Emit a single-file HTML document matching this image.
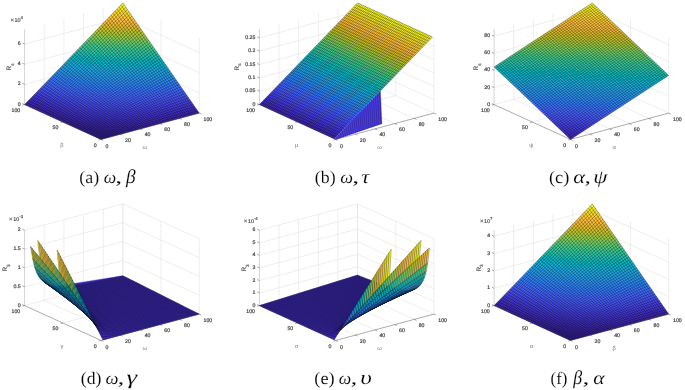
<!DOCTYPE html>
<html><head><meta charset="utf-8"><style>
html,body{margin:0;padding:0;background:#fff;width:685px;height:390px;overflow:hidden}
svg{display:block;font-family:"Liberation Sans",sans-serif;text-rendering:geometricPrecision}
.cap{font-family:"Liberation Serif",serif;font-size:17.5px;fill:#000;text-rendering:geometricPrecision;stroke:#fff;stroke-width:0.12px}
</style></head><body>
<div style="will-change:transform;width:685px;height:390px;background:#fff"><svg width="685" height="390" viewBox="0 0 685 390">
<rect width="685" height="390" fill="#fff"/>
<path d="M120.6 134.1L44.2 99.3M140.3 128.9L63.9 94.1M159.9 123.6L83.5 88.8M179.6 118.4L103.2 83.6M199.2 113.1L122.8 78.3M62.8 122L161 95.7M24.6 104.6L122.8 78.3M199.2 113.1L199.2 37.7M161 95.7L161 20.3M122.8 78.3L122.8 2.9M199.2 92.9L122.8 58.1M199.2 72.7L122.8 37.9M199.2 52.5L122.8 17.7M44.2 99.3L44.2 23.9M63.9 94.1L63.9 18.7M83.5 88.8L83.5 13.4M103.2 83.6L103.2 8.2M122.8 78.3L122.8 2.9M24.6 84.4L122.8 58.1M24.6 64.2L122.8 37.9M24.6 44L122.8 17.7" stroke="#e3e3e3" stroke-width="0.6" fill="none"/>
<path d="M24.6 104.6L24.6 29.2" stroke="#c8c8c8" stroke-width="0.8" fill="none"/><path d="M101 139.4L199.2 113.1M101 139.4L24.6 104.6M101 139.4L103.2 140.4M120.6 134.1L122.8 135.1M140.3 128.9L142.5 129.9M159.9 123.6L162.1 124.6M179.6 118.4L181.7 119.4M199.2 113.1L201.4 114.1M101 139.4L98.7 140M62.8 122L60.5 122.6M24.6 104.6L22.3 105.2M24.6 104.6L22.4 103.6M24.6 84.4L22.4 83.4M24.6 64.2L22.4 63.2M24.6 44L22.4 43" stroke="#666" stroke-width="0.55" fill="none"/>
<mask id="c1" maskUnits="userSpaceOnUse" x="0" y="0" width="685" height="390"><path d="M101 139.4L199.2 113.1L122.8 2.9L24.6 104.6Z" fill="#fff"/></mask><g mask="url(#c1)">
<path d="M100.3 141.2L204.4 115.7L123.5 -3.5L19.4 106.7Z" fill="#3e26a8"/>
<path d="M23.8 102L75.5 123.7L89.4 128.2L96.9 129.9L102.2 130.5L106.5 130.7L110.3 130.6L113.7 130.3L116.9 130L120 129.6L123 129.1L125.8 128.6L128.7 128.1L131.4 127.6L134.1 127L136.8 126.4L139.5 125.9L142.2 125.3L144.8 124.7L147.4 124.1L150 123.4L152.6 122.8L155.2 122.2L157.8 121.6L160.4 120.9L162.9 120.3L165.5 119.7L168.1 119L170.6 118.4L173.2 117.7L175.7 117.1L178.2 116.5L180.8 115.8L183.3 115.2L185.8 114.5L188.4 113.9L190.9 113.2L193.4 112.6L195.9 111.9L198.5 111.3L201 110.6L123.5 -3.5L23.8 102Z" fill="#402ab4"/>
<path d="M25.3 100.4L63.3 115.9L79.2 121.4L88.7 123.9L95.5 125.3L100.9 126L105.5 126.3L109.5 126.3L113.2 126.3L116.7 126.1L120 125.8L123.2 125.5L126.2 125.1L129.2 124.6L132.1 124.2L134.9 123.7L137.7 123.2L140.5 122.7L143.2 122.2L145.9 121.6L148.6 121L151.2 120.5L153.9 119.9L156.5 119.3L159.1 118.7L161.7 118.2L164.3 117.6L166.9 117L169.4 116.4L172 115.7L174.5 115.1L177.1 114.5L179.6 113.9L182.2 113.3L184.7 112.7L187.2 112L189.8 111.4L192.3 110.8L194.8 110.2L197.3 109.5L199.8 108.9L123.5 -3.5L25.3 100.4Z" fill="#422ec0"/>
<path d="M26.8 98.8L56.8 110.8L72.5 116.2L82.7 119.1L90.3 120.7L96.3 121.8L101.4 122.3L105.9 122.6L110 122.8L113.8 122.7L117.4 122.6L120.7 122.4L124 122.1L127.1 121.8L130.1 121.4L133.1 121L136 120.6L138.8 120.1L141.6 119.7L144.4 119.2L147.1 118.7L149.9 118.2L152.5 117.6L155.2 117.1L157.8 116.6L160.5 116L163.1 115.5L165.7 114.9L168.3 114.3L170.8 113.7L173.4 113.2L176 112.6L178.5 112L181.1 111.4L183.6 110.8L186.1 110.2L188.6 109.6L191.1 109L193.7 108.4L196.2 107.8L198.7 107.2L123.5 -3.5L26.8 98.8Z" fill="#4332cb"/>
<path d="M28.3 97.2L53.1 106.8L68 111.9L78.3 114.9L86.2 116.7L92.6 117.9L98.1 118.7L102.9 119.2L107.2 119.4L111.2 119.6L115 119.5L118.5 119.4L121.9 119.3L125.2 119L128.3 118.7L131.4 118.4L134.4 118L137.3 117.7L140.2 117.2L143 116.8L145.8 116.4L148.5 115.9L151.3 115.4L154 114.9L156.6 114.4L159.3 113.9L161.9 113.4L164.5 112.8L167.1 112.3L169.7 111.8L172.3 111.2L174.8 110.7L177.4 110.1L179.9 109.5L182.5 109L185 108.4L187.5 107.8L190 107.2L192.5 106.7L195 106.1L197.5 105.5L123.5 -3.5L28.3 97.2Z" fill="#4537d5"/>
<path d="M29.8 95.7L50.9 103.6L64.8 108.3L75 111.2L83 113.1L89.6 114.4L95.2 115.3L100.3 115.9L104.8 116.3L109 116.5L112.9 116.6L116.6 116.6L120.1 116.5L123.4 116.3L126.7 116.1L129.8 115.8L132.9 115.5L135.9 115.2L138.8 114.8L141.7 114.5L144.5 114.1L147.3 113.6L150 113.2L152.8 112.7L155.5 112.3L158.1 111.8L160.8 111.3L163.4 110.8L166 110.3L168.6 109.8L171.2 109.3L173.7 108.7L176.3 108.2L178.8 107.7L181.4 107.1L183.9 106.6L186.4 106L188.9 105.5L191.4 104.9L193.9 104.3L196.4 103.8L123.5 -3.5L29.8 95.7Z" fill="#463cde"/>
<path d="M31.2 94.1L49.7 100.8L62.6 105.1L72.5 107.9L80.4 109.8L87.1 111.2L92.9 112.2L98 112.8L102.7 113.3L107 113.6L111 113.7L114.8 113.8L118.4 113.8L121.8 113.7L125.1 113.5L128.4 113.3L131.5 113.1L134.5 112.8L137.5 112.5L140.4 112.1L143.3 111.8L146.1 111.4L148.9 111L151.6 110.6L154.3 110.1L157 109.7L159.7 109.2L162.3 108.8L164.9 108.3L167.5 107.8L170.1 107.3L172.7 106.8L175.2 106.3L177.7 105.8L180.3 105.3L182.8 104.8L185.3 104.2L187.8 103.7L190.2 103.2L192.7 102.6L195.2 102.1L123.5 -3.5L31.2 94.1Z" fill="#4741e5"/>
<path d="M32.7 92.5L49.1 98.3L61.1 102.2L70.6 104.8L78.4 106.8L85.1 108.2L90.9 109.2L96.1 109.9L100.9 110.4L105.2 110.8L109.3 111L113.2 111.1L116.8 111.1L120.4 111.1L123.7 111L127 110.8L130.1 110.6L133.2 110.4L136.2 110.1L139.2 109.8L142.1 109.5L144.9 109.2L147.7 108.8L150.5 108.4L153.2 108L155.9 107.6L158.6 107.2L161.2 106.7L163.8 106.3L166.4 105.8L169 105.4L171.6 104.9L174.1 104.4L176.6 103.9L179.2 103.4L181.7 102.9L184.2 102.4L186.6 101.9L189.1 101.4L191.6 100.9L194 100.4L123.5 -3.5L32.7 92.5Z" fill="#4747eb"/>
<path d="M34.2 90.9L48.9 96L60.1 99.5L69.2 102L76.8 103.9L83.4 105.3L89.2 106.3L94.5 107.1L99.3 107.7L103.7 108.1L107.8 108.3L111.7 108.5L115.4 108.6L119 108.6L122.4 108.5L125.7 108.4L128.9 108.3L132 108.1L135.1 107.8L138 107.6L140.9 107.3L143.8 107L146.6 106.6L149.4 106.3L152.1 105.9L154.8 105.5L157.5 105.1L160.1 104.7L162.8 104.3L165.4 103.9L167.9 103.4L170.5 103L173 102.5L175.6 102.1L178.1 101.6L180.6 101.1L183.1 100.6L185.5 100.2L188 99.7L190.4 99.2L192.9 98.7L123.5 -3.5L34.2 90.9Z" fill="#484df0"/>
<path d="M35.7 89.4L49 93.8L59.5 97L68.2 99.4L75.6 101.2L82.1 102.6L87.9 103.6L93.1 104.4L97.9 105L102.3 105.4L106.5 105.7L110.4 105.9L114.2 106.1L117.8 106.1L121.2 106.1L124.5 106L127.8 105.9L130.9 105.7L133.9 105.5L136.9 105.3L139.9 105.1L142.7 104.8L145.6 104.5L148.3 104.2L151.1 103.8L153.8 103.5L156.5 103.1L159.1 102.7L161.7 102.3L164.3 101.9L166.9 101.5L169.4 101.1L172 100.7L174.5 100.2L177 99.8L179.5 99.3L182 98.9L184.4 98.4L186.9 97.9L189.3 97.4L191.7 97L123.5 -3.5L35.7 89.4Z" fill="#4852f4"/>
<path d="M37.2 87.8L49.3 91.7L59.2 94.7L67.5 96.9L74.7 98.6L81 99.9L86.7 101L91.9 101.8L96.7 102.4L101.1 102.9L105.3 103.2L109.3 103.4L113 103.6L116.6 103.7L120.1 103.7L123.4 103.7L126.7 103.6L129.8 103.5L132.9 103.3L135.9 103.1L138.8 102.9L141.7 102.6L144.5 102.4L147.3 102.1L150.1 101.8L152.8 101.4L155.4 101.1L158.1 100.7L160.7 100.4L163.3 100L165.9 99.6L168.4 99.2L170.9 98.8L173.4 98.4L175.9 97.9L178.4 97.5L180.9 97.1L183.3 96.6L185.7 96.2L188.1 95.7L190.6 95.3L123.5 -3.5L37.2 87.8Z" fill="#4758f8"/>
<path d="M38.7 86.2L49.8 89.7L59.1 92.4L67 94.5L74 96.2L80.2 97.4L85.8 98.5L90.9 99.3L95.7 99.9L100.1 100.4L104.3 100.7L108.2 101L112 101.2L115.6 101.3L119.1 101.4L122.4 101.3L125.6 101.3L128.8 101.2L131.9 101.1L134.9 100.9L137.8 100.7L140.7 100.5L143.5 100.2L146.3 100L149.1 99.7L151.8 99.4L154.4 99.1L157.1 98.7L159.7 98.4L162.3 98L164.8 97.7L167.4 97.3L169.9 96.9L172.4 96.5L174.9 96.1L177.3 95.7L179.8 95.3L182.2 94.9L184.6 94.4L187 94L189.4 93.5L123.5 -3.5L38.7 86.2Z" fill="#465efb"/>
<path d="M40.2 84.6L50.5 87.8L59.2 90.3L66.8 92.2L73.5 93.8L79.6 95L85 96L90.1 96.8L94.8 97.5L99.2 98L103.3 98.3L107.3 98.6L111 98.8L114.6 99L118.1 99L121.5 99.1L124.7 99L127.9 99L130.9 98.9L133.9 98.7L136.9 98.6L139.8 98.4L142.6 98.1L145.4 97.9L148.1 97.6L150.8 97.4L153.5 97.1L156.1 96.8L158.7 96.5L161.3 96.1L163.8 95.8L166.3 95.4L168.8 95.1L171.3 94.7L173.8 94.3L176.2 93.9L178.7 93.5L181.1 93.1L183.5 92.7L185.9 92.3L188.2 91.8L123.5 -3.5L40.2 84.6Z" fill="#4563fd"/>
<path d="M41.7 83.1L51.2 85.9L59.5 88.2L66.7 90L73.2 91.5L79.1 92.7L84.5 93.7L89.4 94.5L94.1 95.1L98.4 95.6L102.5 96L106.4 96.3L110.2 96.5L113.8 96.7L117.2 96.8L120.6 96.8L123.8 96.8L127 96.8L130 96.7L133 96.6L136 96.4L138.8 96.3L141.7 96.1L144.4 95.8L147.2 95.6L149.9 95.4L152.5 95.1L155.1 94.8L157.7 94.5L160.3 94.2L162.8 93.9L165.3 93.5L167.8 93.2L170.3 92.8L172.7 92.5L175.2 92.1L177.6 91.7L180 91.3L182.4 90.9L184.7 90.5L187.1 90.1L123.5 -3.5L41.7 83.1Z" fill="#4269fe"/>
<path d="M43.2 81.5L52.1 84.1L59.9 86.2L66.8 87.9L73.1 89.3L78.8 90.4L84 91.4L88.9 92.1L93.5 92.8L97.8 93.3L101.8 93.7L105.7 94L109.4 94.2L113 94.4L116.4 94.5L119.8 94.6L123 94.6L126.1 94.6L129.2 94.5L132.2 94.4L135.1 94.3L138 94.2L140.8 94L143.5 93.8L146.3 93.6L148.9 93.4L151.6 93.1L154.2 92.8L156.8 92.6L159.3 92.3L161.8 92L164.3 91.7L166.8 91.3L169.3 91L171.7 90.7L174.1 90.3L176.5 89.9L178.9 89.6L181.2 89.2L183.6 88.8L185.9 88.4L123.5 -3.5L43.2 81.5Z" fill="#3e6fff"/>
<path d="M44.7 79.9L53 82.3L60.4 84.2L67 85.8L73 87.1L78.6 88.2L83.7 89.1L88.5 89.9L93 90.5L97.2 91L101.2 91.4L105.1 91.7L108.7 92L112.3 92.2L115.7 92.3L119 92.4L122.2 92.4L125.3 92.4L128.4 92.4L131.4 92.3L134.3 92.2L137.1 92.1L139.9 91.9L142.7 91.8L145.4 91.6L148 91.4L150.7 91.1L153.3 90.9L155.8 90.6L158.4 90.4L160.9 90.1L163.3 89.8L165.8 89.5L168.2 89.2L170.6 88.8L173 88.5L175.4 88.2L177.8 87.8L180.1 87.5L182.4 87.1L184.8 86.7L123.5 -3.5L44.7 79.9Z" fill="#3875fe"/>
<path d="M46.1 78.3L54 80.5L61 82.3L67.3 83.8L73.1 85L78.5 86.1L83.5 86.9L88.2 87.7L92.6 88.3L96.7 88.8L100.7 89.2L104.5 89.5L108.1 89.8L111.7 90L115 90.1L118.3 90.2L121.5 90.3L124.6 90.3L127.6 90.3L130.6 90.2L133.5 90.1L136.3 90L139.1 89.9L141.8 89.8L144.5 89.6L147.2 89.4L149.8 89.2L152.3 89L154.9 88.7L157.4 88.5L159.9 88.2L162.4 87.9L164.8 87.6L167.2 87.3L169.6 87L172 86.7L174.3 86.4L176.7 86.1L179 85.7L181.3 85.4L183.6 85L123.5 -3.5L46.1 78.3Z" fill="#327cfc"/>
<path d="M47.6 76.7L55 78.7L61.7 80.4L67.7 81.8L73.3 83L78.5 84L83.4 84.8L88 85.5L92.3 86.1L96.4 86.6L100.3 87L104 87.3L107.6 87.6L111.1 87.8L114.4 88L117.7 88.1L120.8 88.2L123.9 88.2L126.9 88.2L129.9 88.1L132.7 88.1L135.5 88L138.3 87.9L141 87.7L143.7 87.6L146.3 87.4L148.9 87.2L151.5 87L154 86.8L156.5 86.6L158.9 86.3L161.4 86.1L163.8 85.8L166.2 85.5L168.6 85.2L170.9 84.9L173.3 84.6L175.6 84.3L177.9 84L180.2 83.6L182.4 83.3L123.5 -3.5L47.6 76.7Z" fill="#2f81fa"/>
<path d="M49.1 75.2L56.1 77L62.4 78.5L68.2 79.8L73.6 81L78.7 81.9L83.4 82.7L87.8 83.4L92.1 84L96.1 84.5L99.9 84.9L103.6 85.2L107.2 85.5L110.6 85.7L113.9 85.9L117.1 86L120.2 86.1L123.3 86.1L126.2 86.1L129.2 86.1L132 86L134.8 86L137.5 85.9L140.2 85.7L142.9 85.6L145.5 85.5L148 85.3L150.6 85.1L153.1 84.9L155.6 84.7L158 84.4L160.4 84.2L162.8 83.9L165.2 83.7L167.6 83.4L169.9 83.1L172.2 82.8L174.5 82.5L176.8 82.2L179 81.9L181.3 81.6L123.5 -3.5L49.1 75.2Z" fill="#2e87f7"/>
<path d="M50.6 73.6L57.2 75.3L63.2 76.7L68.8 77.9L74 79L78.9 79.9L83.5 80.6L87.8 81.3L91.9 81.9L95.9 82.3L99.6 82.7L103.3 83.1L106.7 83.4L110.1 83.6L113.4 83.7L116.6 83.9L119.7 84L122.7 84L125.6 84L128.5 84L131.3 84L134.1 83.9L136.8 83.9L139.5 83.8L142.1 83.6L144.7 83.5L147.2 83.3L149.7 83.2L152.2 83L154.7 82.8L157.1 82.6L159.5 82.3L161.9 82.1L164.2 81.9L166.5 81.6L168.8 81.3L171.1 81.1L173.4 80.8L175.7 80.5L177.9 80.2L180.1 79.9L123.5 -3.5L50.6 73.6Z" fill="#2d8cf3"/>
<path d="M52.1 72L58.3 73.6L64.1 74.9L69.4 76L74.4 77L79.2 77.9L83.6 78.6L87.8 79.3L91.9 79.8L95.7 80.3L99.4 80.7L103 81L106.4 81.3L109.7 81.5L113 81.7L116.1 81.8L119.1 81.9L122.1 82L125 82L127.9 82L130.7 82L133.4 81.9L136.1 81.9L138.7 81.8L141.3 81.7L143.9 81.6L146.4 81.4L148.9 81.3L151.3 81.1L153.8 80.9L156.2 80.7L158.5 80.5L160.9 80.3L163.2 80L165.5 79.8L167.8 79.6L170.1 79.3L172.3 79L174.6 78.8L176.8 78.5L179 78.2L123.5 -3.5L52.1 72Z" fill="#2b91ef"/>
<path d="M53.6 70.4L59.5 71.9L65 73.1L70.1 74.2L74.9 75.1L79.5 75.9L83.8 76.6L87.9 77.2L91.9 77.8L95.6 78.2L99.3 78.6L102.7 78.9L106.1 79.2L109.4 79.4L112.6 79.6L115.7 79.8L118.7 79.9L121.6 79.9L124.5 80L127.3 80L130 80L132.7 80L135.4 79.9L138 79.8L140.6 79.7L143.1 79.6L145.6 79.5L148.1 79.4L150.5 79.2L152.9 79L155.3 78.8L157.6 78.7L159.9 78.4L162.2 78.2L164.5 78L166.8 77.8L169 77.5L171.2 77.3L173.4 77L175.6 76.8L177.8 76.5L123.5 -3.5L53.6 70.4Z" fill="#2797eb"/>
<path d="M55.1 68.9L60.7 70.2L65.9 71.3L70.9 72.3L75.5 73.2L79.9 74L84.1 74.7L88.1 75.2L91.9 75.8L95.6 76.2L99.1 76.6L102.6 76.9L105.9 77.2L109.1 77.4L112.2 77.6L115.3 77.7L118.2 77.8L121.1 77.9L124 78L126.7 78L129.4 78L132.1 78L134.7 77.9L137.3 77.9L139.8 77.8L142.4 77.7L144.8 77.6L147.2 77.5L149.7 77.3L152 77.2L154.4 77L156.7 76.8L159 76.6L161.3 76.4L163.5 76.2L165.7 76L168 75.8L170.2 75.5L172.3 75.3L174.5 75L176.6 74.8L123.5 -3.5L55.1 68.9Z" fill="#259be8"/>
<path d="M56.6 67.3L61.9 68.5L66.9 69.6L71.6 70.5L76.1 71.3L80.4 72.1L84.4 72.7L88.3 73.3L92 73.8L95.6 74.2L99.1 74.6L102.5 74.9L105.7 75.1L108.9 75.4L111.9 75.6L114.9 75.7L117.8 75.8L120.7 75.9L123.5 76L126.2 76L128.9 76L131.5 76L134.1 76L136.6 75.9L139.1 75.9L141.6 75.8L144.1 75.7L146.5 75.6L148.8 75.4L151.2 75.3L153.5 75.1L155.8 75L158.1 74.8L160.3 74.6L162.5 74.4L164.7 74.2L166.9 74L169.1 73.8L171.2 73.6L173.4 73.3L175.5 73.1L123.5 -3.5L56.6 67.3Z" fill="#23a0e5"/>
<path d="M58.1 65.7L63.1 66.8L67.9 67.8L72.5 68.7L76.8 69.5L80.9 70.2L84.8 70.8L88.6 71.3L92.2 71.8L95.7 72.2L99.1 72.6L102.4 72.9L105.6 73.2L108.7 73.4L111.7 73.6L114.6 73.7L117.5 73.8L120.3 73.9L123 74L125.7 74.1L128.3 74.1L130.9 74.1L133.5 74L136 74L138.5 74L140.9 73.9L143.3 73.8L145.7 73.7L148 73.6L150.3 73.4L152.6 73.3L154.9 73.1L157.1 73L159.3 72.8L161.5 72.6L163.7 72.4L165.9 72.2L168 72L170.1 71.8L172.2 71.6L174.3 71.4L123.5 -3.5L58.1 65.7Z" fill="#20a5e3"/>
<path d="M59.6 64.1L64.4 65.2L69 66.1L73.3 66.9L77.5 67.7L81.4 68.3L85.2 68.9L88.9 69.4L92.4 69.9L95.8 70.3L99.1 70.6L102.4 70.9L105.5 71.2L108.5 71.4L111.4 71.6L114.3 71.7L117.1 71.9L119.9 72L122.6 72L125.2 72.1L127.8 72.1L130.4 72.1L132.9 72.1L135.4 72.1L137.8 72L140.2 72L142.6 71.9L144.9 71.8L147.2 71.7L149.5 71.6L151.8 71.5L154 71.3L156.2 71.2L158.4 71L160.6 70.8L162.7 70.7L164.8 70.5L166.9 70.3L169 70.1L171.1 69.9L173.2 69.7L123.5 -3.5L59.6 64.1Z" fill="#1ca9df"/>
<path d="M61 62.6L65.6 63.5L70 64.4L74.2 65.2L78.2 65.9L82 66.5L85.7 67L89.3 67.5L92.7 67.9L96 68.3L99.2 68.7L102.4 69L105.4 69.2L108.4 69.4L111.3 69.6L114.1 69.8L116.8 69.9L119.6 70L122.2 70.1L124.8 70.2L127.4 70.2L129.9 70.2L132.3 70.2L134.8 70.2L137.2 70.1L139.5 70.1L141.9 70L144.2 69.9L146.4 69.9L148.7 69.7L150.9 69.6L153.1 69.5L155.3 69.4L157.4 69.2L159.6 69.1L161.7 68.9L163.8 68.7L165.9 68.5L167.9 68.4L170 68.2L172 68L123.5 -3.5L61 62.6Z" fill="#18addb"/>
<path d="M62.5 61L66.9 61.9L71.1 62.7L75.1 63.4L79 64.1L82.7 64.6L86.2 65.2L89.7 65.6L93 66L96.2 66.4L99.4 66.7L102.4 67L105.4 67.3L108.3 67.5L111.1 67.7L113.9 67.8L116.6 68L119.2 68.1L121.8 68.2L124.4 68.2L126.9 68.3L129.4 68.3L131.8 68.3L134.2 68.3L136.6 68.3L138.9 68.2L141.2 68.2L143.4 68.1L145.7 68L147.9 67.9L150.1 67.8L152.2 67.7L154.4 67.6L156.5 67.4L158.6 67.3L160.7 67.1L162.8 67L164.8 66.8L166.8 66.6L168.9 66.4L170.9 66.2L123.5 -3.5L62.5 61Z" fill="#12b1d6"/>
<path d="M64 59.4L68.2 60.2L72.2 61L76.1 61.7L79.8 62.3L83.3 62.8L86.8 63.3L90.1 63.8L93.4 64.2L96.5 64.5L99.5 64.8L102.5 65.1L105.4 65.4L108.2 65.6L111 65.8L113.7 65.9L116.4 66L119 66.2L121.5 66.2L124 66.3L126.5 66.4L128.9 66.4L131.3 66.4L133.6 66.4L135.9 66.4L138.2 66.3L140.5 66.3L142.7 66.2L144.9 66.2L147.1 66.1L149.2 66L151.4 65.9L153.5 65.8L155.6 65.6L157.6 65.5L159.7 65.4L161.7 65.2L163.7 65.1L165.7 64.9L167.7 64.7L169.7 64.5L123.5 -3.5L64 59.4Z" fill="#08b5d0"/>
<path d="M65.5 57.8L69.5 58.6L73.4 59.3L77 59.9L80.6 60.5L84.1 61L87.4 61.5L90.6 61.9L93.7 62.3L96.8 62.6L99.8 62.9L102.6 63.2L105.5 63.4L108.2 63.7L110.9 63.8L113.6 64L116.2 64.1L118.7 64.2L121.2 64.3L123.7 64.4L126.1 64.4L128.4 64.5L130.8 64.5L133.1 64.5L135.4 64.5L137.6 64.5L139.8 64.4L142 64.4L144.2 64.3L146.3 64.2L148.4 64.2L150.5 64.1L152.6 64L154.7 63.8L156.7 63.7L158.7 63.6L160.7 63.5L162.7 63.3L164.6 63.2L166.6 63L168.5 62.8L123.5 -3.5L65.5 57.8Z" fill="#01b8ca"/>
<path d="M67 56.2L70.8 57L74.5 57.6L78 58.2L81.5 58.8L84.8 59.2L88 59.7L91.1 60.1L94.2 60.4L97.1 60.8L100 61.1L102.8 61.3L105.6 61.6L108.3 61.8L110.9 61.9L113.5 62.1L116 62.2L118.5 62.3L120.9 62.4L123.3 62.5L125.7 62.6L128 62.6L130.3 62.6L132.6 62.6L134.8 62.6L137 62.6L139.2 62.6L141.3 62.5L143.4 62.5L145.5 62.4L147.6 62.3L149.7 62.3L151.7 62.2L153.7 62.1L155.7 62L157.7 61.8L159.7 61.7L161.6 61.6L163.6 61.4L165.5 61.3L167.4 61.1L123.5 -3.5L67 56.2Z" fill="#02bac3"/>
<path d="M68.5 54.7L72.1 55.3L75.7 55.9L79.1 56.5L82.4 57L85.6 57.5L88.7 57.9L91.7 58.3L94.6 58.6L97.5 58.9L100.3 59.2L103 59.5L105.7 59.7L108.3 59.9L110.9 60.1L113.4 60.2L115.9 60.3L118.3 60.5L120.7 60.5L123 60.6L125.3 60.7L127.6 60.7L129.9 60.8L132.1 60.8L134.3 60.8L136.4 60.8L138.5 60.7L140.6 60.7L142.7 60.7L144.8 60.6L146.8 60.5L148.8 60.5L150.8 60.4L152.8 60.3L154.8 60.2L156.7 60.1L158.7 60L160.6 59.8L162.5 59.7L164.3 59.6L166.2 59.4L123.5 -3.5L68.5 54.7Z" fill="#0bbdbd"/>
<path d="M70 53.1L73.5 53.7L76.8 54.3L80.1 54.8L83.3 55.3L86.3 55.7L89.3 56.1L92.2 56.5L95.1 56.8L97.9 57.1L100.6 57.4L103.2 57.6L105.8 57.8L108.4 58L110.9 58.2L113.3 58.3L115.7 58.5L118.1 58.6L120.4 58.7L122.7 58.7L125 58.8L127.2 58.9L129.4 58.9L131.6 58.9L133.7 58.9L135.8 58.9L137.9 58.9L140 58.9L142 58.8L144 58.8L146 58.7L148 58.7L150 58.6L151.9 58.5L153.8 58.4L155.7 58.3L157.6 58.2L159.5 58.1L161.4 58L163.2 57.8L165.1 57.7L123.5 -3.5L70 53.1Z" fill="#19bfb6"/>
<path d="M71.5 51.5L74.8 52.1L78 52.6L81.1 53.1L84.2 53.5L87.2 54L90 54.3L92.9 54.7L95.6 55L98.3 55.3L100.9 55.5L103.5 55.8L106 56L108.5 56.2L110.9 56.3L113.3 56.5L115.7 56.6L118 56.7L120.2 56.8L122.5 56.9L124.7 56.9L126.9 57L129 57L131.1 57.1L133.2 57.1L135.3 57.1L137.3 57.1L139.3 57L141.3 57L143.3 57L145.3 56.9L147.2 56.9L149.1 56.8L151 56.7L152.9 56.6L154.8 56.6L156.6 56.5L158.5 56.4L160.3 56.2L162.1 56.1L163.9 56L123.5 -3.5L71.5 51.5Z" fill="#24c1ae"/>
<path d="M73 49.9L76.1 50.5L79.2 51L82.2 51.4L85.1 51.8L88 52.2L90.8 52.6L93.5 52.9L96.1 53.2L98.7 53.5L101.3 53.7L103.8 53.9L106.2 54.1L108.6 54.3L111 54.5L113.3 54.6L115.6 54.7L117.8 54.9L120.1 54.9L122.2 55L124.4 55.1L126.5 55.2L128.6 55.2L130.7 55.2L132.7 55.2L134.7 55.2L136.7 55.2L138.7 55.2L140.7 55.2L142.6 55.2L144.5 55.1L146.4 55.1L148.3 55L150.1 55L152 54.9L153.8 54.8L155.6 54.7L157.4 54.6L159.2 54.5L161 54.4L162.7 54.3L123.5 -3.5L73 49.9Z" fill="#2cc4a7"/>
<path d="M74.4 48.4L77.5 48.9L80.4 49.3L83.3 49.7L86.1 50.1L88.8 50.5L91.5 50.8L94.1 51.1L96.7 51.4L99.2 51.7L101.7 51.9L104.1 52.1L106.5 52.3L108.8 52.5L111.1 52.6L113.3 52.8L115.6 52.9L117.7 53L119.9 53.1L122 53.2L124.1 53.3L126.2 53.3L128.2 53.4L130.2 53.4L132.2 53.4L134.2 53.4L136.1 53.4L138.1 53.4L140 53.4L141.9 53.4L143.7 53.3L145.6 53.3L147.4 53.2L149.2 53.2L151.1 53.1L152.8 53L154.6 53L156.4 52.9L158.1 52.8L159.9 52.7L161.6 52.6L123.5 -3.5L74.4 48.4Z" fill="#31c69f"/>
<path d="M75.9 46.8L78.8 47.2L81.7 47.7L84.4 48.1L87.1 48.4L89.7 48.8L92.3 49.1L94.8 49.4L97.3 49.6L99.7 49.9L102.1 50.1L104.4 50.3L106.7 50.5L109 50.7L111.2 50.8L113.4 50.9L115.5 51.1L117.7 51.2L119.8 51.3L121.8 51.4L123.9 51.4L125.9 51.5L127.9 51.5L129.8 51.6L131.8 51.6L133.7 51.6L135.6 51.6L137.5 51.6L139.3 51.6L141.2 51.6L143 51.5L144.8 51.5L146.6 51.5L148.4 51.4L150.1 51.4L151.9 51.3L153.6 51.2L155.3 51.2L157 51.1L158.7 51L160.4 50.9L123.5 -3.5L75.9 46.8Z" fill="#37c897"/>
<path d="M77.4 45.2L80.2 45.6L82.9 46L85.5 46.4L88.1 46.7L90.6 47.1L93.1 47.3L95.5 47.6L97.9 47.9L100.2 48.1L102.5 48.3L104.8 48.5L107 48.7L109.2 48.8L111.3 49L113.5 49.1L115.5 49.2L117.6 49.4L119.6 49.4L121.6 49.5L123.6 49.6L125.6 49.7L127.5 49.7L129.4 49.7L131.3 49.8L133.2 49.8L135 49.8L136.9 49.8L138.7 49.8L140.5 49.8L142.3 49.8L144 49.7L145.8 49.7L147.5 49.7L149.2 49.6L150.9 49.6L152.6 49.5L154.3 49.4L156 49.3L157.6 49.3L159.3 49.2L123.5 -3.5L77.4 45.2Z" fill="#3fca8e"/>
<path d="M78.9 43.6L81.5 44L84.1 44.4L86.6 44.7L89.1 45L91.5 45.3L93.9 45.6L96.2 45.9L98.5 46.1L100.8 46.3L103 46.5L105.2 46.7L107.3 46.9L109.4 47L111.5 47.2L113.5 47.3L115.6 47.4L117.6 47.5L119.5 47.6L121.5 47.7L123.4 47.8L125.3 47.8L127.2 47.9L129 47.9L130.9 48L132.7 48L134.5 48L136.3 48L138 48L139.8 48L141.5 48L143.2 48L144.9 47.9L146.6 47.9L148.3 47.9L150 47.8L151.6 47.8L153.3 47.7L154.9 47.6L156.5 47.6L158.1 47.5L123.5 -3.5L78.9 43.6Z" fill="#4acb84"/>
<path d="M80.4 42L82.9 42.4L85.4 42.8L87.8 43.1L90.1 43.4L92.5 43.6L94.7 43.9L97 44.1L99.2 44.4L101.3 44.6L103.5 44.8L105.6 44.9L107.6 45.1L109.7 45.3L111.7 45.4L113.7 45.5L115.6 45.6L117.5 45.7L119.5 45.8L121.3 45.9L123.2 46L125 46L126.9 46.1L128.7 46.1L130.5 46.2L132.2 46.2L134 46.2L135.7 46.2L137.4 46.2L139.1 46.2L140.8 46.2L142.5 46.2L144.1 46.2L145.8 46.1L147.4 46.1L149 46.1L150.6 46L152.2 46L153.8 45.9L155.4 45.8L156.9 45.8L123.5 -3.5L80.4 42Z" fill="#57cc7a"/>
<path d="M81.9 40.5L84.3 40.8L86.6 41.1L88.9 41.4L91.2 41.7L93.4 42L95.6 42.2L97.7 42.4L99.8 42.6L101.9 42.8L104 43L106 43.2L108 43.3L109.9 43.5L111.9 43.6L113.8 43.7L115.7 43.8L117.5 43.9L119.4 44L121.2 44.1L123 44.2L124.8 44.2L126.6 44.3L128.3 44.3L130 44.4L131.8 44.4L133.5 44.4L135.1 44.4L136.8 44.4L138.5 44.4L140.1 44.4L141.7 44.4L143.3 44.4L144.9 44.4L146.5 44.4L148.1 44.3L149.6 44.3L151.2 44.2L152.7 44.2L154.3 44.1L155.8 44.1L123.5 -3.5L81.9 40.5Z" fill="#64cd6f"/>
<path d="M83.4 38.9L85.7 39.2L87.9 39.5L90.1 39.8L92.2 40L94.4 40.3L96.4 40.5L98.5 40.7L100.5 40.9L102.5 41.1L104.5 41.3L106.4 41.4L108.3 41.6L110.2 41.7L112.1 41.8L113.9 41.9L115.8 42.1L117.6 42.1L119.4 42.2L121.1 42.3L122.9 42.4L124.6 42.4L126.3 42.5L128 42.5L129.7 42.6L131.3 42.6L133 42.6L134.6 42.7L136.2 42.7L137.8 42.7L139.4 42.7L141 42.7L142.5 42.6L144.1 42.6L145.6 42.6L147.1 42.6L148.7 42.5L150.2 42.5L151.7 42.5L153.2 42.4L154.6 42.4L123.5 -3.5L83.4 38.9Z" fill="#72cd64"/>
<path d="M84.9 37.3L87 37.6L89.2 37.9L91.2 38.1L93.3 38.4L95.3 38.6L97.3 38.8L99.3 39L101.2 39.2L103.1 39.4L105 39.5L106.9 39.7L108.7 39.8L110.6 39.9L112.3 40.1L114.1 40.2L115.9 40.3L117.6 40.4L119.3 40.5L121 40.5L122.7 40.6L124.4 40.7L126 40.7L127.7 40.8L129.3 40.8L130.9 40.8L132.5 40.9L134 40.9L135.6 40.9L137.2 40.9L138.7 40.9L140.2 40.9L141.7 40.9L143.2 40.9L144.7 40.9L146.2 40.8L147.7 40.8L149.1 40.8L150.6 40.7L152 40.7L153.5 40.7L123.5 -3.5L84.9 37.3Z" fill="#81cc59"/>
<path d="M86.4 35.7L88.4 36L90.4 36.3L92.4 36.5L94.4 36.7L96.3 36.9L98.2 37.1L100.1 37.3L101.9 37.5L103.8 37.6L105.6 37.8L107.4 37.9L109.1 38.1L110.9 38.2L112.6 38.3L114.3 38.4L116 38.5L117.7 38.6L119.3 38.7L121 38.8L122.6 38.8L124.2 38.9L125.8 38.9L127.3 39L128.9 39L130.5 39.1L132 39.1L133.5 39.1L135 39.1L136.5 39.1L138 39.1L139.5 39.1L140.9 39.1L142.4 39.1L143.8 39.1L145.3 39.1L146.7 39.1L148.1 39.1L149.5 39L150.9 39L152.3 39L123.5 -3.5L86.4 35.7Z" fill="#8fcb4e"/>
<path d="M87.9 34.2L89.8 34.4L91.7 34.6L93.6 34.9L95.5 35.1L97.3 35.3L99.1 35.4L100.9 35.6L102.7 35.8L104.4 35.9L106.2 36.1L107.9 36.2L109.6 36.3L111.2 36.4L112.9 36.6L114.5 36.7L116.1 36.7L117.7 36.8L119.3 36.9L120.9 37L122.5 37.1L124 37.1L125.5 37.2L127.1 37.2L128.6 37.3L130 37.3L131.5 37.3L133 37.3L134.5 37.4L135.9 37.4L137.3 37.4L138.8 37.4L140.2 37.4L141.6 37.4L143 37.4L144.4 37.4L145.7 37.4L147.1 37.3L148.5 37.3L149.8 37.3L151.2 37.2L123.5 -3.5L87.9 34.2Z" fill="#9dc943"/>
<path d="M89.3 32.6L91.2 32.8L93 33L94.8 33.2L96.6 33.4L98.3 33.6L100 33.8L101.7 33.9L103.4 34.1L105.1 34.2L106.8 34.3L108.4 34.5L110 34.6L111.6 34.7L113.2 34.8L114.7 34.9L116.3 35L117.8 35.1L119.4 35.2L120.9 35.2L122.4 35.3L123.8 35.3L125.3 35.4L126.8 35.4L128.2 35.5L129.7 35.5L131.1 35.6L132.5 35.6L133.9 35.6L135.3 35.6L136.7 35.6L138 35.6L139.4 35.6L140.8 35.6L142.1 35.6L143.4 35.6L144.8 35.6L146.1 35.6L147.4 35.6L148.7 35.6L150 35.5L123.5 -3.5L89.3 32.6Z" fill="#abc739"/>
<path d="M90.8 31L92.6 31.2L94.3 31.4L96 31.6L97.7 31.8L99.3 31.9L101 32.1L102.6 32.2L104.2 32.4L105.8 32.5L107.4 32.6L108.9 32.8L110.5 32.9L112 33L113.5 33.1L115 33.2L116.5 33.2L117.9 33.3L119.4 33.4L120.8 33.5L122.3 33.5L123.7 33.6L125.1 33.6L126.5 33.7L127.9 33.7L129.3 33.8L130.6 33.8L132 33.8L133.3 33.9L134.7 33.9L136 33.9L137.3 33.9L138.6 33.9L139.9 33.9L141.2 33.9L142.5 33.9L143.8 33.9L145.1 33.9L146.3 33.9L147.6 33.9L148.8 33.8L123.5 -3.5L90.8 31Z" fill="#b9c431"/>
<path d="M92.3 29.4L94 29.6L95.6 29.8L97.2 30L98.8 30.1L100.4 30.3L101.9 30.4L103.5 30.6L105 30.7L106.5 30.8L108 30.9L109.5 31L110.9 31.1L112.4 31.2L113.8 31.3L115.2 31.4L116.7 31.5L118.1 31.6L119.5 31.7L120.8 31.7L122.2 31.8L123.6 31.8L124.9 31.9L126.2 31.9L127.6 32L128.9 32L130.2 32L131.5 32.1L132.8 32.1L134.1 32.1L135.4 32.1L136.6 32.2L137.9 32.2L139.1 32.2L140.4 32.2L141.6 32.2L142.8 32.2L144.1 32.2L145.3 32.2L146.5 32.1L147.7 32.1L123.5 -3.5L92.3 29.4Z" fill="#c5c22a"/>
<path d="M93.8 27.9L95.4 28L96.9 28.2L98.4 28.3L99.9 28.5L101.4 28.6L102.9 28.8L104.3 28.9L105.8 29L107.2 29.1L108.6 29.2L110 29.3L111.4 29.4L112.8 29.5L114.2 29.6L115.5 29.7L116.9 29.8L118.2 29.9L119.5 29.9L120.8 30L122.1 30L123.4 30.1L124.7 30.1L126 30.2L127.3 30.2L128.5 30.3L129.8 30.3L131 30.3L132.3 30.4L133.5 30.4L134.7 30.4L135.9 30.4L137.1 30.4L138.3 30.4L139.5 30.4L140.7 30.4L141.9 30.5L143 30.4L144.2 30.4L145.4 30.4L146.5 30.4L123.5 -3.5L93.8 27.9Z" fill="#d1bf27"/>
<path d="M95.3 26.3L96.8 26.4L98.2 26.6L99.6 26.7L101 26.9L102.4 27L103.8 27.1L105.2 27.2L106.6 27.3L107.9 27.4L109.3 27.5L110.6 27.6L111.9 27.7L113.2 27.8L114.5 27.9L115.8 28L117.1 28.1L118.3 28.1L119.6 28.2L120.9 28.2L122.1 28.3L123.3 28.4L124.6 28.4L125.8 28.4L127 28.5L128.2 28.5L129.4 28.6L130.6 28.6L131.7 28.6L132.9 28.6L134.1 28.7L135.2 28.7L136.4 28.7L137.5 28.7L138.7 28.7L139.8 28.7L140.9 28.7L142 28.7L143.1 28.7L144.3 28.7L145.4 28.7L123.5 -3.5L95.3 26.3Z" fill="#dcbd29"/>
<path d="M96.8 24.7L98.2 24.8L99.5 25L100.8 25.1L102.2 25.2L103.5 25.3L104.8 25.5L106.1 25.6L107.4 25.7L108.7 25.8L109.9 25.9L111.2 25.9L112.4 26L113.7 26.1L114.9 26.2L116.1 26.3L117.3 26.3L118.5 26.4L119.7 26.5L120.9 26.5L122.1 26.6L123.2 26.6L124.4 26.7L125.6 26.7L126.7 26.8L127.8 26.8L129 26.8L130.1 26.9L131.2 26.9L132.3 26.9L133.4 26.9L134.5 27L135.6 27L136.7 27L137.8 27L138.9 27L140 27L141 27L142.1 27L143.1 27L144.2 27L123.5 -3.5L96.8 24.7Z" fill="#e6bb2d"/>
<path d="M98.3 23.1L99.6 23.3L100.8 23.4L102.1 23.5L103.3 23.6L104.6 23.7L105.8 23.8L107 23.9L108.2 24L109.4 24.1L110.6 24.2L111.8 24.3L112.9 24.3L114.1 24.4L115.3 24.5L116.4 24.6L117.6 24.6L118.7 24.7L119.8 24.7L120.9 24.8L122.1 24.8L123.2 24.9L124.3 24.9L125.3 25L126.4 25L127.5 25.1L128.6 25.1L129.7 25.1L130.7 25.2L131.8 25.2L132.8 25.2L133.9 25.2L134.9 25.2L135.9 25.3L137 25.3L138 25.3L139 25.3L140 25.3L141 25.3L142 25.3L143 25.3L123.5 -3.5L98.3 23.1Z" fill="#f0ba36"/>
<path d="M99.8 21.5L101 21.7L102.1 21.8L103.3 21.9L104.5 22L105.6 22.1L106.8 22.2L107.9 22.3L109 22.3L110.2 22.4L111.3 22.5L112.4 22.6L113.5 22.7L114.6 22.7L115.7 22.8L116.7 22.9L117.8 22.9L118.9 23L119.9 23L121 23.1L122 23.1L123.1 23.2L124.1 23.2L125.2 23.3L126.2 23.3L127.2 23.3L128.2 23.4L129.2 23.4L130.2 23.4L131.2 23.5L132.2 23.5L133.2 23.5L134.2 23.5L135.2 23.5L136.1 23.5L137.1 23.6L138.1 23.6L139 23.6L140 23.6L140.9 23.6L141.9 23.6L123.5 -3.5L99.8 21.5Z" fill="#f8ba3d"/>
<path d="M101.3 20L102.4 20.1L103.5 20.2L104.6 20.3L105.6 20.4L106.7 20.4L107.8 20.5L108.8 20.6L109.9 20.7L110.9 20.8L112 20.8L113 20.9L114 21L115.1 21L116.1 21.1L117.1 21.2L118.1 21.2L119.1 21.3L120.1 21.3L121.1 21.4L122.1 21.4L123 21.5L124 21.5L125 21.5L125.9 21.6L126.9 21.6L127.8 21.6L128.8 21.7L129.7 21.7L130.7 21.7L131.6 21.8L132.5 21.8L133.5 21.8L134.4 21.8L135.3 21.8L136.2 21.8L137.1 21.9L138 21.9L138.9 21.9L139.8 21.9L140.7 21.9L123.5 -3.5L101.3 20Z" fill="#febe3c"/>
<path d="M102.8 18.4L103.8 18.5L104.8 18.6L105.8 18.7L106.8 18.7L107.8 18.8L108.8 18.9L109.8 19L110.7 19L111.7 19.1L112.7 19.2L113.6 19.2L114.6 19.3L115.6 19.4L116.5 19.4L117.4 19.5L118.4 19.5L119.3 19.6L120.2 19.6L121.2 19.7L122.1 19.7L123 19.7L123.9 19.8L124.8 19.8L125.7 19.9L126.6 19.9L127.5 19.9L128.4 20L129.3 20L130.1 20L131 20L131.9 20.1L132.7 20.1L133.6 20.1L134.5 20.1L135.3 20.1L136.2 20.1L137 20.2L137.9 20.2L138.7 20.2L139.6 20.2L123.5 -3.5L102.8 18.4Z" fill="#fec338"/>
<path d="M104.2 16.8L105.2 16.9L106.1 17L107 17L108 17.1L108.9 17.2L109.8 17.3L110.7 17.3L111.6 17.4L112.5 17.5L113.4 17.5L114.3 17.6L115.2 17.6L116.1 17.7L116.9 17.7L117.8 17.8L118.7 17.8L119.5 17.9L120.4 17.9L121.3 18L122.1 18L123 18L123.8 18.1L124.6 18.1L125.5 18.1L126.3 18.2L127.1 18.2L128 18.2L128.8 18.3L129.6 18.3L130.4 18.3L131.2 18.3L132 18.4L132.8 18.4L133.7 18.4L134.5 18.4L135.2 18.4L136 18.4L136.8 18.5L137.6 18.5L138.4 18.5L123.5 -3.5L104.2 16.8Z" fill="#fec934"/>
<path d="M105.7 15.2L106.6 15.3L107.4 15.4L108.3 15.4L109.1 15.5L110 15.6L110.8 15.6L111.7 15.7L112.5 15.8L113.3 15.8L114.1 15.9L114.9 15.9L115.8 16L116.6 16L117.4 16.1L118.2 16.1L119 16.1L119.8 16.2L120.6 16.2L121.4 16.3L122.1 16.3L122.9 16.3L123.7 16.4L124.5 16.4L125.3 16.4L126 16.5L126.8 16.5L127.6 16.5L128.3 16.6L129.1 16.6L129.8 16.6L130.6 16.6L131.3 16.6L132.1 16.7L132.8 16.7L133.6 16.7L134.3 16.7L135 16.7L135.8 16.7L136.5 16.8L137.2 16.8L123.5 -3.5L105.7 15.2Z" fill="#fccf30"/>
<path d="M107.2 13.7L108 13.7L108.8 13.8L109.5 13.8L110.3 13.9L111.1 14L111.8 14L112.6 14.1L113.4 14.1L114.1 14.2L114.9 14.2L115.6 14.3L116.4 14.3L117.1 14.3L117.8 14.4L118.6 14.4L119.3 14.5L120 14.5L120.8 14.5L121.5 14.6L122.2 14.6L122.9 14.6L123.6 14.7L124.3 14.7L125.1 14.7L125.8 14.8L126.5 14.8L127.2 14.8L127.9 14.8L128.6 14.9L129.3 14.9L130 14.9L130.6 14.9L131.3 15L132 15L132.7 15L133.4 15L134.1 15L134.7 15L135.4 15.1L136.1 15.1L123.5 -3.5L107.2 13.7Z" fill="#fad62d"/>
<path d="M108.7 12.1L109.4 12.1L110.1 12.2L110.8 12.2L111.5 12.3L112.2 12.3L112.9 12.4L113.6 12.4L114.3 12.5L114.9 12.5L115.6 12.6L116.3 12.6L117 12.6L117.6 12.7L118.3 12.7L119 12.8L119.6 12.8L120.3 12.8L121 12.9L121.6 12.9L122.3 12.9L122.9 13L123.6 13L124.2 13L124.9 13L125.5 13.1L126.2 13.1L126.8 13.1L127.4 13.1L128.1 13.2L128.7 13.2L129.3 13.2L130 13.2L130.6 13.3L131.2 13.3L131.8 13.3L132.5 13.3L133.1 13.3L133.7 13.3L134.3 13.3L134.9 13.4L123.5 -3.5L108.7 12.1Z" fill="#f7dc2a"/>
<path d="M110.2 10.5L110.8 10.6L111.5 10.6L112.1 10.6L112.7 10.7L113.3 10.7L113.9 10.8L114.5 10.8L115.2 10.8L115.8 10.9L116.4 10.9L117 11L117.6 11L118.2 11L118.8 11.1L119.4 11.1L120 11.1L120.6 11.2L121.2 11.2L121.8 11.2L122.3 11.2L122.9 11.3L123.5 11.3L124.1 11.3L124.7 11.4L125.3 11.4L125.8 11.4L126.4 11.4L127 11.4L127.6 11.5L128.1 11.5L128.7 11.5L129.3 11.5L129.8 11.5L130.4 11.6L131 11.6L131.5 11.6L132.1 11.6L132.7 11.6L133.2 11.6L133.8 11.7L123.5 -3.5L110.2 10.5Z" fill="#f5e327"/>
<path d="M111.7 8.9L112.2 9L112.8 9L113.3 9L113.9 9.1L114.4 9.1L115 9.2L115.5 9.2L116.1 9.2L116.6 9.3L117.1 9.3L117.7 9.3L118.2 9.3L118.7 9.4L119.3 9.4L119.8 9.4L120.3 9.5L120.9 9.5L121.4 9.5L121.9 9.5L122.4 9.6L123 9.6L123.5 9.6L124 9.6L124.5 9.7L125 9.7L125.5 9.7L126.1 9.7L126.6 9.7L127.1 9.8L127.6 9.8L128.1 9.8L128.6 9.8L129.1 9.8L129.6 9.9L130.1 9.9L130.6 9.9L131.1 9.9L131.6 9.9L132.1 9.9L132.6 9.9L123.5 -3.5L111.7 8.9Z" fill="#f5e924"/>
<path d="M113.2 7.4L113.7 7.4L114.1 7.4L114.6 7.4L115.1 7.5L115.6 7.5L116 7.5L116.5 7.6L117 7.6L117.4 7.6L117.9 7.7L118.4 7.7L118.8 7.7L119.3 7.7L119.8 7.8L120.2 7.8L120.7 7.8L121.2 7.8L121.6 7.9L122.1 7.9L122.5 7.9L123 7.9L123.4 7.9L123.9 8L124.3 8L124.8 8L125.2 8L125.7 8L126.1 8.1L126.6 8.1L127 8.1L127.5 8.1L127.9 8.1L128.4 8.1L128.8 8.2L129.3 8.2L129.7 8.2L130.1 8.2L130.6 8.2L131 8.2L131.4 8.2L123.5 -3.5L113.2 7.4Z" fill="#f6ef20"/>
<path d="M114.7 5.8L115.1 5.8L115.5 5.8L115.9 5.9L116.3 5.9L116.7 5.9L117.1 5.9L117.5 6L117.9 6L118.3 6L118.7 6L119.1 6L119.5 6.1L119.9 6.1L120.3 6.1L120.7 6.1L121.1 6.1L121.5 6.2L121.9 6.2L122.2 6.2L122.6 6.2L123 6.2L123.4 6.3L123.8 6.3L124.2 6.3L124.6 6.3L125 6.3L125.3 6.4L125.7 6.4L126.1 6.4L126.5 6.4L126.9 6.4L127.3 6.4L127.6 6.4L128 6.5L128.4 6.5L128.8 6.5L129.2 6.5L129.5 6.5L129.9 6.5L130.3 6.5L123.5 -3.5L114.7 5.8Z" fill="#f7f51b"/>
<path d="M116.2 4.2L116.5 4.2L116.8 4.2L117.2 4.3L117.5 4.3L117.8 4.3L118.2 4.3L118.5 4.3L118.8 4.4L119.2 4.4L119.5 4.4L119.8 4.4L120.1 4.4L120.5 4.4L120.8 4.5L121.1 4.5L121.4 4.5L121.8 4.5L122.1 4.5L122.4 4.5L122.8 4.6L123.1 4.6L123.4 4.6L123.7 4.6L124 4.6L124.4 4.6L124.7 4.7L125 4.7L125.3 4.7L125.6 4.7L126 4.7L126.3 4.7L126.6 4.7L126.9 4.7L127.2 4.8L127.6 4.8L127.9 4.8L128.2 4.8L128.5 4.8L128.8 4.8L129.1 4.8L123.5 -3.5L116.2 4.2Z" fill="#f9fb15"/>
</g>
<path d="M101 139.4L24.6 104.6M101 139.4L199.2 113.1M103 138.9L26.6 102.6M99.5 138.7L197.7 110.9M104.9 138.3L28.5 100.5M97.9 138L196.1 108.7M106.9 137.8L30.5 98.5M96.4 137.3L194.6 106.5M108.9 137.3L32.5 96.5M94.9 136.6L193.1 104.3M110.8 136.8L34.4 94.4M93.4 135.9L191.6 102.1M112.8 136.2L36.4 92.4M91.8 135.2L190 99.9M114.7 135.7L38.3 90.4M90.3 134.5L188.5 97.7M116.7 135.2L40.3 88.3M88.8 133.8L187 95.5M118.7 134.7L42.3 86.3M87.2 133.1L185.4 93.3M120.6 134.1L44.2 84.3M85.7 132.4L183.9 91.1M122.6 133.6L46.2 82.2M84.2 131.7L182.4 88.9M124.6 133.1L48.2 80.2M82.7 131L180.9 86.7M126.5 132.6L50.1 78.2M81.1 130.4L179.3 84.4M128.5 132L52.1 76.1M79.6 129.7L177.8 82.2M130.5 131.5L54.1 74.1M78.1 129L176.3 80M132.4 131L56 72.1M76.6 128.3L174.8 77.8M134.4 130.5L58 70M75 127.6L173.2 75.6M136.4 129.9L60 68M73.5 126.9L171.7 73.4M138.3 129.4L61.9 66M72 126.2L170.2 71.2M140.3 128.9L63.9 63.9M70.4 125.5L168.6 69M142.2 128.4L65.8 61.9M68.9 124.8L167.1 66.8M144.2 127.8L67.8 59.9M67.4 124.1L165.6 64.6M146.2 127.3L69.8 57.8M65.9 123.4L164.1 62.4M148.1 126.8L71.7 55.8M64.3 122.7L162.5 60.2M150.1 126.2L73.7 53.8M62.8 122L161 58M152.1 125.7L75.7 51.7M61.3 121.3L159.5 55.8M154 125.2L77.6 49.7M59.7 120.6L157.9 53.6M156 124.7L79.6 47.6M58.2 119.9L156.4 51.4M158 124.1L81.6 45.6M56.7 119.2L154.9 49.2M159.9 123.6L83.5 43.6M55.2 118.5L153.4 47M161.9 123.1L85.5 41.5M53.6 117.8L151.8 44.8M163.8 122.6L87.4 39.5M52.1 117.1L150.3 42.6M165.8 122L89.4 37.5M50.6 116.4L148.8 40.4M167.8 121.5L91.4 35.4M49 115.7L147.2 38.2M169.7 121L93.3 33.4M47.5 115L145.7 36M171.7 120.5L95.3 31.4M46 114.3L144.2 33.8M173.7 119.9L97.3 29.3M44.5 113.6L142.7 31.6M175.6 119.4L99.2 27.3M42.9 113L141.1 29.3M177.6 118.9L101.2 25.3M41.4 112.3L139.6 27.1M179.6 118.4L103.2 23.2M39.9 111.6L138.1 24.9M181.5 117.8L105.1 21.2M38.4 110.9L136.6 22.7M183.5 117.3L107.1 19.2M36.8 110.2L135 20.5M185.5 116.8L109.1 17.1M35.3 109.5L133.5 18.3M187.4 116.3L111 15.1M33.8 108.8L132 16.1M189.4 115.7L113 13.1M32.2 108.1L130.4 13.9M191.3 115.2L114.9 11M30.7 107.4L128.9 11.7M193.3 114.7L116.9 9M29.2 106.7L127.4 9.5M195.3 114.2L118.9 7M27.7 106L125.9 7.3M197.2 113.6L120.8 4.9M26.1 105.3L124.3 5.1M199.2 113.1L122.8 2.9M24.6 104.6L122.8 2.9" stroke="#000" stroke-opacity="0.6" stroke-width="0.5" fill="none"/>
<g stroke="#4a4a4a" stroke-width="0.2">
<text x="105.4" y="147.8" font-size="5.2" text-anchor="start" fill="#3a3a3a">0</text>
<text x="125" y="142.4" font-size="5.2" text-anchor="start" fill="#3a3a3a">20</text>
<text x="144.7" y="136.3" font-size="5.2" text-anchor="start" fill="#3a3a3a">40</text>
<text x="164.3" y="130.9" font-size="5.2" text-anchor="start" fill="#3a3a3a">60</text>
<text x="184" y="126" font-size="5.2" text-anchor="start" fill="#3a3a3a">80</text>
<text x="203.6" y="120.6" font-size="5.2" text-anchor="start" fill="#3a3a3a">100</text>
<text x="96.6" y="146.9" font-size="5.2" text-anchor="end" fill="#3a3a3a">0</text>
<text x="58.4" y="129.2" font-size="5.2" text-anchor="end" fill="#3a3a3a">50</text>
<text x="20.2" y="111.6" font-size="5.2" text-anchor="end" fill="#3a3a3a">100</text>
<text x="20.6" y="105.6" font-size="5.2" text-anchor="end" fill="#3a3a3a">0</text>
<text x="20.6" y="85.4" font-size="5.2" text-anchor="end" fill="#3a3a3a">2</text>
<text x="20.6" y="65.2" font-size="5.2" text-anchor="end" fill="#3a3a3a">4</text>
<text x="20.6" y="45" font-size="5.2" text-anchor="end" fill="#3a3a3a">6</text>
</g>
<text x="144.7" y="148.8" font-size="5.8" text-anchor="middle" fill="#7a7a7a">ω</text>
<text x="61.9" y="146.6" font-size="5.8" text-anchor="middle" fill="#7a7a7a">β</text>
<text transform="translate(11 67) rotate(-90)" font-size="6.4" text-anchor="middle" fill="#444" stroke="#555" stroke-width="0.15">R<tspan font-size="4.6" dy="2.9">s</tspan></text>
<text x="10.5" y="21.8" font-size="5.4" fill="#444" stroke="#555" stroke-width="0.18"><tspan font-size="6">×</tspan><tspan dx="0.6">10</tspan><tspan font-size="4.3" dy="-2.8">4</tspan></text>
<path d="M590.1 134.1L513.7 99.3M609.8 128.9L533.4 94.1M629.4 123.6L553 88.8M649.1 118.4L572.7 83.6M668.7 113.1L592.3 78.3M532.3 122L630.5 95.7M494.1 104.6L592.3 78.3M668.7 113.1L668.7 37.7M630.5 95.7L630.5 20.3M592.3 78.3L592.3 2.9M668.7 96L592.3 61.2M668.7 78.9L592.3 44.1M668.7 61.7L592.3 26.9M668.7 44.6L592.3 9.8M513.7 99.3L513.7 23.9M533.4 94.1L533.4 18.7M553 88.8L553 13.4M572.7 83.6L572.7 8.2M592.3 78.3L592.3 2.9M494.1 87.5L592.3 61.2M494.1 70.4L592.3 44.1M494.1 53.2L592.3 26.9M494.1 36.1L592.3 9.8" stroke="#e3e3e3" stroke-width="0.6" fill="none"/>
<path d="M494.1 104.6L494.1 29.2" stroke="#c8c8c8" stroke-width="0.8" fill="none"/><path d="M570.5 139.4L668.7 113.1M570.5 139.4L494.1 104.6M570.5 139.4L572.7 140.4M590.1 134.1L592.3 135.1M609.8 128.9L612 129.9M629.4 123.6L631.6 124.6M649.1 118.4L651.2 119.4M668.7 113.1L670.9 114.1M570.5 139.4L568.2 140M532.3 122L530 122.6M494.1 104.6L491.8 105.2M494.1 104.6L491.9 103.6M494.1 87.5L491.9 86.5M494.1 70.4L491.9 69.4M494.1 53.2L491.9 52.3M494.1 36.1L491.9 35.1" stroke="#666" stroke-width="0.55" fill="none"/>
<mask id="c2" maskUnits="userSpaceOnUse" x="0" y="0" width="685" height="390"><path d="M570.5 139.4L668.7 75.4L592.3 2.9L494.1 66.9Z" fill="#fff"/></mask><g mask="url(#c2)">
<path d="M569.8 143.5L673.9 75.7L593 -1.2L488.9 66.6Z" fill="#3e26a8"/>
<path d="M562.9 136.9L567.5 137.1L572.1 137.3L576.8 137.6L580.3 136.7L582.9 135L585.5 133.3L588.1 131.6L590.7 129.9L593.3 128.2L595.9 126.5L598.5 124.8L601.1 123.1L603.7 121.4L606.3 119.8L608.9 118.1L611.5 116.4L614.1 114.7L616.7 113L619.3 111.3L621.9 109.6L624.5 107.9L627.1 106.2L629.7 104.5L632.3 102.8L634.9 101.1L637.5 99.4L640.1 97.7L642.7 96L645.3 94.3L647.9 92.6L650.5 90.9L653.1 89.2L655.7 87.5L658.3 85.8L660.9 84.1L663.5 82.4L666.1 80.7L668.7 79L671.3 77.4L673.9 75.7L593 -1.2L488.9 66.6Z" fill="#402ab4"/>
<path d="M560.5 134.6L565.1 134.8L569.7 135.1L574.4 135.3L579 135.5L582.9 135L585.5 133.3L588.1 131.6L590.7 129.9L593.3 128.2L595.9 126.5L598.5 124.8L601.1 123.1L603.7 121.4L606.3 119.8L608.9 118.1L611.5 116.4L614.1 114.7L616.7 113L619.3 111.3L621.9 109.6L624.5 107.9L627.1 106.2L629.7 104.5L632.3 102.8L634.9 101.1L637.5 99.4L640.1 97.7L642.7 96L645.3 94.3L647.9 92.6L650.5 90.9L653.1 89.2L655.7 87.5L658.3 85.8L660.9 84.1L663.5 82.4L666.1 80.7L668.7 79L671.3 77.4L673.9 75.7L593 -1.2L488.9 66.6Z" fill="#422ec0"/>
<path d="M558.1 132.3L562.7 132.6L567.4 132.8L572 133L576.6 133.2L581.2 133.5L585.5 133.3L588.1 131.6L590.7 129.9L593.3 128.2L595.9 126.5L598.5 124.8L601.1 123.1L603.7 121.4L606.3 119.8L608.9 118.1L611.5 116.4L614.1 114.7L616.7 113L619.3 111.3L621.9 109.6L624.5 107.9L627.1 106.2L629.7 104.5L632.3 102.8L634.9 101.1L637.5 99.4L640.1 97.7L642.7 96L645.3 94.3L647.9 92.6L650.5 90.9L653.1 89.2L655.7 87.5L658.3 85.8L660.9 84.1L663.5 82.4L666.1 80.7L668.7 79L671.3 77.4L673.9 75.7L593 -1.2L488.9 66.6Z" fill="#4332cb"/>
<path d="M555.7 130.1L560.3 130.3L565 130.5L569.6 130.8L574.2 131L578.8 131.2L583.5 131.4L588.1 131.6L590.7 129.9L593.3 128.2L595.9 126.5L598.5 124.8L601.1 123.1L603.7 121.4L606.3 119.8L608.9 118.1L611.5 116.4L614.1 114.7L616.7 113L619.3 111.3L621.9 109.6L624.5 107.9L627.1 106.2L629.7 104.5L632.3 102.8L634.9 101.1L637.5 99.4L640.1 97.7L642.7 96L645.3 94.3L647.9 92.6L650.5 90.9L653.1 89.2L655.7 87.5L658.3 85.8L660.9 84.1L663.5 82.4L666.1 80.7L668.7 79L671.3 77.4L673.9 75.7L593 -1.2L488.9 66.6Z" fill="#4537d5"/>
<path d="M553.3 127.8L558 128L562.6 128.3L567.2 128.5L571.8 128.7L576.5 128.9L581.1 129.2L585.7 129.4L590.3 129.6L593.3 128.2L595.9 126.5L598.5 124.8L601.1 123.1L603.7 121.4L606.3 119.8L608.9 118.1L611.5 116.4L614.1 114.7L616.7 113L619.3 111.3L621.9 109.6L624.5 107.9L627.1 106.2L629.7 104.5L632.3 102.8L634.9 101.1L637.5 99.4L640.1 97.7L642.7 96L645.3 94.3L647.9 92.6L650.5 90.9L653.1 89.2L655.7 87.5L658.3 85.8L660.9 84.1L663.5 82.4L666.1 80.7L668.7 79L671.3 77.4L673.9 75.7L593 -1.2L488.9 66.6Z" fill="#463cde"/>
<path d="M550.9 125.6L555.6 125.8L560.2 126L564.8 126.2L569.4 126.5L574.1 126.7L578.7 126.9L583.3 127.1L588 127.4L592.6 127.6L595.9 126.5L598.5 124.8L601.1 123.1L603.7 121.4L606.3 119.8L608.9 118.1L611.5 116.4L614.1 114.7L616.7 113L619.3 111.3L621.9 109.6L624.5 107.9L627.1 106.2L629.7 104.5L632.3 102.8L634.9 101.1L637.5 99.4L640.1 97.7L642.7 96L645.3 94.3L647.9 92.6L650.5 90.9L653.1 89.2L655.7 87.5L658.3 85.8L660.9 84.1L663.5 82.4L666.1 80.7L668.7 79L671.3 77.4L673.9 75.7L593 -1.2L488.9 66.6Z" fill="#4741e5"/>
<path d="M548.5 123.3L553.2 123.5L557.8 123.7L562.4 124L567.1 124.2L571.7 124.4L576.3 124.6L580.9 124.9L585.6 125.1L590.2 125.3L594.8 125.5L598.5 124.8L601.1 123.1L603.7 121.4L606.3 119.8L608.9 118.1L611.5 116.4L614.1 114.7L616.7 113L619.3 111.3L621.9 109.6L624.5 107.9L627.1 106.2L629.7 104.5L632.3 102.8L634.9 101.1L637.5 99.4L640.1 97.7L642.7 96L645.3 94.3L647.9 92.6L650.5 90.9L653.1 89.2L655.7 87.5L658.3 85.8L660.9 84.1L663.5 82.4L666.1 80.7L668.7 79L671.3 77.4L673.9 75.7L593 -1.2L488.9 66.6Z" fill="#4747eb"/>
<path d="M546.2 121L550.8 121.2L555.4 121.5L560 121.7L564.7 121.9L569.3 122.1L573.9 122.4L578.6 122.6L583.2 122.8L587.8 123L592.4 123.3L597.1 123.5L601.1 123.1L603.7 121.4L606.3 119.8L608.9 118.1L611.5 116.4L614.1 114.7L616.7 113L619.3 111.3L621.9 109.6L624.5 107.9L627.1 106.2L629.7 104.5L632.3 102.8L634.9 101.1L637.5 99.4L640.1 97.7L642.7 96L645.3 94.3L647.9 92.6L650.5 90.9L653.1 89.2L655.7 87.5L658.3 85.8L660.9 84.1L663.5 82.4L666.1 80.7L668.7 79L671.3 77.4L673.9 75.7L593 -1.2L488.9 66.6Z" fill="#484df0"/>
<path d="M543.8 118.8L548.4 119L553 119.2L557.7 119.4L562.3 119.7L566.9 119.9L571.5 120.1L576.2 120.3L580.8 120.6L585.4 120.8L590 121L594.7 121.2L599.3 121.5L603.7 121.4L606.3 119.8L608.9 118.1L611.5 116.4L614.1 114.7L616.7 113L619.3 111.3L621.9 109.6L624.5 107.9L627.1 106.2L629.7 104.5L632.3 102.8L634.9 101.1L637.5 99.4L640.1 97.7L642.7 96L645.3 94.3L647.9 92.6L650.5 90.9L653.1 89.2L655.7 87.5L658.3 85.8L660.9 84.1L663.5 82.4L666.1 80.7L668.7 79L671.3 77.4L673.9 75.7L593 -1.2L488.9 66.6Z" fill="#4852f4"/>
<path d="M541.4 116.5L546 116.7L550.6 116.9L555.3 117.2L559.9 117.4L564.5 117.6L569.1 117.8L573.8 118.1L578.4 118.3L583 118.5L587.7 118.7L592.3 119L596.9 119.2L601.5 119.4L606.2 119.6L608.9 118.1L611.5 116.4L614.1 114.7L616.7 113L619.3 111.3L621.9 109.6L624.5 107.9L627.1 106.2L629.7 104.5L632.3 102.8L634.9 101.1L637.5 99.4L640.1 97.7L642.7 96L645.3 94.3L647.9 92.6L650.5 90.9L653.1 89.2L655.7 87.5L658.3 85.8L660.9 84.1L663.5 82.4L666.1 80.7L668.7 79L671.3 77.4L673.9 75.7L593 -1.2L488.9 66.6Z" fill="#4758f8"/>
<path d="M539 114.2L543.6 114.4L548.3 114.7L552.9 114.9L557.5 115.1L562.1 115.3L566.8 115.6L571.4 115.8L576 116L580.6 116.3L585.3 116.5L589.9 116.7L594.5 116.9L599.1 117.2L603.8 117.4L608.4 117.6L611.5 116.4L614.1 114.7L616.7 113L619.3 111.3L621.9 109.6L624.5 107.9L627.1 106.2L629.7 104.5L632.3 102.8L634.9 101.1L637.5 99.4L640.1 97.7L642.7 96L645.3 94.3L647.9 92.6L650.5 90.9L653.1 89.2L655.7 87.5L658.3 85.8L660.9 84.1L663.5 82.4L666.1 80.7L668.7 79L671.3 77.4L673.9 75.7L593 -1.2L488.9 66.6Z" fill="#465efb"/>
<path d="M536.6 112L541.2 112.2L545.9 112.4L550.5 112.6L555.1 112.9L559.7 113.1L564.4 113.3L569 113.5L573.6 113.8L578.3 114L582.9 114.2L587.5 114.4L592.1 114.7L596.8 114.9L601.4 115.1L606 115.3L610.6 115.6L614.1 114.7L616.7 113L619.3 111.3L621.9 109.6L624.5 107.9L627.1 106.2L629.7 104.5L632.3 102.8L634.9 101.1L637.5 99.4L640.1 97.7L642.7 96L645.3 94.3L647.9 92.6L650.5 90.9L653.1 89.2L655.7 87.5L658.3 85.8L660.9 84.1L663.5 82.4L666.1 80.7L668.7 79L671.3 77.4L673.9 75.7L593 -1.2L488.9 66.6Z" fill="#4563fd"/>
<path d="M534.2 109.7L538.9 109.9L543.5 110.1L548.1 110.4L552.7 110.6L557.4 110.8L562 111L566.6 111.3L571.2 111.5L575.9 111.7L580.5 111.9L585.1 112.2L589.7 112.4L594.4 112.6L599 112.8L603.6 113.1L608.3 113.3L612.9 113.5L616.7 113L619.3 111.3L621.9 109.6L624.5 107.9L627.1 106.2L629.7 104.5L632.3 102.8L634.9 101.1L637.5 99.4L640.1 97.7L642.7 96L645.3 94.3L647.9 92.6L650.5 90.9L653.1 89.2L655.7 87.5L658.3 85.8L660.9 84.1L663.5 82.4L666.1 80.7L668.7 79L671.3 77.4L673.9 75.7L593 -1.2L488.9 66.6Z" fill="#4269fe"/>
<path d="M531.8 107.4L536.5 107.7L541.1 107.9L545.7 108.1L550.3 108.3L555 108.6L559.6 108.8L564.2 109L568.9 109.2L573.5 109.5L578.1 109.7L582.7 109.9L587.4 110.1L592 110.4L596.6 110.6L601.2 110.8L605.9 111L610.5 111.3L615.1 111.5L619.3 111.3L621.9 109.6L624.5 107.9L627.1 106.2L629.7 104.5L632.3 102.8L634.9 101.1L637.5 99.4L640.1 97.7L642.7 96L645.3 94.3L647.9 92.6L650.5 90.9L653.1 89.2L655.7 87.5L658.3 85.8L660.9 84.1L663.5 82.4L666.1 80.7L668.7 79L671.3 77.4L673.9 75.7L593 -1.2L488.9 66.6Z" fill="#3e6fff"/>
<path d="M529.4 105.2L534.1 105.4L538.7 105.6L543.3 105.8L548 106.1L552.6 106.3L557.2 106.5L561.8 106.7L566.5 107L571.1 107.2L575.7 107.4L580.3 107.6L585 107.9L589.6 108.1L594.2 108.3L598.9 108.5L603.5 108.8L608.1 109L612.7 109.2L617.4 109.4L621.9 109.6L624.5 107.9L627.1 106.2L629.7 104.5L632.3 102.8L634.9 101.1L637.5 99.4L640.1 97.7L642.7 96L645.3 94.3L647.9 92.6L650.5 90.9L653.1 89.2L655.7 87.5L658.3 85.8L660.9 84.1L663.5 82.4L666.1 80.7L668.7 79L671.3 77.4L673.9 75.7L593 -1.2L488.9 66.6Z" fill="#3875fe"/>
<path d="M527.1 102.9L531.7 103.1L536.3 103.3L540.9 103.6L545.6 103.8L550.2 104L554.8 104.2L559.5 104.5L564.1 104.7L568.7 104.9L573.3 105.1L578 105.4L582.6 105.6L587.2 105.8L591.8 106L596.5 106.3L601.1 106.5L605.7 106.7L610.3 106.9L615 107.2L619.6 107.4L624.2 107.6L627.1 106.2L629.7 104.5L632.3 102.8L634.9 101.1L637.5 99.4L640.1 97.7L642.7 96L645.3 94.3L647.9 92.6L650.5 90.9L653.1 89.2L655.7 87.5L658.3 85.8L660.9 84.1L663.5 82.4L666.1 80.7L668.7 79L671.3 77.4L673.9 75.7L593 -1.2L488.9 66.6Z" fill="#327cfc"/>
<path d="M524.7 100.6L529.3 100.9L533.9 101.1L538.6 101.3L543.2 101.5L547.8 101.8L552.4 102L557.1 102.2L561.7 102.4L566.3 102.7L570.9 102.9L575.6 103.1L580.2 103.3L584.8 103.6L589.5 103.8L594.1 104L598.7 104.2L603.3 104.5L608 104.7L612.6 104.9L617.2 105.1L621.8 105.4L626.5 105.6L629.7 104.5L632.3 102.8L634.9 101.1L637.5 99.4L640.1 97.7L642.7 96L645.3 94.3L647.9 92.6L650.5 90.9L653.1 89.2L655.7 87.5L658.3 85.8L660.9 84.1L663.5 82.4L666.1 80.7L668.7 79L671.3 77.4L673.9 75.7L593 -1.2L488.9 66.6Z" fill="#2f81fa"/>
<path d="M522.3 98.4L526.9 98.6L531.5 98.8L536.2 99L540.8 99.3L545.4 99.5L550 99.7L554.7 99.9L559.3 100.2L563.9 100.4L568.6 100.6L573.2 100.8L577.8 101.1L582.4 101.3L587.1 101.5L591.7 101.7L596.3 102L600.9 102.2L605.6 102.4L610.2 102.6L614.8 102.9L619.5 103.1L624.1 103.3L628.7 103.5L632.3 102.8L634.9 101.1L637.5 99.4L640.1 97.7L642.7 96L645.3 94.3L647.9 92.6L650.5 90.9L653.1 89.2L655.7 87.5L658.3 85.8L660.9 84.1L663.5 82.4L666.1 80.7L668.7 79L671.3 77.4L673.9 75.7L593 -1.2L488.9 66.6Z" fill="#2e87f7"/>
<path d="M519.9 96.1L524.5 96.3L529.2 96.5L533.8 96.8L538.4 97L543 97.2L547.7 97.4L552.3 97.7L556.9 97.9L561.5 98.1L566.2 98.4L570.8 98.6L575.4 98.8L580 99L584.7 99.3L589.3 99.5L593.9 99.7L598.6 99.9L603.2 100.2L607.8 100.4L612.4 100.6L617.1 100.8L621.7 101.1L626.3 101.3L630.9 101.5L634.9 101.1L637.5 99.4L640.1 97.7L642.7 96L645.3 94.3L647.9 92.6L650.5 90.9L653.1 89.2L655.7 87.5L658.3 85.8L660.9 84.1L663.5 82.4L666.1 80.7L668.7 79L671.3 77.4L673.9 75.7L593 -1.2L488.9 66.6Z" fill="#2d8cf3"/>
<path d="M517.5 93.8L522.1 94.1L526.8 94.3L531.4 94.5L536 94.7L540.6 95L545.3 95.2L549.9 95.4L554.5 95.6L559.2 95.9L563.8 96.1L568.4 96.3L573 96.5L577.7 96.8L582.3 97L586.9 97.2L591.5 97.4L596.2 97.7L600.8 97.9L605.4 98.1L610 98.3L614.7 98.6L619.3 98.8L623.9 99L628.6 99.2L633.2 99.5L637.5 99.4L640.1 97.7L642.7 96L645.3 94.3L647.9 92.6L650.5 90.9L653.1 89.2L655.7 87.5L658.3 85.8L660.9 84.1L663.5 82.4L666.1 80.7L668.7 79L671.3 77.4L673.9 75.7L593 -1.2L488.9 66.6Z" fill="#2b91ef"/>
<path d="M515.1 91.6L519.8 91.8L524.4 92L529 92.2L533.6 92.5L538.3 92.7L542.9 92.9L547.5 93.1L552.1 93.4L556.8 93.6L561.4 93.8L566 94L570.6 94.3L575.3 94.5L579.9 94.7L584.5 94.9L589.2 95.2L593.8 95.4L598.4 95.6L603 95.8L607.7 96.1L612.3 96.3L616.9 96.5L621.5 96.7L626.2 97L630.8 97.2L635.4 97.4L640.1 97.6L642.7 96L645.3 94.3L647.9 92.6L650.5 90.9L653.1 89.2L655.7 87.5L658.3 85.8L660.9 84.1L663.5 82.4L666.1 80.7L668.7 79L671.3 77.4L673.9 75.7L593 -1.2L488.9 66.6Z" fill="#2797eb"/>
<path d="M512.7 89.3L517.4 89.5L522 89.8L526.6 90L531.2 90.2L535.9 90.4L540.5 90.7L545.1 90.9L549.8 91.1L554.4 91.3L559 91.6L563.6 91.8L568.3 92L572.9 92.2L577.5 92.5L582.1 92.7L586.8 92.9L591.4 93.1L596 93.4L600.6 93.6L605.3 93.8L609.9 94L614.5 94.3L619.2 94.5L623.8 94.7L628.4 94.9L633 95.2L637.7 95.4L642.3 95.6L645.3 94.3L647.9 92.6L650.5 90.9L653.1 89.2L655.7 87.5L658.3 85.8L660.9 84.1L663.5 82.4L666.1 80.7L668.7 79L671.3 77.4L673.9 75.7L593 -1.2L488.9 66.6Z" fill="#259be8"/>
<path d="M510.3 87L515 87.3L519.6 87.5L524.2 87.7L528.9 87.9L533.5 88.2L538.1 88.4L542.7 88.6L547.4 88.8L552 89.1L556.6 89.3L561.2 89.5L565.9 89.7L570.5 90L575.1 90.2L579.8 90.4L584.4 90.6L589 90.9L593.6 91.1L598.3 91.3L602.9 91.5L607.5 91.8L612.1 92L616.8 92.2L621.4 92.4L626 92.7L630.6 92.9L635.3 93.1L639.9 93.3L644.5 93.6L647.9 92.6L650.5 90.9L653.1 89.2L655.7 87.5L658.3 85.8L660.9 84.1L663.5 82.4L666.1 80.7L668.7 79L671.3 77.4L673.9 75.7L593 -1.2L488.9 66.6Z" fill="#23a0e5"/>
<path d="M508 84.8L512.6 85L517.2 85.2L521.8 85.4L526.5 85.7L531.1 85.9L535.7 86.1L540.4 86.3L545 86.6L549.6 86.8L554.2 87L558.9 87.2L563.5 87.5L568.1 87.7L572.7 87.9L577.4 88.1L582 88.4L586.6 88.6L591.2 88.8L595.9 89L600.5 89.3L605.1 89.5L609.8 89.7L614.4 90L619 90.2L623.6 90.4L628.3 90.6L632.9 90.9L637.5 91.1L642.1 91.3L646.8 91.5L650.5 90.9L653.1 89.2L655.7 87.5L658.3 85.8L660.9 84.1L663.5 82.4L666.1 80.7L668.7 79L671.3 77.4L673.9 75.7L593 -1.2L488.9 66.6Z" fill="#20a5e3"/>
<path d="M505.6 82.5L510.2 82.7L514.8 83L519.5 83.2L524.1 83.4L528.7 83.6L533.3 83.9L538 84.1L542.6 84.3L547.2 84.5L551.8 84.8L556.5 85L561.1 85.2L565.7 85.4L570.4 85.7L575 85.9L579.6 86.1L584.2 86.3L588.9 86.6L593.5 86.8L598.1 87L602.7 87.2L607.4 87.5L612 87.7L616.6 87.9L621.2 88.1L625.9 88.4L630.5 88.6L635.1 88.8L639.8 89L644.4 89.3L649 89.5L653.1 89.2L655.7 87.5L658.3 85.8L660.9 84.1L663.5 82.4L666.1 80.7L668.7 79L671.3 77.4L673.9 75.7L593 -1.2L488.9 66.6Z" fill="#1ca9df"/>
<path d="M503.2 80.2L507.8 80.5L512.4 80.7L517.1 80.9L521.7 81.1L526.3 81.4L530.9 81.6L535.6 81.8L540.2 82L544.8 82.3L549.5 82.5L554.1 82.7L558.7 82.9L563.3 83.2L568 83.4L572.6 83.6L577.2 83.8L581.8 84.1L586.5 84.3L591.1 84.5L595.7 84.7L600.4 85L605 85.2L609.6 85.4L614.2 85.6L618.9 85.9L623.5 86.1L628.1 86.3L632.7 86.5L637.4 86.8L642 87L646.6 87.2L651.2 87.4L655.7 87.5L658.3 85.8L660.9 84.1L663.5 82.4L666.1 80.7L668.7 79L671.3 77.4L673.9 75.7L593 -1.2L488.9 66.6Z" fill="#18addb"/>
<path d="M500.8 78L505.4 78.2L510.1 78.4L514.7 78.6L519.3 78.9L523.9 79.1L528.6 79.3L533.2 79.5L537.8 79.8L542.4 80L547.1 80.2L551.7 80.5L556.3 80.7L560.9 80.9L565.6 81.1L570.2 81.4L574.8 81.6L579.5 81.8L584.1 82L588.7 82.3L593.3 82.5L598 82.7L602.6 82.9L607.2 83.2L611.8 83.4L616.5 83.6L621.1 83.8L625.7 84.1L630.4 84.3L635 84.5L639.6 84.7L644.2 85L648.9 85.2L653.5 85.4L658.1 85.6L660.9 84.1L663.5 82.4L666.1 80.7L668.7 79L671.3 77.4L673.9 75.7L593 -1.2L488.9 66.6Z" fill="#12b1d6"/>
<path d="M498.4 75.7L503 75.9L507.7 76.2L512.3 76.4L516.9 76.6L521.5 76.8L526.2 77.1L530.8 77.3L535.4 77.5L540.1 77.7L544.7 78L549.3 78.2L553.9 78.4L558.6 78.6L563.2 78.9L567.8 79.1L572.4 79.3L577.1 79.5L581.7 79.8L586.3 80L590.9 80.2L595.6 80.4L600.2 80.7L604.8 80.9L609.5 81.1L614.1 81.3L618.7 81.6L623.3 81.8L628 82L632.6 82.2L637.2 82.5L641.8 82.7L646.5 82.9L651.1 83.1L655.7 83.4L660.4 83.6L663.5 82.4L666.1 80.7L668.7 79L671.3 77.4L673.9 75.7L593 -1.2L488.9 66.6Z" fill="#08b5d0"/>
<path d="M496 73.4L500.7 73.7L505.3 73.9L509.9 74.1L514.5 74.3L519.2 74.6L523.8 74.8L528.4 75L533 75.2L537.7 75.5L542.3 75.7L546.9 75.9L551.5 76.1L556.2 76.4L560.8 76.6L565.4 76.8L570.1 77L574.7 77.3L579.3 77.5L583.9 77.7L588.6 77.9L593.2 78.2L597.8 78.4L602.4 78.6L607.1 78.8L611.7 79.1L616.3 79.3L621 79.5L625.6 79.7L630.2 80L634.8 80.2L639.5 80.4L644.1 80.6L648.7 80.9L653.3 81.1L658 81.3L662.6 81.6L666.1 80.7L668.7 79L671.3 77.4L673.9 75.7L593 -1.2L488.9 66.6Z" fill="#01b8ca"/>
<path d="M493.6 71.2L498.3 71.4L502.9 71.6L507.5 71.9L512.1 72.1L516.8 72.3L521.4 72.5L526 72.8L530.7 73L535.3 73.2L539.9 73.4L544.5 73.7L549.2 73.9L553.8 74.1L558.4 74.3L563 74.6L567.7 74.8L572.3 75L576.9 75.2L581.5 75.5L586.2 75.7L590.8 75.9L595.4 76.1L600.1 76.4L604.7 76.6L609.3 76.8L613.9 77L618.6 77.3L623.2 77.5L627.8 77.7L632.4 77.9L637.1 78.2L641.7 78.4L646.3 78.6L651 78.8L655.6 79.1L660.2 79.3L664.8 79.5L668.7 79L671.3 77.4L673.9 75.7L593 -1.2L488.9 66.6Z" fill="#02bac3"/>
<path d="M491.2 68.9L495.9 69.1L500.5 69.4L505.1 69.6L509.8 69.8L514.4 70L519 70.3L523.6 70.5L528.3 70.7L532.9 70.9L537.5 71.2L542.1 71.4L546.8 71.6L551.4 71.8L556 72.1L560.7 72.3L565.3 72.5L569.9 72.7L574.5 73L579.2 73.2L583.8 73.4L588.4 73.6L593 73.9L597.7 74.1L602.3 74.3L606.9 74.5L611.5 74.8L616.2 75L620.8 75.2L625.4 75.4L630.1 75.7L634.7 75.9L639.3 76.1L643.9 76.3L648.6 76.6L653.2 76.8L657.8 77L662.4 77.2L667.1 77.5L671.3 77.4L673.9 75.7L593 -1.2L488.9 66.6Z" fill="#0bbdbd"/>
<path d="M488.9 66.6L493.5 66.9L498.1 67.1L502.7 67.3L507.4 67.5L512 67.8L516.6 68L521.3 68.2L525.9 68.4L530.5 68.7L535.1 68.9L539.8 69.1L544.4 69.3L549 69.6L553.6 69.8L558.3 70L562.9 70.2L567.5 70.5L572.1 70.7L576.8 70.9L581.4 71.1L586 71.4L590.7 71.6L595.3 71.8L599.9 72.1L604.5 72.3L609.2 72.5L613.8 72.7L618.4 73L623 73.2L627.7 73.4L632.3 73.6L636.9 73.9L641.5 74.1L646.2 74.3L650.8 74.5L655.4 74.8L660.1 75L664.7 75.2L669.3 75.4L673.9 75.7L593 -1.2L488.9 66.6Z" fill="#19bfb6"/>
<path d="M491.9 64.6L496.4 64.9L500.9 65.1L505.4 65.3L509.9 65.5L514.4 65.7L518.9 66L523.4 66.2L527.9 66.4L532.3 66.6L536.8 66.8L541.3 67L545.8 67.3L550.3 67.5L554.8 67.7L559.3 67.9L563.8 68.1L568.3 68.4L572.8 68.6L577.3 68.8L581.7 69L586.2 69.2L590.7 69.5L595.2 69.7L599.7 69.9L604.2 70.1L608.7 70.3L613.2 70.5L617.7 70.8L622.2 71L626.6 71.2L631.1 71.4L635.6 71.6L640.1 71.9L644.6 72.1L649.1 72.3L653.6 72.5L658.1 72.7L662.6 73L667.1 73.2L671.6 73.4L593 -1.2L491.9 64.6Z" fill="#24c1ae"/>
<path d="M495 62.6L499.4 62.9L503.7 63.1L508.1 63.3L512.4 63.5L516.8 63.7L521.1 63.9L525.5 64.1L529.8 64.3L534.2 64.6L538.5 64.8L542.9 65L547.2 65.2L551.6 65.4L556 65.6L560.3 65.8L564.7 66L569 66.2L573.4 66.5L577.7 66.7L582.1 66.9L586.4 67.1L590.8 67.3L595.1 67.5L599.5 67.7L603.9 67.9L608.2 68.2L612.6 68.4L616.9 68.6L621.3 68.8L625.6 69L630 69.2L634.3 69.4L638.7 69.6L643 69.9L647.4 70.1L651.7 70.3L656.1 70.5L660.5 70.7L664.8 70.9L669.2 71.1L593 -1.2L495 62.6Z" fill="#2cc4a7"/>
<path d="M498.1 60.6L502.3 60.9L506.5 61.1L510.7 61.3L514.9 61.5L519.2 61.7L523.4 61.9L527.6 62.1L531.8 62.3L536 62.5L540.2 62.7L544.5 62.9L548.7 63.1L552.9 63.3L557.1 63.5L561.3 63.7L565.6 63.9L569.8 64.1L574 64.3L578.2 64.5L582.4 64.8L586.6 65L590.9 65.2L595.1 65.4L599.3 65.6L603.5 65.8L607.7 66L611.9 66.2L616.2 66.4L620.4 66.6L624.6 66.8L628.8 67L633 67.2L637.3 67.4L641.5 67.6L645.7 67.8L649.9 68L654.1 68.2L658.3 68.4L662.6 68.7L666.8 68.9L593 -1.2L498.1 60.6Z" fill="#31c69f"/>
<path d="M501.1 58.6L505.2 58.8L509.3 59L513.4 59.2L517.5 59.4L521.5 59.6L525.6 59.8L529.7 60L533.8 60.2L537.9 60.4L541.9 60.6L546 60.8L550.1 61L554.2 61.2L558.3 61.4L562.4 61.6L566.4 61.8L570.5 62L574.6 62.2L578.7 62.4L582.8 62.6L586.8 62.8L590.9 63L595 63.2L599.1 63.4L603.2 63.6L607.3 63.8L611.3 64L615.4 64.2L619.5 64.4L623.6 64.6L627.7 64.8L631.7 65L635.8 65.2L639.9 65.4L644 65.6L648.1 65.8L652.1 66L656.2 66.2L660.3 66.4L664.4 66.6L593 -1.2L501.1 58.6Z" fill="#37c897"/>
<path d="M504.2 56.6L508.2 56.8L512.1 57L516 57.2L520 57.4L523.9 57.6L527.9 57.8L531.8 58L535.8 58.2L539.7 58.4L543.7 58.6L547.6 58.8L551.5 58.9L555.5 59.1L559.4 59.3L563.4 59.5L567.3 59.7L571.3 59.9L575.2 60.1L579.2 60.3L583.1 60.5L587 60.7L591 60.9L594.9 61.1L598.9 61.3L602.8 61.4L606.8 61.6L610.7 61.8L614.7 62L618.6 62.2L622.6 62.4L626.5 62.6L630.4 62.8L634.4 63L638.3 63.2L642.3 63.4L646.2 63.6L650.2 63.8L654.1 63.9L658.1 64.1L662 64.3L593 -1.2L504.2 56.6Z" fill="#3fca8e"/>
<path d="M507.3 54.6L511.1 54.8L514.9 55L518.7 55.2L522.5 55.4L526.3 55.6L530.1 55.8L533.9 55.9L537.7 56.1L541.6 56.3L545.4 56.5L549.2 56.7L553 56.9L556.8 57.1L560.6 57.2L564.4 57.4L568.2 57.6L572 57.8L575.8 58L579.6 58.2L583.4 58.4L587.3 58.5L591.1 58.7L594.9 58.9L598.7 59.1L602.5 59.3L606.3 59.5L610.1 59.7L613.9 59.8L617.7 60L621.5 60.2L625.3 60.4L629.1 60.6L633 60.8L636.8 60.9L640.6 61.1L644.4 61.3L648.2 61.5L652 61.7L655.8 61.9L659.6 62.1L593 -1.2L507.3 54.6Z" fill="#4acb84"/>
<path d="M510.3 52.6L514 52.8L517.7 53L521.4 53.2L525 53.4L528.7 53.5L532.4 53.7L536 53.9L539.7 54.1L543.4 54.3L547.1 54.4L550.7 54.6L554.4 54.8L558.1 55L561.8 55.1L565.4 55.3L569.1 55.5L572.8 55.7L576.4 55.9L580.1 56L583.8 56.2L587.5 56.4L591.1 56.6L594.8 56.8L598.5 56.9L602.1 57.1L605.8 57.3L609.5 57.5L613.2 57.7L616.8 57.8L620.5 58L624.2 58.2L627.8 58.4L631.5 58.5L635.2 58.7L638.9 58.9L642.5 59.1L646.2 59.3L649.9 59.4L653.6 59.6L657.2 59.8L593 -1.2L510.3 52.6Z" fill="#57cc7a"/>
<path d="M513.4 50.6L516.9 50.8L520.5 51L524 51.2L527.6 51.3L531.1 51.5L534.6 51.7L538.2 51.8L541.7 52L545.2 52.2L548.8 52.4L552.3 52.5L555.8 52.7L559.4 52.9L562.9 53.1L566.4 53.2L570 53.4L573.5 53.6L577.1 53.7L580.6 53.9L584.1 54.1L587.7 54.3L591.2 54.4L594.7 54.6L598.3 54.8L601.8 54.9L605.3 55.1L608.9 55.3L612.4 55.5L615.9 55.6L619.5 55.8L623 56L626.6 56.2L630.1 56.3L633.6 56.5L637.2 56.7L640.7 56.8L644.2 57L647.8 57.2L651.3 57.4L654.8 57.5L593 -1.2L513.4 50.6Z" fill="#64cd6f"/>
<path d="M516.5 48.6L519.9 48.8L523.3 49L526.7 49.1L530.1 49.3L533.5 49.5L536.9 49.6L540.3 49.8L543.7 50L547.1 50.1L550.5 50.3L553.9 50.5L557.3 50.6L560.7 50.8L564.1 51L567.5 51.1L570.9 51.3L574.3 51.5L577.7 51.6L581.1 51.8L584.5 52L587.9 52.1L591.3 52.3L594.7 52.5L598.1 52.6L601.5 52.8L604.9 52.9L608.3 53.1L611.7 53.3L615.1 53.4L618.5 53.6L621.9 53.8L625.3 53.9L628.7 54.1L632.1 54.3L635.5 54.4L638.9 54.6L642.3 54.8L645.7 54.9L649.1 55.1L652.5 55.3L593 -1.2L516.5 48.6Z" fill="#72cd64"/>
<path d="M519.5 46.6L522.8 46.8L526.1 47L529.3 47.1L532.6 47.3L535.9 47.4L539.1 47.6L542.4 47.8L545.7 47.9L548.9 48.1L552.2 48.2L555.4 48.4L558.7 48.6L562 48.7L565.2 48.9L568.5 49L571.8 49.2L575 49.3L578.3 49.5L581.5 49.7L584.8 49.8L588.1 50L591.3 50.1L594.6 50.3L597.9 50.5L601.1 50.6L604.4 50.8L607.6 50.9L610.9 51.1L614.2 51.3L617.4 51.4L620.7 51.6L624 51.7L627.2 51.9L630.5 52L633.7 52.2L637 52.4L640.3 52.5L643.5 52.7L646.8 52.8L650.1 53L593 -1.2L519.5 46.6Z" fill="#81cc59"/>
<path d="M522.6 44.6L525.7 44.8L528.9 44.9L532 45.1L535.1 45.3L538.3 45.4L541.4 45.6L544.5 45.7L547.6 45.9L550.8 46L553.9 46.2L557 46.3L560.1 46.5L563.3 46.6L566.4 46.8L569.5 46.9L572.6 47.1L575.8 47.2L578.9 47.4L582 47.5L585.1 47.7L588.3 47.8L591.4 48L594.5 48.1L597.7 48.3L600.8 48.5L603.9 48.6L607 48.8L610.2 48.9L613.3 49.1L616.4 49.2L619.5 49.4L622.7 49.5L625.8 49.7L628.9 49.8L632 50L635.2 50.1L638.3 50.3L641.4 50.4L644.5 50.6L647.7 50.7L593 -1.2L522.6 44.6Z" fill="#8fcb4e"/>
<path d="M525.7 42.6L528.7 42.8L531.7 42.9L534.7 43.1L537.6 43.2L540.6 43.4L543.6 43.5L546.6 43.7L549.6 43.8L552.6 44L555.6 44.1L558.6 44.2L561.6 44.4L564.6 44.5L567.5 44.7L570.5 44.8L573.5 45L576.5 45.1L579.5 45.3L582.5 45.4L585.5 45.6L588.5 45.7L591.5 45.8L594.5 46L597.4 46.1L600.4 46.3L603.4 46.4L606.4 46.6L609.4 46.7L612.4 46.9L615.4 47L618.4 47.2L621.4 47.3L624.4 47.4L627.3 47.6L630.3 47.7L633.3 47.9L636.3 48L639.3 48.2L642.3 48.3L645.3 48.5L593 -1.2L525.7 42.6Z" fill="#9dc943"/>
<path d="M528.8 40.6L531.6 40.8L534.5 40.9L537.3 41.1L540.2 41.2L543 41.3L545.9 41.5L548.7 41.6L551.6 41.8L554.4 41.9L557.3 42L560.1 42.2L563 42.3L565.9 42.5L568.7 42.6L571.6 42.7L574.4 42.9L577.3 43L580.1 43.1L583 43.3L585.8 43.4L588.7 43.6L591.5 43.7L594.4 43.8L597.2 44L600.1 44.1L602.9 44.3L605.8 44.4L608.7 44.5L611.5 44.7L614.4 44.8L617.2 45L620.1 45.1L622.9 45.2L625.8 45.4L628.6 45.5L631.5 45.6L634.3 45.8L637.2 45.9L640 46.1L642.9 46.2L593 -1.2L528.8 40.6Z" fill="#abc739"/>
<path d="M531.8 38.6L534.5 38.8L537.3 38.9L540 39L542.7 39.2L545.4 39.3L548.1 39.4L550.8 39.6L553.6 39.7L556.3 39.8L559 40L561.7 40.1L564.4 40.2L567.1 40.4L569.9 40.5L572.6 40.6L575.3 40.8L578 40.9L580.7 41L583.5 41.2L586.2 41.3L588.9 41.4L591.6 41.6L594.3 41.7L597 41.8L599.8 42L602.5 42.1L605.2 42.2L607.9 42.3L610.6 42.5L613.3 42.6L616.1 42.7L618.8 42.9L621.5 43L624.2 43.1L626.9 43.3L629.6 43.4L632.4 43.5L635.1 43.7L637.8 43.8L640.5 43.9L593 -1.2L531.8 38.6Z" fill="#b9c431"/>
<path d="M534.9 36.6L537.5 36.8L540.1 36.9L542.6 37L545.2 37.1L547.8 37.3L550.4 37.4L553 37.5L555.5 37.7L558.1 37.8L560.7 37.9L563.3 38L565.9 38.2L568.4 38.3L571 38.4L573.6 38.5L576.2 38.7L578.8 38.8L581.3 38.9L583.9 39L586.5 39.2L589.1 39.3L591.7 39.4L594.3 39.5L596.8 39.7L599.4 39.8L602 39.9L604.6 40L607.2 40.2L609.7 40.3L612.3 40.4L614.9 40.5L617.5 40.7L620.1 40.8L622.6 40.9L625.2 41L627.8 41.2L630.4 41.3L633 41.4L635.5 41.5L638.1 41.7L593 -1.2L534.9 36.6Z" fill="#c5c22a"/>
<path d="M538 34.6L540.4 34.8L542.9 34.9L545.3 35L547.7 35.1L550.2 35.2L552.6 35.4L555.1 35.5L557.5 35.6L560 35.7L562.4 35.8L564.9 36L567.3 36.1L569.7 36.2L572.2 36.3L574.6 36.4L577.1 36.5L579.5 36.7L582 36.8L584.4 36.9L586.9 37L589.3 37.1L591.7 37.3L594.2 37.4L596.6 37.5L599.1 37.6L601.5 37.7L604 37.9L606.4 38L608.8 38.1L611.3 38.2L613.7 38.3L616.2 38.5L618.6 38.6L621.1 38.7L623.5 38.8L626 38.9L628.4 39L630.8 39.2L633.3 39.3L635.7 39.4L593 -1.2L538 34.6Z" fill="#d1bf27"/>
<path d="M541 32.6L543.3 32.8L545.6 32.9L548 33L550.3 33.1L552.6 33.2L554.9 33.3L557.2 33.4L559.5 33.5L561.8 33.7L564.1 33.8L566.4 33.9L568.7 34L571 34.1L573.3 34.2L575.7 34.3L578 34.4L580.3 34.6L582.6 34.7L584.9 34.8L587.2 34.9L589.5 35L591.8 35.1L594.1 35.2L596.4 35.3L598.7 35.5L601 35.6L603.3 35.7L605.7 35.8L608 35.9L610.3 36L612.6 36.1L614.9 36.2L617.2 36.4L619.5 36.5L621.8 36.6L624.1 36.7L626.4 36.8L628.7 36.9L631 37L633.4 37.1L593 -1.2L541 32.6Z" fill="#dcbd29"/>
<path d="M544.1 30.6L546.3 30.8L548.4 30.9L550.6 31L552.8 31.1L555 31.2L557.1 31.3L559.3 31.4L561.5 31.5L563.6 31.6L565.8 31.7L568 31.8L570.2 31.9L572.3 32L574.5 32.1L576.7 32.2L578.8 32.3L581 32.4L583.2 32.5L585.4 32.7L587.5 32.8L589.7 32.9L591.9 33L594 33.1L596.2 33.2L598.4 33.3L600.6 33.4L602.7 33.5L604.9 33.6L607.1 33.7L609.2 33.8L611.4 33.9L613.6 34L615.8 34.1L617.9 34.2L620.1 34.3L622.3 34.5L624.4 34.6L626.6 34.7L628.8 34.8L631 34.9L593 -1.2L544.1 30.6Z" fill="#e6bb2d"/>
<path d="M547.2 28.6L549.2 28.7L551.2 28.8L553.3 28.9L555.3 29L557.3 29.1L559.4 29.2L561.4 29.3L563.4 29.4L565.5 29.5L567.5 29.6L569.6 29.7L571.6 29.8L573.6 29.9L575.7 30L577.7 30.1L579.7 30.2L581.8 30.3L583.8 30.4L585.8 30.5L587.9 30.6L589.9 30.7L591.9 30.8L594 30.9L596 31L598 31.1L600.1 31.2L602.1 31.3L604.2 31.4L606.2 31.5L608.2 31.6L610.3 31.7L612.3 31.8L614.3 31.9L616.4 32L618.4 32.1L620.4 32.2L622.5 32.3L624.5 32.4L626.5 32.5L628.6 32.6L593 -1.2L547.2 28.6Z" fill="#f0ba36"/>
<path d="M550.2 26.6L552.1 26.7L554 26.8L555.9 26.9L557.8 27L559.7 27.1L561.6 27.2L563.5 27.3L565.4 27.4L567.3 27.5L569.2 27.6L571.1 27.7L573 27.8L574.9 27.8L576.8 27.9L578.7 28L580.6 28.1L582.5 28.2L584.4 28.3L586.3 28.4L588.2 28.5L590.1 28.6L592 28.7L593.9 28.8L595.8 28.9L597.7 29L599.6 29L601.5 29.1L603.4 29.2L605.3 29.3L607.2 29.4L609.1 29.5L611 29.6L612.9 29.7L614.8 29.8L616.7 29.9L618.6 30L620.5 30.1L622.4 30.2L624.3 30.3L626.2 30.3L593 -1.2L550.2 26.6Z" fill="#f8ba3d"/>
<path d="M553.3 24.6L555.1 24.7L556.8 24.8L558.6 24.9L560.4 25L562.1 25.1L563.9 25.2L565.6 25.2L567.4 25.3L569.2 25.4L570.9 25.5L572.7 25.6L574.5 25.7L576.2 25.8L578 25.8L579.7 25.9L581.5 26L583.3 26.1L585 26.2L586.8 26.3L588.6 26.4L590.3 26.4L592.1 26.5L593.8 26.6L595.6 26.7L597.4 26.8L599.1 26.9L600.9 27L602.7 27L604.4 27.1L606.2 27.2L607.9 27.3L609.7 27.4L611.5 27.5L613.2 27.6L615 27.6L616.8 27.7L618.5 27.8L620.3 27.9L622 28L623.8 28.1L593 -1.2L553.3 24.6Z" fill="#febe3c"/>
<path d="M556.4 22.6L558 22.7L559.6 22.8L561.3 22.9L562.9 23L564.5 23L566.1 23.1L567.8 23.2L569.4 23.3L571 23.4L572.6 23.4L574.3 23.5L575.9 23.6L577.5 23.7L579.1 23.8L580.8 23.8L582.4 23.9L584 24L585.6 24.1L587.3 24.1L588.9 24.2L590.5 24.3L592.1 24.4L593.8 24.5L595.4 24.5L597 24.6L598.6 24.7L600.3 24.8L601.9 24.9L603.5 24.9L605.2 25L606.8 25.1L608.4 25.2L610 25.3L611.7 25.3L613.3 25.4L614.9 25.5L616.5 25.6L618.2 25.7L619.8 25.7L621.4 25.8L593 -1.2L556.4 22.6Z" fill="#fec338"/>
<path d="M559.4 20.6L560.9 20.7L562.4 20.8L563.9 20.9L565.4 20.9L566.9 21L568.4 21.1L569.9 21.2L571.4 21.2L572.8 21.3L574.3 21.4L575.8 21.4L577.3 21.5L578.8 21.6L580.3 21.7L581.8 21.7L583.3 21.8L584.8 21.9L586.3 22L587.7 22L589.2 22.1L590.7 22.2L592.2 22.2L593.7 22.3L595.2 22.4L596.7 22.5L598.2 22.5L599.7 22.6L601.2 22.7L602.6 22.7L604.1 22.8L605.6 22.9L607.1 23L608.6 23L610.1 23.1L611.6 23.2L613.1 23.3L614.6 23.3L616 23.4L617.5 23.5L619 23.5L593 -1.2L559.4 20.6Z" fill="#fec934"/>
<path d="M562.5 18.6L563.9 18.7L565.2 18.8L566.6 18.8L567.9 18.9L569.3 19L570.6 19L572 19.1L573.3 19.2L574.7 19.2L576 19.3L577.4 19.4L578.7 19.4L580.1 19.5L581.5 19.6L582.8 19.6L584.2 19.7L585.5 19.8L586.9 19.8L588.2 19.9L589.6 20L590.9 20L592.3 20.1L593.6 20.2L595 20.2L596.3 20.3L597.7 20.4L599 20.4L600.4 20.5L601.8 20.6L603.1 20.6L604.5 20.7L605.8 20.8L607.2 20.8L608.5 20.9L609.9 21L611.2 21L612.6 21.1L613.9 21.1L615.3 21.2L616.6 21.3L593 -1.2L562.5 18.6Z" fill="#fccf30"/>
<path d="M565.6 16.6L566.8 16.7L568 16.8L569.2 16.8L570.4 16.9L571.7 16.9L572.9 17L574.1 17.1L575.3 17.1L576.5 17.2L577.7 17.2L579 17.3L580.2 17.4L581.4 17.4L582.6 17.5L583.8 17.5L585 17.6L586.3 17.7L587.5 17.7L588.7 17.8L589.9 17.8L591.1 17.9L592.3 17.9L593.6 18L594.8 18.1L596 18.1L597.2 18.2L598.4 18.2L599.6 18.3L600.9 18.4L602.1 18.4L603.3 18.5L604.5 18.5L605.7 18.6L607 18.7L608.2 18.7L609.4 18.8L610.6 18.8L611.8 18.9L613 19L614.3 19L593 -1.2L565.6 16.6Z" fill="#fad62d"/>
<path d="M568.6 14.6L569.7 14.7L570.8 14.8L571.9 14.8L573 14.9L574.1 14.9L575.1 15L576.2 15L577.3 15.1L578.4 15.1L579.5 15.2L580.5 15.2L581.6 15.3L582.7 15.3L583.8 15.4L584.9 15.4L585.9 15.5L587 15.5L588.1 15.6L589.2 15.6L590.3 15.7L591.3 15.7L592.4 15.8L593.5 15.9L594.6 15.9L595.7 16L596.7 16L597.8 16.1L598.9 16.1L600 16.2L601.1 16.2L602.1 16.3L603.2 16.3L604.3 16.4L605.4 16.4L606.5 16.5L607.5 16.5L608.6 16.6L609.7 16.6L610.8 16.7L611.9 16.7L593 -1.2L568.6 14.6Z" fill="#f7dc2a"/>
<path d="M571.7 12.6L572.7 12.7L573.6 12.7L574.6 12.8L575.5 12.8L576.4 12.9L577.4 12.9L578.3 13L579.3 13L580.2 13.1L581.2 13.1L582.1 13.2L583 13.2L584 13.2L584.9 13.3L585.9 13.3L586.8 13.4L587.8 13.4L588.7 13.5L589.7 13.5L590.6 13.6L591.5 13.6L592.5 13.7L593.4 13.7L594.4 13.7L595.3 13.8L596.3 13.8L597.2 13.9L598.1 13.9L599.1 14L600 14L601 14.1L601.9 14.1L602.9 14.2L603.8 14.2L604.8 14.3L605.7 14.3L606.6 14.3L607.6 14.4L608.5 14.4L609.5 14.5L593 -1.2L571.7 12.6Z" fill="#f5e327"/>
<path d="M574.8 10.6L575.6 10.7L576.4 10.7L577.2 10.8L578 10.8L578.8 10.8L579.6 10.9L580.4 10.9L581.2 11L582.1 11L582.9 11L583.7 11.1L584.5 11.1L585.3 11.2L586.1 11.2L586.9 11.2L587.7 11.3L588.5 11.3L589.3 11.4L590.1 11.4L590.9 11.4L591.7 11.5L592.6 11.5L593.4 11.5L594.2 11.6L595 11.6L595.8 11.7L596.6 11.7L597.4 11.7L598.2 11.8L599 11.8L599.8 11.9L600.6 11.9L601.4 11.9L602.2 12L603.1 12L603.9 12.1L604.7 12.1L605.5 12.1L606.3 12.2L607.1 12.2L593 -1.2L574.8 10.6Z" fill="#f5e924"/>
<path d="M577.9 8.6L578.5 8.7L579.2 8.7L579.9 8.7L580.5 8.8L581.2 8.8L581.9 8.8L582.6 8.9L583.2 8.9L583.9 8.9L584.6 9L585.2 9L585.9 9L586.6 9.1L587.3 9.1L587.9 9.1L588.6 9.2L589.3 9.2L589.9 9.2L590.6 9.3L591.3 9.3L591.9 9.3L592.6 9.4L593.3 9.4L594 9.4L594.6 9.5L595.3 9.5L596 9.5L596.6 9.6L597.3 9.6L598 9.6L598.7 9.7L599.3 9.7L600 9.7L600.7 9.8L601.3 9.8L602 9.8L602.7 9.9L603.4 9.9L604 9.9L604.7 10L593 -1.2L577.9 8.6Z" fill="#f6ef20"/>
<path d="M580.9 6.6L581.5 6.7L582 6.7L582.5 6.7L583.1 6.7L583.6 6.8L584.1 6.8L584.7 6.8L585.2 6.9L585.7 6.9L586.3 6.9L586.8 6.9L587.3 7L587.9 7L588.4 7L588.9 7L589.5 7.1L590 7.1L590.5 7.1L591.1 7.1L591.6 7.2L592.2 7.2L592.7 7.2L593.2 7.2L593.8 7.3L594.3 7.3L594.8 7.3L595.4 7.3L595.9 7.4L596.4 7.4L597 7.4L597.5 7.5L598 7.5L598.6 7.5L599.1 7.5L599.6 7.6L600.2 7.6L600.7 7.6L601.2 7.6L601.8 7.7L602.3 7.7L593 -1.2L580.9 6.6Z" fill="#f7f51b"/>
<path d="M584 4.6L584.4 4.7L584.8 4.7L585.2 4.7L585.6 4.7L586 4.7L586.4 4.8L586.8 4.8L587.2 4.8L587.6 4.8L588 4.8L588.4 4.9L588.8 4.9L589.2 4.9L589.6 4.9L590 4.9L590.4 5L590.8 5L591.2 5L591.6 5L592 5L592.4 5.1L592.8 5.1L593.2 5.1L593.6 5.1L594 5.1L594.3 5.1L594.7 5.2L595.1 5.2L595.5 5.2L595.9 5.2L596.3 5.2L596.7 5.3L597.1 5.3L597.5 5.3L597.9 5.3L598.3 5.3L598.7 5.4L599.1 5.4L599.5 5.4L599.9 5.4L593 -1.2L584 4.6Z" fill="#f9fb15"/>
</g>
<path d="M570.5 139.4L494.1 66.9M570.5 139.4L668.7 75.4M572.5 138.1L496.1 65.6M569 138L667.2 74M574.4 136.8L498 64.3M567.4 136.5L665.6 72.5M576.4 135.6L500 63.1M565.9 135.1L664.1 71.1M578.4 134.3L502 61.8M564.4 133.6L662.6 69.6M580.3 133L503.9 60.5M562.9 132.2L661.1 68.2M582.3 131.7L505.9 59.2M561.3 130.7L659.5 66.7M584.2 130.4L507.8 57.9M559.8 129.3L658 65.2M586.2 129.2L509.8 56.7M558.3 127.8L656.5 63.8M588.2 127.9L511.8 55.4M556.7 126.3L654.9 62.4M590.1 126.6L513.7 54.1M555.2 124.9L653.4 60.9M592.1 125.3L515.7 52.8M553.7 123.5L651.9 59.5M594.1 124L517.7 51.5M552.2 122L650.4 58M596 122.8L519.6 50.3M550.6 120.5L648.8 56.6M598 121.5L521.6 49M549.1 119.1L647.3 55.1M600 120.2L523.6 47.7M547.6 117.7L645.8 53.7M601.9 118.9L525.5 46.4M546.1 116.2L644.3 52.2M603.9 117.6L527.5 45.1M544.5 114.8L642.7 50.7M605.9 116.4L529.5 43.9M543 113.3L641.2 49.3M607.8 115.1L531.4 42.6M541.5 111.8L639.7 47.9M609.8 113.8L533.4 41.3M539.9 110.4L638.1 46.4M611.7 112.5L535.3 40M538.4 109L636.6 45M613.7 111.2L537.3 38.7M536.9 107.5L635.1 43.5M615.7 110L539.3 37.5M535.4 106.1L633.6 42.1M617.6 108.7L541.2 36.2M533.8 104.6L632 40.6M619.6 107.4L543.2 34.9M532.3 103.2L630.5 39.2M621.6 106.1L545.2 33.6M530.8 101.7L629 37.7M623.5 104.8L547.1 32.3M529.2 100.2L627.4 36.2M625.5 103.6L549.1 31.1M527.7 98.8L625.9 34.8M627.5 102.3L551.1 29.8M526.2 97.4L624.4 33.4M629.4 101L553 28.5M524.7 95.9L622.9 31.9M631.4 99.7L555 27.2M523.1 94.5L621.3 30.5M633.3 98.4L556.9 25.9M521.6 93L619.8 29M635.3 97.2L558.9 24.7M520.1 91.5L618.3 27.5M637.3 95.9L560.9 23.4M518.5 90.1L616.7 26.1M639.2 94.6L562.8 22.1M517 88.7L615.2 24.7M641.2 93.3L564.8 20.8M515.5 87.2L613.7 23.2M643.2 92L566.8 19.5M514 85.8L612.2 21.8M645.1 90.8L568.7 18.3M512.4 84.3L610.6 20.3M647.1 89.5L570.7 17M510.9 82.8L609.1 18.9M649.1 88.2L572.7 15.7M509.4 81.4L607.6 17.4M651 86.9L574.6 14.4M507.9 80L606.1 16M653 85.6L576.6 13.1M506.3 78.5L604.5 14.5M655 84.4L578.6 11.9M504.8 77.1L603 13.1M656.9 83.1L580.5 10.6M503.3 75.6L601.5 11.6M658.9 81.8L582.5 9.3M501.7 74.2L599.9 10.2M660.8 80.5L584.4 8M500.2 72.7L598.4 8.7M662.8 79.2L586.4 6.7M498.7 71.3L596.9 7.2M664.8 78L588.4 5.5M497.2 69.8L595.4 5.8M666.7 76.7L590.3 4.2M495.6 68.3L593.8 4.4M668.7 75.4L592.3 2.9M494.1 66.9L592.3 2.9" stroke="#000" stroke-opacity="0.6" stroke-width="0.5" fill="none"/>
<g stroke="#4a4a4a" stroke-width="0.2">
<text x="574.9" y="147.8" font-size="5.2" text-anchor="start" fill="#3a3a3a">0</text>
<text x="594.5" y="142.4" font-size="5.2" text-anchor="start" fill="#3a3a3a">20</text>
<text x="614.2" y="136.3" font-size="5.2" text-anchor="start" fill="#3a3a3a">40</text>
<text x="633.8" y="130.9" font-size="5.2" text-anchor="start" fill="#3a3a3a">60</text>
<text x="653.5" y="126" font-size="5.2" text-anchor="start" fill="#3a3a3a">80</text>
<text x="673.1" y="120.6" font-size="5.2" text-anchor="start" fill="#3a3a3a">100</text>
<text x="566.1" y="146.9" font-size="5.2" text-anchor="end" fill="#3a3a3a">0</text>
<text x="527.9" y="129.2" font-size="5.2" text-anchor="end" fill="#3a3a3a">50</text>
<text x="489.7" y="111.6" font-size="5.2" text-anchor="end" fill="#3a3a3a">100</text>
<text x="490.1" y="105.6" font-size="5.2" text-anchor="end" fill="#3a3a3a">0</text>
<text x="490.1" y="88.5" font-size="5.2" text-anchor="end" fill="#3a3a3a">20</text>
<text x="490.1" y="71.4" font-size="5.2" text-anchor="end" fill="#3a3a3a">40</text>
<text x="490.1" y="54.2" font-size="5.2" text-anchor="end" fill="#3a3a3a">60</text>
<text x="490.1" y="37.1" font-size="5.2" text-anchor="end" fill="#3a3a3a">80</text>
</g>
<text x="614.2" y="148.8" font-size="5.8" text-anchor="middle" fill="#7a7a7a">α</text>
<text x="531.4" y="146.6" font-size="5.8" text-anchor="middle" fill="#7a7a7a">ψ</text>
<text transform="translate(477.6 67) rotate(-90)" font-size="6.4" text-anchor="middle" fill="#444" stroke="#555" stroke-width="0.15">R<tspan font-size="4.6" dy="2.9">s</tspan></text>
<path d="M590.1 335.1L513.7 300.3M609.8 329.9L533.4 295.1M629.4 324.6L553 289.8M649.1 319.4L572.7 284.6M668.7 314.1L592.3 279.3M532.3 323L630.5 296.7M494.1 305.6L592.3 279.3M668.7 314.1L668.7 238.7M630.5 296.7L630.5 221.3M592.3 279.3L592.3 203.9M668.7 296.8L592.3 262M668.7 279.4L592.3 244.6M668.7 262.1L592.3 227.3M668.7 244.8L592.3 210M513.7 300.3L513.7 224.9M533.4 295.1L533.4 219.7M553 289.8L553 214.4M572.7 284.6L572.7 209.2M592.3 279.3L592.3 203.9M494.1 288.3L592.3 262M494.1 270.9L592.3 244.6M494.1 253.6L592.3 227.3M494.1 236.3L592.3 210" stroke="#e3e3e3" stroke-width="0.6" fill="none"/>
<path d="M494.1 305.6L494.1 230.2" stroke="#c8c8c8" stroke-width="0.8" fill="none"/><path d="M570.5 340.4L668.7 314.1M570.5 340.4L494.1 305.6M570.5 340.4L572.7 341.4M590.1 335.1L592.3 336.1M609.8 329.9L612 330.9M629.4 324.6L631.6 325.6M649.1 319.4L651.2 320.4M668.7 314.1L670.9 315.1M570.5 340.4L568.2 341M532.3 323L530 323.6M494.1 305.6L491.8 306.2M494.1 305.6L491.9 304.6M494.1 288.3L491.9 287.3M494.1 270.9L491.9 269.9M494.1 253.6L491.9 252.6M494.1 236.3L491.9 235.3" stroke="#666" stroke-width="0.55" fill="none"/>
<mask id="c3" maskUnits="userSpaceOnUse" x="0" y="0" width="685" height="390"><path d="M570.5 340.4L668.7 314.1L592.3 203.9L494.1 305.6Z" fill="#fff"/></mask><g mask="url(#c3)">
<path d="M569.8 342.2L673.9 316.7L593 197.5L488.9 307.7Z" fill="#3e26a8"/>
<path d="M493.3 303L545 324.7L558.9 329.2L566.4 330.9L571.7 331.5L576 331.7L579.8 331.6L583.2 331.3L586.4 331L589.5 330.6L592.5 330.1L595.3 329.6L598.2 329.1L600.9 328.6L603.6 328L606.3 327.4L609 326.9L611.7 326.3L614.3 325.7L616.9 325.1L619.5 324.4L622.1 323.8L624.7 323.2L627.3 322.6L629.9 321.9L632.4 321.3L635 320.7L637.6 320L640.1 319.4L642.7 318.7L645.2 318.1L647.7 317.5L650.3 316.8L652.8 316.2L655.3 315.5L657.9 314.9L660.4 314.2L662.9 313.6L665.4 312.9L668 312.3L670.5 311.6L593 197.5L493.3 303Z" fill="#402ab4"/>
<path d="M494.8 301.4L532.8 316.9L548.7 322.4L558.2 324.9L565 326.3L570.4 327L575 327.3L579 327.3L582.7 327.3L586.2 327.1L589.5 326.8L592.7 326.5L595.7 326.1L598.7 325.6L601.6 325.2L604.4 324.7L607.2 324.2L610 323.7L612.7 323.2L615.4 322.6L618.1 322L620.7 321.5L623.4 320.9L626 320.3L628.6 319.7L631.2 319.2L633.8 318.6L636.4 318L638.9 317.4L641.5 316.7L644 316.1L646.6 315.5L649.1 314.9L651.7 314.3L654.2 313.7L656.7 313L659.3 312.4L661.8 311.8L664.3 311.2L666.8 310.5L669.3 309.9L593 197.5L494.8 301.4Z" fill="#422ec0"/>
<path d="M496.3 299.8L526.3 311.8L542 317.2L552.2 320.1L559.8 321.7L565.8 322.8L570.9 323.3L575.4 323.6L579.5 323.8L583.3 323.7L586.9 323.6L590.2 323.4L593.5 323.1L596.6 322.8L599.6 322.4L602.6 322L605.5 321.6L608.3 321.1L611.1 320.7L613.9 320.2L616.6 319.7L619.4 319.2L622 318.6L624.7 318.1L627.3 317.6L630 317L632.6 316.5L635.2 315.9L637.8 315.3L640.3 314.7L642.9 314.2L645.5 313.6L648 313L650.6 312.4L653.1 311.8L655.6 311.2L658.1 310.6L660.6 310L663.2 309.4L665.7 308.8L668.2 308.2L593 197.5L496.3 299.8Z" fill="#4332cb"/>
<path d="M497.8 298.2L522.6 307.8L537.5 312.9L547.8 315.9L555.7 317.7L562.1 318.9L567.6 319.7L572.4 320.2L576.7 320.4L580.7 320.6L584.5 320.5L588 320.4L591.4 320.3L594.7 320L597.8 319.7L600.9 319.4L603.9 319L606.8 318.7L609.7 318.2L612.5 317.8L615.3 317.4L618 316.9L620.8 316.4L623.5 315.9L626.1 315.4L628.8 314.9L631.4 314.4L634 313.8L636.6 313.3L639.2 312.8L641.8 312.2L644.3 311.7L646.9 311.1L649.4 310.5L652 310L654.5 309.4L657 308.8L659.5 308.2L662 307.7L664.5 307.1L667 306.5L593 197.5L497.8 298.2Z" fill="#4537d5"/>
<path d="M499.3 296.7L520.4 304.6L534.3 309.3L544.5 312.2L552.5 314.1L559.1 315.4L564.7 316.3L569.8 316.9L574.3 317.3L578.5 317.5L582.4 317.6L586.1 317.6L589.6 317.5L592.9 317.3L596.2 317.1L599.3 316.8L602.4 316.5L605.4 316.2L608.3 315.8L611.2 315.5L614 315.1L616.8 314.6L619.5 314.2L622.3 313.7L625 313.3L627.6 312.8L630.3 312.3L632.9 311.8L635.5 311.3L638.1 310.8L640.7 310.3L643.2 309.7L645.8 309.2L648.3 308.7L650.9 308.1L653.4 307.6L655.9 307L658.4 306.5L660.9 305.9L663.4 305.3L665.9 304.8L593 197.5L499.3 296.7Z" fill="#463cde"/>
<path d="M500.7 295.1L519.2 301.8L532.1 306.1L542 308.9L549.9 310.8L556.6 312.2L562.4 313.2L567.5 313.8L572.2 314.3L576.5 314.6L580.5 314.7L584.3 314.8L587.9 314.8L591.3 314.7L594.6 314.5L597.9 314.3L601 314.1L604 313.8L607 313.5L609.9 313.1L612.8 312.8L615.6 312.4L618.4 312L621.1 311.6L623.8 311.1L626.5 310.7L629.2 310.2L631.8 309.8L634.4 309.3L637 308.8L639.6 308.3L642.2 307.8L644.7 307.3L647.2 306.8L649.8 306.3L652.3 305.8L654.8 305.2L657.3 304.7L659.7 304.2L662.2 303.6L664.7 303.1L593 197.5L500.7 295.1Z" fill="#4741e5"/>
<path d="M502.2 293.5L518.6 299.3L530.6 303.2L540.1 305.8L547.9 307.8L554.6 309.2L560.4 310.2L565.6 310.9L570.4 311.4L574.7 311.8L578.8 312L582.7 312.1L586.3 312.1L589.9 312.1L593.2 312L596.5 311.8L599.6 311.6L602.7 311.4L605.7 311.1L608.7 310.8L611.6 310.5L614.4 310.2L617.2 309.8L620 309.4L622.7 309L625.4 308.6L628.1 308.2L630.7 307.7L633.3 307.3L635.9 306.8L638.5 306.4L641.1 305.9L643.6 305.4L646.1 304.9L648.7 304.4L651.2 303.9L653.7 303.4L656.1 302.9L658.6 302.4L661.1 301.9L663.5 301.4L593 197.5L502.2 293.5Z" fill="#4747eb"/>
<path d="M503.7 291.9L518.4 297L529.6 300.5L538.7 303L546.3 304.9L552.9 306.3L558.7 307.3L564 308.1L568.8 308.7L573.2 309.1L577.3 309.3L581.2 309.5L584.9 309.6L588.5 309.6L591.9 309.5L595.2 309.4L598.4 309.3L601.5 309.1L604.6 308.8L607.5 308.6L610.4 308.3L613.3 308L616.1 307.6L618.9 307.3L621.6 306.9L624.3 306.5L627 306.1L629.6 305.7L632.3 305.3L634.9 304.9L637.4 304.4L640 304L642.5 303.5L645.1 303.1L647.6 302.6L650.1 302.1L652.6 301.6L655 301.2L657.5 300.7L659.9 300.2L662.4 299.7L593 197.5L503.7 291.9Z" fill="#484df0"/>
<path d="M505.2 290.4L518.5 294.8L529 298L537.7 300.4L545.1 302.2L551.6 303.6L557.4 304.6L562.6 305.4L567.4 306L571.8 306.4L576 306.7L579.9 306.9L583.7 307.1L587.3 307.1L590.7 307.1L594 307L597.3 306.9L600.4 306.7L603.4 306.5L606.4 306.3L609.4 306.1L612.2 305.8L615.1 305.5L617.8 305.2L620.6 304.8L623.3 304.5L626 304.1L628.6 303.7L631.2 303.3L633.8 302.9L636.4 302.5L638.9 302.1L641.5 301.7L644 301.2L646.5 300.8L649 300.3L651.5 299.9L653.9 299.4L656.4 298.9L658.8 298.4L661.2 298L593 197.5L505.2 290.4Z" fill="#4852f4"/>
<path d="M506.7 288.8L518.8 292.7L528.7 295.7L537 297.9L544.2 299.6L550.5 300.9L556.2 302L561.4 302.8L566.2 303.4L570.6 303.9L574.8 304.2L578.8 304.4L582.5 304.6L586.1 304.7L589.6 304.7L592.9 304.7L596.2 304.6L599.3 304.5L602.4 304.3L605.4 304.1L608.3 303.9L611.2 303.6L614 303.4L616.8 303.1L619.6 302.8L622.3 302.4L624.9 302.1L627.6 301.7L630.2 301.4L632.8 301L635.4 300.6L637.9 300.2L640.4 299.8L642.9 299.4L645.4 298.9L647.9 298.5L650.4 298.1L652.8 297.6L655.2 297.2L657.6 296.7L660.1 296.3L593 197.5L506.7 288.8Z" fill="#4758f8"/>
<path d="M508.2 287.2L519.3 290.7L528.6 293.4L536.5 295.5L543.5 297.2L549.7 298.4L555.3 299.5L560.4 300.3L565.2 300.9L569.6 301.4L573.8 301.7L577.7 302L581.5 302.2L585.1 302.3L588.6 302.4L591.9 302.3L595.1 302.3L598.3 302.2L601.4 302.1L604.4 301.9L607.3 301.7L610.2 301.5L613 301.2L615.8 301L618.6 300.7L621.3 300.4L623.9 300.1L626.6 299.7L629.2 299.4L631.8 299L634.3 298.7L636.9 298.3L639.4 297.9L641.9 297.5L644.4 297.1L646.8 296.7L649.3 296.3L651.7 295.9L654.1 295.4L656.5 295L658.9 294.5L593 197.5L508.2 287.2Z" fill="#465efb"/>
<path d="M509.7 285.6L520 288.8L528.7 291.3L536.3 293.2L543 294.8L549.1 296L554.5 297L559.6 297.8L564.3 298.5L568.7 299L572.8 299.3L576.8 299.6L580.5 299.8L584.1 300L587.6 300L591 300.1L594.2 300L597.4 300L600.4 299.9L603.4 299.7L606.4 299.6L609.3 299.4L612.1 299.1L614.9 298.9L617.6 298.6L620.3 298.4L623 298.1L625.6 297.8L628.2 297.5L630.8 297.1L633.3 296.8L635.8 296.4L638.3 296.1L640.8 295.7L643.3 295.3L645.7 294.9L648.2 294.5L650.6 294.1L653 293.7L655.4 293.3L657.7 292.8L593 197.5L509.7 285.6Z" fill="#4563fd"/>
<path d="M511.2 284.1L520.7 286.9L529 289.2L536.2 291L542.7 292.5L548.6 293.7L554 294.7L558.9 295.5L563.6 296.1L567.9 296.6L572 297L575.9 297.3L579.7 297.5L583.3 297.7L586.7 297.8L590.1 297.8L593.3 297.8L596.5 297.8L599.5 297.7L602.5 297.6L605.5 297.4L608.3 297.3L611.2 297.1L613.9 296.8L616.7 296.6L619.4 296.4L622 296.1L624.6 295.8L627.2 295.5L629.8 295.2L632.3 294.9L634.8 294.5L637.3 294.2L639.8 293.8L642.2 293.5L644.7 293.1L647.1 292.7L649.5 292.3L651.9 291.9L654.2 291.5L656.6 291.1L593 197.5L511.2 284.1Z" fill="#4269fe"/>
<path d="M512.7 282.5L521.6 285.1L529.4 287.2L536.3 288.9L542.6 290.3L548.3 291.4L553.5 292.4L558.4 293.1L563 293.8L567.3 294.3L571.3 294.7L575.2 295L578.9 295.2L582.5 295.4L585.9 295.5L589.3 295.6L592.5 295.6L595.6 295.6L598.7 295.5L601.7 295.4L604.6 295.3L607.5 295.2L610.3 295L613 294.8L615.8 294.6L618.4 294.4L621.1 294.1L623.7 293.8L626.3 293.6L628.8 293.3L631.3 293L633.8 292.7L636.3 292.3L638.8 292L641.2 291.7L643.6 291.3L646 290.9L648.4 290.6L650.7 290.2L653.1 289.8L655.4 289.4L593 197.5L512.7 282.5Z" fill="#3e6fff"/>
<path d="M514.2 280.9L522.5 283.3L529.9 285.2L536.5 286.8L542.5 288.1L548.1 289.2L553.2 290.1L558 290.9L562.5 291.5L566.7 292L570.7 292.4L574.6 292.7L578.2 293L581.8 293.2L585.2 293.3L588.5 293.4L591.7 293.4L594.8 293.4L597.9 293.4L600.9 293.3L603.8 293.2L606.6 293.1L609.4 292.9L612.2 292.8L614.9 292.6L617.5 292.4L620.2 292.1L622.8 291.9L625.3 291.6L627.9 291.4L630.4 291.1L632.8 290.8L635.3 290.5L637.7 290.2L640.1 289.8L642.5 289.5L644.9 289.2L647.3 288.8L649.6 288.5L651.9 288.1L654.3 287.7L593 197.5L514.2 280.9Z" fill="#3875fe"/>
<path d="M515.6 279.3L523.5 281.5L530.5 283.3L536.8 284.8L542.6 286L548 287.1L553 287.9L557.7 288.7L562.1 289.3L566.2 289.8L570.2 290.2L574 290.5L577.6 290.8L581.2 291L584.5 291.1L587.8 291.2L591 291.3L594.1 291.3L597.1 291.3L600.1 291.2L603 291.1L605.8 291L608.6 290.9L611.3 290.8L614 290.6L616.7 290.4L619.3 290.2L621.8 290L624.4 289.7L626.9 289.5L629.4 289.2L631.9 288.9L634.3 288.6L636.7 288.3L639.1 288L641.5 287.7L643.8 287.4L646.2 287.1L648.5 286.7L650.8 286.4L653.1 286L593 197.5L515.6 279.3Z" fill="#327cfc"/>
<path d="M517.1 277.7L524.5 279.7L531.2 281.4L537.2 282.8L542.8 284L548 285L552.9 285.8L557.5 286.5L561.8 287.1L565.9 287.6L569.8 288L573.5 288.3L577.1 288.6L580.6 288.8L583.9 289L587.2 289.1L590.3 289.2L593.4 289.2L596.4 289.2L599.4 289.1L602.2 289.1L605 289L607.8 288.9L610.5 288.7L613.2 288.6L615.8 288.4L618.4 288.2L621 288L623.5 287.8L626 287.6L628.4 287.3L630.9 287.1L633.3 286.8L635.7 286.5L638.1 286.2L640.4 285.9L642.8 285.6L645.1 285.3L647.4 285L649.7 284.6L651.9 284.3L593 197.5L517.1 277.7Z" fill="#2f81fa"/>
<path d="M518.6 276.2L525.6 278L531.9 279.5L537.7 280.8L543.1 282L548.2 282.9L552.9 283.7L557.3 284.4L561.6 285L565.6 285.5L569.4 285.9L573.1 286.2L576.7 286.5L580.1 286.7L583.4 286.9L586.6 287L589.7 287.1L592.8 287.1L595.7 287.1L598.7 287.1L601.5 287L604.3 287L607 286.9L609.7 286.7L612.4 286.6L615 286.5L617.5 286.3L620.1 286.1L622.6 285.9L625.1 285.7L627.5 285.4L629.9 285.2L632.3 284.9L634.7 284.7L637.1 284.4L639.4 284.1L641.7 283.8L644 283.5L646.3 283.2L648.5 282.9L650.8 282.6L593 197.5L518.6 276.2Z" fill="#2e87f7"/>
<path d="M520.1 274.6L526.7 276.3L532.7 277.7L538.3 278.9L543.5 280L548.4 280.9L553 281.6L557.3 282.3L561.4 282.9L565.4 283.3L569.1 283.7L572.8 284.1L576.2 284.4L579.6 284.6L582.9 284.7L586.1 284.9L589.2 285L592.2 285L595.1 285L598 285L600.8 285L603.6 284.9L606.3 284.9L609 284.8L611.6 284.6L614.2 284.5L616.7 284.3L619.2 284.2L621.7 284L624.2 283.8L626.6 283.6L629 283.3L631.4 283.1L633.7 282.9L636 282.6L638.3 282.3L640.6 282.1L642.9 281.8L645.2 281.5L647.4 281.2L649.6 280.9L593 197.5L520.1 274.6Z" fill="#2d8cf3"/>
<path d="M521.6 273L527.8 274.6L533.6 275.9L538.9 277L543.9 278L548.7 278.9L553.1 279.6L557.3 280.3L561.4 280.8L565.2 281.3L568.9 281.7L572.5 282L575.9 282.3L579.2 282.5L582.5 282.7L585.6 282.8L588.6 282.9L591.6 283L594.5 283L597.4 283L600.2 283L602.9 282.9L605.6 282.9L608.2 282.8L610.8 282.7L613.4 282.6L615.9 282.4L618.4 282.3L620.8 282.1L623.3 281.9L625.7 281.7L628 281.5L630.4 281.3L632.7 281L635 280.8L637.3 280.6L639.6 280.3L641.8 280L644.1 279.8L646.3 279.5L648.5 279.2L593 197.5L521.6 273Z" fill="#2b91ef"/>
<path d="M523.1 271.4L529 272.9L534.5 274.1L539.6 275.2L544.4 276.1L549 276.9L553.3 277.6L557.4 278.2L561.4 278.8L565.1 279.2L568.8 279.6L572.2 279.9L575.6 280.2L578.9 280.4L582.1 280.6L585.2 280.8L588.2 280.9L591.1 280.9L594 281L596.8 281L599.5 281L602.2 281L604.9 280.9L607.5 280.8L610.1 280.7L612.6 280.6L615.1 280.5L617.6 280.4L620 280.2L622.4 280L624.8 279.8L627.1 279.7L629.4 279.4L631.7 279.2L634 279L636.3 278.8L638.5 278.5L640.7 278.3L642.9 278L645.1 277.8L647.3 277.5L593 197.5L523.1 271.4Z" fill="#2797eb"/>
<path d="M524.6 269.9L530.2 271.2L535.4 272.3L540.4 273.3L545 274.2L549.4 275L553.6 275.7L557.6 276.2L561.4 276.8L565.1 277.2L568.6 277.6L572.1 277.9L575.4 278.2L578.6 278.4L581.7 278.6L584.8 278.7L587.7 278.8L590.6 278.9L593.5 279L596.2 279L598.9 279L601.6 279L604.2 278.9L606.8 278.9L609.3 278.8L611.9 278.7L614.3 278.6L616.7 278.5L619.2 278.3L621.5 278.2L623.9 278L626.2 277.8L628.5 277.6L630.8 277.4L633 277.2L635.2 277L637.5 276.8L639.7 276.5L641.8 276.3L644 276L646.1 275.8L593 197.5L524.6 269.9Z" fill="#259be8"/>
<path d="M526.1 268.3L531.4 269.5L536.4 270.6L541.1 271.5L545.6 272.3L549.9 273.1L553.9 273.7L557.8 274.3L561.5 274.8L565.1 275.2L568.6 275.6L572 275.9L575.2 276.1L578.4 276.4L581.4 276.6L584.4 276.7L587.3 276.8L590.2 276.9L593 277L595.7 277L598.4 277L601 277L603.6 277L606.1 276.9L608.6 276.9L611.1 276.8L613.6 276.7L616 276.6L618.3 276.4L620.7 276.3L623 276.1L625.3 276L627.6 275.8L629.8 275.6L632 275.4L634.2 275.2L636.4 275L638.6 274.8L640.7 274.6L642.9 274.3L645 274.1L593 197.5L526.1 268.3Z" fill="#23a0e5"/>
<path d="M527.6 266.7L532.6 267.8L537.4 268.8L542 269.7L546.3 270.5L550.4 271.2L554.3 271.8L558.1 272.3L561.7 272.8L565.2 273.2L568.6 273.6L571.9 273.9L575.1 274.2L578.2 274.4L581.2 274.6L584.1 274.7L587 274.8L589.8 274.9L592.5 275L595.2 275.1L597.8 275.1L600.4 275.1L603 275L605.5 275L608 275L610.4 274.9L612.8 274.8L615.2 274.7L617.5 274.6L619.8 274.4L622.1 274.3L624.4 274.1L626.6 274L628.8 273.8L631 273.6L633.2 273.4L635.4 273.2L637.5 273L639.6 272.8L641.7 272.6L643.8 272.4L593 197.5L527.6 266.7Z" fill="#20a5e3"/>
<path d="M529.1 265.1L533.9 266.2L538.5 267.1L542.8 267.9L547 268.7L550.9 269.3L554.7 269.9L558.4 270.4L561.9 270.9L565.3 271.3L568.6 271.6L571.9 271.9L575 272.2L578 272.4L580.9 272.6L583.8 272.7L586.6 272.9L589.4 273L592.1 273L594.7 273.1L597.3 273.1L599.9 273.1L602.4 273.1L604.9 273.1L607.3 273L609.7 273L612.1 272.9L614.4 272.8L616.7 272.7L619 272.6L621.3 272.5L623.5 272.3L625.7 272.2L627.9 272L630.1 271.8L632.2 271.7L634.3 271.5L636.4 271.3L638.5 271.1L640.6 270.9L642.7 270.7L593 197.5L529.1 265.1Z" fill="#1ca9df"/>
<path d="M530.5 263.6L535.1 264.5L539.5 265.4L543.7 266.2L547.7 266.9L551.5 267.5L555.2 268L558.8 268.5L562.2 268.9L565.5 269.3L568.7 269.7L571.9 270L574.9 270.2L577.9 270.4L580.8 270.6L583.6 270.8L586.3 270.9L589.1 271L591.7 271.1L594.3 271.2L596.9 271.2L599.4 271.2L601.8 271.2L604.3 271.2L606.7 271.1L609 271.1L611.4 271L613.7 270.9L615.9 270.9L618.2 270.7L620.4 270.6L622.6 270.5L624.8 270.4L626.9 270.2L629.1 270.1L631.2 269.9L633.3 269.7L635.4 269.5L637.4 269.4L639.5 269.2L641.5 269L593 197.5L530.5 263.6Z" fill="#18addb"/>
<path d="M532 262L536.4 262.9L540.6 263.7L544.6 264.4L548.5 265.1L552.2 265.6L555.7 266.2L559.2 266.6L562.5 267L565.7 267.4L568.9 267.7L571.9 268L574.9 268.3L577.8 268.5L580.6 268.7L583.4 268.8L586.1 269L588.7 269.1L591.3 269.2L593.9 269.2L596.4 269.3L598.9 269.3L601.3 269.3L603.7 269.3L606.1 269.3L608.4 269.2L610.7 269.2L612.9 269.1L615.2 269L617.4 268.9L619.6 268.8L621.7 268.7L623.9 268.6L626 268.4L628.1 268.3L630.2 268.1L632.3 268L634.3 267.8L636.3 267.6L638.4 267.4L640.4 267.2L593 197.5L532 262Z" fill="#12b1d6"/>
<path d="M533.5 260.4L537.7 261.2L541.7 262L545.6 262.7L549.3 263.3L552.8 263.8L556.3 264.3L559.6 264.8L562.9 265.2L566 265.5L569 265.8L572 266.1L574.9 266.4L577.7 266.6L580.5 266.8L583.2 266.9L585.9 267L588.5 267.2L591 267.2L593.5 267.3L596 267.4L598.4 267.4L600.8 267.4L603.1 267.4L605.4 267.4L607.7 267.3L610 267.3L612.2 267.2L614.4 267.2L616.6 267.1L618.7 267L620.9 266.9L623 266.8L625.1 266.6L627.1 266.5L629.2 266.4L631.2 266.2L633.2 266.1L635.2 265.9L637.2 265.7L639.2 265.5L593 197.5L533.5 260.4Z" fill="#08b5d0"/>
<path d="M535 258.8L539 259.6L542.9 260.3L546.5 260.9L550.1 261.5L553.6 262L556.9 262.5L560.1 262.9L563.2 263.3L566.3 263.6L569.3 263.9L572.1 264.2L575 264.4L577.7 264.7L580.4 264.8L583.1 265L585.7 265.1L588.2 265.2L590.7 265.3L593.2 265.4L595.6 265.4L597.9 265.5L600.3 265.5L602.6 265.5L604.9 265.5L607.1 265.5L609.3 265.4L611.5 265.4L613.7 265.3L615.8 265.2L617.9 265.2L620 265.1L622.1 265L624.2 264.8L626.2 264.7L628.2 264.6L630.2 264.5L632.2 264.3L634.1 264.2L636.1 264L638 263.8L593 197.5L535 258.8Z" fill="#01b8ca"/>
<path d="M536.5 257.2L540.3 258L544 258.6L547.5 259.2L551 259.8L554.3 260.2L557.5 260.7L560.6 261.1L563.7 261.4L566.6 261.8L569.5 262.1L572.3 262.3L575.1 262.6L577.8 262.8L580.4 262.9L583 263.1L585.5 263.2L588 263.3L590.4 263.4L592.8 263.5L595.2 263.6L597.5 263.6L599.8 263.6L602.1 263.6L604.3 263.6L606.5 263.6L608.7 263.6L610.8 263.5L612.9 263.5L615 263.4L617.1 263.3L619.2 263.3L621.2 263.2L623.2 263.1L625.2 263L627.2 262.8L629.2 262.7L631.1 262.6L633.1 262.4L635 262.3L636.9 262.1L593 197.5L536.5 257.2Z" fill="#02bac3"/>
<path d="M538 255.7L541.6 256.3L545.2 256.9L548.6 257.5L551.9 258L555.1 258.5L558.2 258.9L561.2 259.3L564.1 259.6L567 259.9L569.8 260.2L572.5 260.5L575.2 260.7L577.8 260.9L580.4 261.1L582.9 261.2L585.4 261.3L587.8 261.5L590.2 261.5L592.5 261.6L594.8 261.7L597.1 261.7L599.4 261.8L601.6 261.8L603.8 261.8L605.9 261.8L608 261.7L610.1 261.7L612.2 261.7L614.3 261.6L616.3 261.5L618.3 261.5L620.3 261.4L622.3 261.3L624.3 261.2L626.2 261.1L628.2 261L630.1 260.8L632 260.7L633.8 260.6L635.7 260.4L593 197.5L538 255.7Z" fill="#0bbdbd"/>
<path d="M539.5 254.1L543 254.7L546.3 255.3L549.6 255.8L552.8 256.3L555.8 256.7L558.8 257.1L561.7 257.5L564.6 257.8L567.4 258.1L570.1 258.4L572.7 258.6L575.3 258.8L577.9 259L580.4 259.2L582.8 259.3L585.2 259.5L587.6 259.6L589.9 259.7L592.2 259.7L594.5 259.8L596.7 259.9L598.9 259.9L601.1 259.9L603.2 259.9L605.3 259.9L607.4 259.9L609.5 259.9L611.5 259.8L613.5 259.8L615.5 259.7L617.5 259.7L619.5 259.6L621.4 259.5L623.3 259.4L625.2 259.3L627.1 259.2L629 259.1L630.9 259L632.7 258.8L634.6 258.7L593 197.5L539.5 254.1Z" fill="#19bfb6"/>
<path d="M541 252.5L544.3 253.1L547.5 253.6L550.6 254.1L553.7 254.5L556.7 255L559.5 255.3L562.4 255.7L565.1 256L567.8 256.3L570.4 256.5L573 256.8L575.5 257L578 257.2L580.4 257.3L582.8 257.5L585.2 257.6L587.5 257.7L589.7 257.8L592 257.9L594.2 257.9L596.4 258L598.5 258L600.6 258.1L602.7 258.1L604.8 258.1L606.8 258.1L608.8 258L610.8 258L612.8 258L614.8 257.9L616.7 257.9L618.6 257.8L620.5 257.7L622.4 257.6L624.3 257.6L626.1 257.5L628 257.4L629.8 257.2L631.6 257.1L633.4 257L593 197.5L541 252.5Z" fill="#24c1ae"/>
<path d="M542.5 250.9L545.6 251.5L548.7 252L551.7 252.4L554.6 252.8L557.5 253.2L560.3 253.6L563 253.9L565.6 254.2L568.2 254.5L570.8 254.7L573.3 254.9L575.7 255.1L578.1 255.3L580.5 255.5L582.8 255.6L585.1 255.7L587.3 255.9L589.6 255.9L591.7 256L593.9 256.1L596 256.2L598.1 256.2L600.2 256.2L602.2 256.2L604.2 256.2L606.2 256.2L608.2 256.2L610.2 256.2L612.1 256.2L614 256.1L615.9 256.1L617.8 256L619.6 256L621.5 255.9L623.3 255.8L625.1 255.7L626.9 255.6L628.7 255.5L630.5 255.4L632.2 255.3L593 197.5L542.5 250.9Z" fill="#2cc4a7"/>
<path d="M543.9 249.4L547 249.9L549.9 250.3L552.8 250.7L555.6 251.1L558.3 251.5L561 251.8L563.6 252.1L566.2 252.4L568.7 252.7L571.2 252.9L573.6 253.1L576 253.3L578.3 253.5L580.6 253.6L582.8 253.8L585.1 253.9L587.2 254L589.4 254.1L591.5 254.2L593.6 254.3L595.7 254.3L597.7 254.4L599.7 254.4L601.7 254.4L603.7 254.4L605.6 254.4L607.6 254.4L609.5 254.4L611.4 254.4L613.2 254.3L615.1 254.3L616.9 254.2L618.7 254.2L620.6 254.1L622.3 254L624.1 254L625.9 253.9L627.6 253.8L629.4 253.7L631.1 253.6L593 197.5L543.9 249.4Z" fill="#31c69f"/>
<path d="M545.4 247.8L548.3 248.2L551.2 248.7L553.9 249.1L556.6 249.4L559.2 249.8L561.8 250.1L564.3 250.4L566.8 250.6L569.2 250.9L571.6 251.1L573.9 251.3L576.2 251.5L578.5 251.7L580.7 251.8L582.9 251.9L585 252.1L587.2 252.2L589.3 252.3L591.3 252.4L593.4 252.4L595.4 252.5L597.4 252.5L599.3 252.6L601.3 252.6L603.2 252.6L605.1 252.6L607 252.6L608.8 252.6L610.7 252.6L612.5 252.5L614.3 252.5L616.1 252.5L617.9 252.4L619.6 252.4L621.4 252.3L623.1 252.2L624.8 252.2L626.5 252.1L628.2 252L629.9 251.9L593 197.5L545.4 247.8Z" fill="#37c897"/>
<path d="M546.9 246.2L549.7 246.6L552.4 247L555 247.4L557.6 247.7L560.1 248.1L562.6 248.3L565 248.6L567.4 248.9L569.7 249.1L572 249.3L574.3 249.5L576.5 249.7L578.7 249.8L580.8 250L583 250.1L585 250.2L587.1 250.4L589.1 250.4L591.1 250.5L593.1 250.6L595.1 250.7L597 250.7L598.9 250.7L600.8 250.8L602.7 250.8L604.5 250.8L606.4 250.8L608.2 250.8L610 250.8L611.8 250.8L613.5 250.7L615.3 250.7L617 250.7L618.7 250.6L620.4 250.6L622.1 250.5L623.8 250.4L625.5 250.3L627.1 250.3L628.8 250.2L593 197.5L546.9 246.2Z" fill="#3fca8e"/>
<path d="M548.4 244.6L551 245L553.6 245.4L556.1 245.7L558.6 246L561 246.3L563.4 246.6L565.7 246.9L568 247.1L570.3 247.3L572.5 247.5L574.7 247.7L576.8 247.9L578.9 248L581 248.2L583 248.3L585.1 248.4L587.1 248.5L589 248.6L591 248.7L592.9 248.8L594.8 248.8L596.7 248.9L598.5 248.9L600.4 249L602.2 249L604 249L605.8 249L607.5 249L609.3 249L611 249L612.7 249L614.4 248.9L616.1 248.9L617.8 248.9L619.5 248.8L621.1 248.8L622.8 248.7L624.4 248.6L626 248.6L627.6 248.5L593 197.5L548.4 244.6Z" fill="#4acb84"/>
<path d="M549.9 243L552.4 243.4L554.9 243.8L557.3 244.1L559.6 244.4L562 244.6L564.2 244.9L566.5 245.1L568.7 245.4L570.8 245.6L573 245.8L575.1 245.9L577.1 246.1L579.2 246.3L581.2 246.4L583.2 246.5L585.1 246.6L587 246.7L589 246.8L590.8 246.9L592.7 247L594.5 247L596.4 247.1L598.2 247.1L600 247.2L601.7 247.2L603.5 247.2L605.2 247.2L606.9 247.2L608.6 247.2L610.3 247.2L612 247.2L613.6 247.2L615.3 247.1L616.9 247.1L618.5 247.1L620.1 247L621.7 247L623.3 246.9L624.9 246.8L626.4 246.8L593 197.5L549.9 243Z" fill="#57cc7a"/>
<path d="M551.4 241.5L553.8 241.8L556.1 242.1L558.4 242.4L560.7 242.7L562.9 243L565.1 243.2L567.2 243.4L569.3 243.6L571.4 243.8L573.5 244L575.5 244.2L577.5 244.3L579.4 244.5L581.4 244.6L583.3 244.7L585.2 244.8L587 244.9L588.9 245L590.7 245.1L592.5 245.2L594.3 245.2L596.1 245.3L597.8 245.3L599.5 245.4L601.3 245.4L603 245.4L604.6 245.4L606.3 245.4L608 245.4L609.6 245.4L611.2 245.4L612.8 245.4L614.4 245.4L616 245.4L617.6 245.3L619.1 245.3L620.7 245.2L622.2 245.2L623.8 245.1L625.3 245.1L593 197.5L551.4 241.5Z" fill="#64cd6f"/>
<path d="M552.9 239.9L555.2 240.2L557.4 240.5L559.6 240.8L561.7 241L563.9 241.3L565.9 241.5L568 241.7L570 241.9L572 242.1L574 242.3L575.9 242.4L577.8 242.6L579.7 242.7L581.6 242.8L583.4 242.9L585.3 243.1L587.1 243.1L588.9 243.2L590.6 243.3L592.4 243.4L594.1 243.4L595.8 243.5L597.5 243.5L599.2 243.6L600.8 243.6L602.5 243.6L604.1 243.7L605.7 243.7L607.3 243.7L608.9 243.7L610.5 243.7L612 243.6L613.6 243.6L615.1 243.6L616.6 243.6L618.2 243.5L619.7 243.5L621.2 243.5L622.7 243.4L624.1 243.4L593 197.5L552.9 239.9Z" fill="#72cd64"/>
<path d="M554.4 238.3L556.5 238.6L558.7 238.9L560.7 239.1L562.8 239.4L564.8 239.6L566.8 239.8L568.8 240L570.7 240.2L572.6 240.4L574.5 240.5L576.4 240.7L578.2 240.8L580.1 240.9L581.8 241.1L583.6 241.2L585.4 241.3L587.1 241.4L588.8 241.5L590.5 241.5L592.2 241.6L593.9 241.7L595.5 241.7L597.2 241.8L598.8 241.8L600.4 241.8L602 241.9L603.5 241.9L605.1 241.9L606.7 241.9L608.2 241.9L609.7 241.9L611.2 241.9L612.7 241.9L614.2 241.9L615.7 241.8L617.2 241.8L618.6 241.8L620.1 241.7L621.5 241.7L623 241.7L593 197.5L554.4 238.3Z" fill="#81cc59"/>
<path d="M555.9 236.7L557.9 237L559.9 237.3L561.9 237.5L563.9 237.7L565.8 237.9L567.7 238.1L569.6 238.3L571.4 238.5L573.3 238.6L575.1 238.8L576.9 238.9L578.6 239.1L580.4 239.2L582.1 239.3L583.8 239.4L585.5 239.5L587.2 239.6L588.8 239.7L590.5 239.8L592.1 239.8L593.7 239.9L595.3 239.9L596.8 240L598.4 240L600 240.1L601.5 240.1L603 240.1L604.5 240.1L606 240.1L607.5 240.1L609 240.1L610.4 240.1L611.9 240.1L613.3 240.1L614.8 240.1L616.2 240.1L617.6 240.1L619 240L620.4 240L621.8 240L593 197.5L555.9 236.7Z" fill="#8fcb4e"/>
<path d="M557.4 235.2L559.3 235.4L561.2 235.6L563.1 235.9L565 236.1L566.8 236.3L568.6 236.4L570.4 236.6L572.2 236.8L573.9 236.9L575.7 237.1L577.4 237.2L579.1 237.3L580.7 237.4L582.4 237.6L584 237.7L585.6 237.7L587.2 237.8L588.8 237.9L590.4 238L592 238.1L593.5 238.1L595 238.2L596.6 238.2L598.1 238.3L599.5 238.3L601 238.3L602.5 238.3L604 238.4L605.4 238.4L606.8 238.4L608.3 238.4L609.7 238.4L611.1 238.4L612.5 238.4L613.9 238.4L615.2 238.4L616.6 238.3L618 238.3L619.3 238.3L620.7 238.2L593 197.5L557.4 235.2Z" fill="#9dc943"/>
<path d="M558.8 233.6L560.7 233.8L562.5 234L564.3 234.2L566.1 234.4L567.8 234.6L569.5 234.8L571.2 234.9L572.9 235.1L574.6 235.2L576.3 235.3L577.9 235.5L579.5 235.6L581.1 235.7L582.7 235.8L584.2 235.9L585.8 236L587.3 236.1L588.9 236.2L590.4 236.2L591.9 236.3L593.3 236.3L594.8 236.4L596.3 236.4L597.7 236.5L599.2 236.5L600.6 236.6L602 236.6L603.4 236.6L604.8 236.6L606.2 236.6L607.5 236.6L608.9 236.6L610.3 236.6L611.6 236.6L612.9 236.6L614.3 236.6L615.6 236.6L616.9 236.6L618.2 236.6L619.5 236.5L593 197.5L558.8 233.6Z" fill="#abc739"/>
<path d="M560.3 232L562.1 232.2L563.8 232.4L565.5 232.6L567.2 232.8L568.8 232.9L570.5 233.1L572.1 233.2L573.7 233.4L575.3 233.5L576.9 233.6L578.4 233.8L580 233.9L581.5 234L583 234.1L584.5 234.2L586 234.2L587.4 234.3L588.9 234.4L590.3 234.5L591.8 234.5L593.2 234.6L594.6 234.6L596 234.7L597.4 234.7L598.8 234.8L600.1 234.8L601.5 234.8L602.8 234.9L604.2 234.9L605.5 234.9L606.8 234.9L608.1 234.9L609.4 234.9L610.7 234.9L612 234.9L613.3 234.9L614.6 234.9L615.8 234.9L617.1 234.9L618.3 234.8L593 197.5L560.3 232Z" fill="#b9c431"/>
<path d="M561.8 230.4L563.5 230.6L565.1 230.8L566.7 231L568.3 231.1L569.9 231.3L571.4 231.4L573 231.6L574.5 231.7L576 231.8L577.5 231.9L579 232L580.4 232.1L581.9 232.2L583.3 232.3L584.7 232.4L586.2 232.5L587.6 232.6L589 232.7L590.3 232.7L591.7 232.8L593.1 232.8L594.4 232.9L595.7 232.9L597.1 233L598.4 233L599.7 233L601 233.1L602.3 233.1L603.6 233.1L604.9 233.1L606.1 233.2L607.4 233.2L608.6 233.2L609.9 233.2L611.1 233.2L612.3 233.2L613.6 233.2L614.8 233.2L616 233.1L617.2 233.1L593 197.5L561.8 230.4Z" fill="#c5c22a"/>
<path d="M563.3 228.9L564.9 229L566.4 229.2L567.9 229.3L569.4 229.5L570.9 229.6L572.4 229.8L573.8 229.9L575.3 230L576.7 230.1L578.1 230.2L579.5 230.3L580.9 230.4L582.3 230.5L583.7 230.6L585 230.7L586.4 230.8L587.7 230.9L589 230.9L590.3 231L591.6 231L592.9 231.1L594.2 231.1L595.5 231.2L596.8 231.2L598 231.3L599.3 231.3L600.5 231.3L601.8 231.4L603 231.4L604.2 231.4L605.4 231.4L606.6 231.4L607.8 231.4L609 231.4L610.2 231.4L611.4 231.5L612.5 231.4L613.7 231.4L614.9 231.4L616 231.4L593 197.5L563.3 228.9Z" fill="#d1bf27"/>
<path d="M564.8 227.3L566.3 227.4L567.7 227.6L569.1 227.7L570.5 227.9L571.9 228L573.3 228.1L574.7 228.2L576.1 228.3L577.4 228.4L578.8 228.5L580.1 228.6L581.4 228.7L582.7 228.8L584 228.9L585.3 229L586.6 229.1L587.8 229.1L589.1 229.2L590.4 229.2L591.6 229.3L592.8 229.4L594.1 229.4L595.3 229.4L596.5 229.5L597.7 229.5L598.9 229.6L600.1 229.6L601.2 229.6L602.4 229.6L603.6 229.7L604.7 229.7L605.9 229.7L607 229.7L608.2 229.7L609.3 229.7L610.4 229.7L611.5 229.7L612.6 229.7L613.8 229.7L614.9 229.7L593 197.5L564.8 227.3Z" fill="#dcbd29"/>
<path d="M566.3 225.7L567.7 225.8L569 226L570.3 226.1L571.7 226.2L573 226.3L574.3 226.5L575.6 226.6L576.9 226.7L578.2 226.8L579.4 226.9L580.7 226.9L581.9 227L583.2 227.1L584.4 227.2L585.6 227.3L586.8 227.3L588 227.4L589.2 227.5L590.4 227.5L591.6 227.6L592.7 227.6L593.9 227.7L595.1 227.7L596.2 227.8L597.3 227.8L598.5 227.8L599.6 227.9L600.7 227.9L601.8 227.9L602.9 227.9L604 228L605.1 228L606.2 228L607.3 228L608.4 228L609.5 228L610.5 228L611.6 228L612.6 228L613.7 228L593 197.5L566.3 225.7Z" fill="#e6bb2d"/>
<path d="M567.8 224.1L569.1 224.3L570.3 224.4L571.6 224.5L572.8 224.6L574.1 224.7L575.3 224.8L576.5 224.9L577.7 225L578.9 225.1L580.1 225.2L581.3 225.3L582.4 225.3L583.6 225.4L584.8 225.5L585.9 225.6L587.1 225.6L588.2 225.7L589.3 225.7L590.4 225.8L591.6 225.8L592.7 225.9L593.8 225.9L594.8 226L595.9 226L597 226.1L598.1 226.1L599.2 226.1L600.2 226.2L601.3 226.2L602.3 226.2L603.4 226.2L604.4 226.2L605.4 226.3L606.5 226.3L607.5 226.3L608.5 226.3L609.5 226.3L610.5 226.3L611.5 226.3L612.5 226.3L593 197.5L567.8 224.1Z" fill="#f0ba36"/>
<path d="M569.3 222.5L570.5 222.7L571.6 222.8L572.8 222.9L574 223L575.1 223.1L576.3 223.2L577.4 223.3L578.5 223.3L579.7 223.4L580.8 223.5L581.9 223.6L583 223.7L584.1 223.7L585.2 223.8L586.2 223.9L587.3 223.9L588.4 224L589.4 224L590.5 224.1L591.5 224.1L592.6 224.2L593.6 224.2L594.7 224.3L595.7 224.3L596.7 224.3L597.7 224.4L598.7 224.4L599.7 224.4L600.7 224.5L601.7 224.5L602.7 224.5L603.7 224.5L604.7 224.5L605.6 224.5L606.6 224.6L607.6 224.6L608.5 224.6L609.5 224.6L610.4 224.6L611.4 224.6L593 197.5L569.3 222.5Z" fill="#f8ba3d"/>
<path d="M570.8 221L571.9 221.1L573 221.2L574.1 221.3L575.1 221.4L576.2 221.4L577.3 221.5L578.3 221.6L579.4 221.7L580.4 221.8L581.5 221.8L582.5 221.9L583.5 222L584.6 222L585.6 222.1L586.6 222.2L587.6 222.2L588.6 222.3L589.6 222.3L590.6 222.4L591.6 222.4L592.5 222.5L593.5 222.5L594.5 222.5L595.4 222.6L596.4 222.6L597.3 222.6L598.3 222.7L599.2 222.7L600.2 222.7L601.1 222.8L602 222.8L603 222.8L603.9 222.8L604.8 222.8L605.7 222.8L606.6 222.9L607.5 222.9L608.4 222.9L609.3 222.9L610.2 222.9L593 197.5L570.8 221Z" fill="#febe3c"/>
<path d="M572.3 219.4L573.3 219.5L574.3 219.6L575.3 219.7L576.3 219.7L577.3 219.8L578.3 219.9L579.3 220L580.2 220L581.2 220.1L582.2 220.2L583.1 220.2L584.1 220.3L585.1 220.4L586 220.4L586.9 220.5L587.9 220.5L588.8 220.6L589.7 220.6L590.7 220.7L591.6 220.7L592.5 220.7L593.4 220.8L594.3 220.8L595.2 220.9L596.1 220.9L597 220.9L597.9 221L598.8 221L599.6 221L600.5 221L601.4 221.1L602.2 221.1L603.1 221.1L604 221.1L604.8 221.1L605.7 221.1L606.5 221.2L607.4 221.2L608.2 221.2L609.1 221.2L593 197.5L572.3 219.4Z" fill="#fec338"/>
<path d="M573.7 217.8L574.7 217.9L575.6 218L576.5 218L577.5 218.1L578.4 218.2L579.3 218.3L580.2 218.3L581.1 218.4L582 218.5L582.9 218.5L583.8 218.6L584.7 218.6L585.6 218.7L586.4 218.7L587.3 218.8L588.2 218.8L589 218.9L589.9 218.9L590.8 219L591.6 219L592.5 219L593.3 219.1L594.1 219.1L595 219.1L595.8 219.2L596.6 219.2L597.5 219.2L598.3 219.3L599.1 219.3L599.9 219.3L600.7 219.3L601.5 219.4L602.3 219.4L603.2 219.4L604 219.4L604.7 219.4L605.5 219.4L606.3 219.5L607.1 219.5L607.9 219.5L593 197.5L573.7 217.8Z" fill="#fec934"/>
<path d="M575.2 216.2L576.1 216.3L576.9 216.4L577.8 216.4L578.6 216.5L579.5 216.6L580.3 216.6L581.2 216.7L582 216.8L582.8 216.8L583.6 216.9L584.4 216.9L585.3 217L586.1 217L586.9 217.1L587.7 217.1L588.5 217.1L589.3 217.2L590.1 217.2L590.9 217.3L591.6 217.3L592.4 217.3L593.2 217.4L594 217.4L594.8 217.4L595.5 217.5L596.3 217.5L597.1 217.5L597.8 217.6L598.6 217.6L599.3 217.6L600.1 217.6L600.8 217.6L601.6 217.7L602.3 217.7L603.1 217.7L603.8 217.7L604.5 217.7L605.3 217.7L606 217.8L606.7 217.8L593 197.5L575.2 216.2Z" fill="#fccf30"/>
<path d="M576.7 214.7L577.5 214.7L578.3 214.8L579 214.8L579.8 214.9L580.6 215L581.3 215L582.1 215.1L582.9 215.1L583.6 215.2L584.4 215.2L585.1 215.3L585.9 215.3L586.6 215.3L587.3 215.4L588.1 215.4L588.8 215.5L589.5 215.5L590.3 215.5L591 215.6L591.7 215.6L592.4 215.6L593.1 215.7L593.8 215.7L594.6 215.7L595.3 215.8L596 215.8L596.7 215.8L597.4 215.8L598.1 215.9L598.8 215.9L599.5 215.9L600.1 215.9L600.8 216L601.5 216L602.2 216L602.9 216L603.6 216L604.2 216L604.9 216.1L605.6 216.1L593 197.5L576.7 214.7Z" fill="#fad62d"/>
<path d="M578.2 213.1L578.9 213.1L579.6 213.2L580.3 213.2L581 213.3L581.7 213.3L582.4 213.4L583.1 213.4L583.8 213.5L584.4 213.5L585.1 213.6L585.8 213.6L586.5 213.6L587.1 213.7L587.8 213.7L588.5 213.8L589.1 213.8L589.8 213.8L590.5 213.9L591.1 213.9L591.8 213.9L592.4 214L593.1 214L593.7 214L594.4 214L595 214.1L595.7 214.1L596.3 214.1L596.9 214.1L597.6 214.2L598.2 214.2L598.8 214.2L599.5 214.2L600.1 214.3L600.7 214.3L601.3 214.3L602 214.3L602.6 214.3L603.2 214.3L603.8 214.3L604.4 214.4L593 197.5L578.2 213.1Z" fill="#f7dc2a"/>
<path d="M579.7 211.5L580.3 211.6L581 211.6L581.6 211.6L582.2 211.7L582.8 211.7L583.4 211.8L584 211.8L584.7 211.8L585.3 211.9L585.9 211.9L586.5 212L587.1 212L587.7 212L588.3 212.1L588.9 212.1L589.5 212.1L590.1 212.2L590.7 212.2L591.3 212.2L591.8 212.2L592.4 212.3L593 212.3L593.6 212.3L594.2 212.4L594.8 212.4L595.3 212.4L595.9 212.4L596.5 212.4L597.1 212.5L597.6 212.5L598.2 212.5L598.8 212.5L599.3 212.5L599.9 212.6L600.5 212.6L601 212.6L601.6 212.6L602.2 212.6L602.7 212.6L603.3 212.7L593 197.5L579.7 211.5Z" fill="#f5e327"/>
<path d="M581.2 209.9L581.7 210L582.3 210L582.8 210L583.4 210.1L583.9 210.1L584.5 210.2L585 210.2L585.6 210.2L586.1 210.3L586.6 210.3L587.2 210.3L587.7 210.3L588.2 210.4L588.8 210.4L589.3 210.4L589.8 210.5L590.4 210.5L590.9 210.5L591.4 210.5L591.9 210.6L592.5 210.6L593 210.6L593.5 210.6L594 210.7L594.5 210.7L595 210.7L595.6 210.7L596.1 210.7L596.6 210.8L597.1 210.8L597.6 210.8L598.1 210.8L598.6 210.8L599.1 210.9L599.6 210.9L600.1 210.9L600.6 210.9L601.1 210.9L601.6 210.9L602.1 210.9L593 197.5L581.2 209.9Z" fill="#f5e924"/>
<path d="M582.7 208.4L583.2 208.4L583.6 208.4L584.1 208.4L584.6 208.5L585.1 208.5L585.5 208.5L586 208.6L586.5 208.6L586.9 208.6L587.4 208.7L587.9 208.7L588.3 208.7L588.8 208.7L589.3 208.8L589.7 208.8L590.2 208.8L590.7 208.8L591.1 208.9L591.6 208.9L592 208.9L592.5 208.9L592.9 208.9L593.4 209L593.8 209L594.3 209L594.7 209L595.2 209L595.6 209.1L596.1 209.1L596.5 209.1L597 209.1L597.4 209.1L597.9 209.1L598.3 209.2L598.8 209.2L599.2 209.2L599.6 209.2L600.1 209.2L600.5 209.2L600.9 209.2L593 197.5L582.7 208.4Z" fill="#f6ef20"/>
<path d="M584.2 206.8L584.6 206.8L585 206.8L585.4 206.9L585.8 206.9L586.2 206.9L586.6 206.9L587 207L587.4 207L587.8 207L588.2 207L588.6 207L589 207.1L589.4 207.1L589.8 207.1L590.2 207.1L590.6 207.1L591 207.2L591.4 207.2L591.7 207.2L592.1 207.2L592.5 207.2L592.9 207.3L593.3 207.3L593.7 207.3L594.1 207.3L594.5 207.3L594.8 207.4L595.2 207.4L595.6 207.4L596 207.4L596.4 207.4L596.8 207.4L597.1 207.4L597.5 207.5L597.9 207.5L598.3 207.5L598.7 207.5L599 207.5L599.4 207.5L599.8 207.5L593 197.5L584.2 206.8Z" fill="#f7f51b"/>
<path d="M585.7 205.2L586 205.2L586.3 205.2L586.7 205.3L587 205.3L587.3 205.3L587.7 205.3L588 205.3L588.3 205.4L588.7 205.4L589 205.4L589.3 205.4L589.6 205.4L590 205.4L590.3 205.5L590.6 205.5L590.9 205.5L591.3 205.5L591.6 205.5L591.9 205.5L592.3 205.6L592.6 205.6L592.9 205.6L593.2 205.6L593.5 205.6L593.9 205.6L594.2 205.7L594.5 205.7L594.8 205.7L595.1 205.7L595.5 205.7L595.8 205.7L596.1 205.7L596.4 205.7L596.7 205.8L597.1 205.8L597.4 205.8L597.7 205.8L598 205.8L598.3 205.8L598.6 205.8L593 197.5L585.7 205.2Z" fill="#f9fb15"/>
</g>
<path d="M570.5 340.4L494.1 305.6M570.5 340.4L668.7 314.1M572.5 339.9L496.1 303.6M569 339.7L667.2 311.9M574.4 339.3L498 301.5M567.4 339L665.6 309.7M576.4 338.8L500 299.5M565.9 338.3L664.1 307.5M578.4 338.3L502 297.5M564.4 337.6L662.6 305.3M580.3 337.8L503.9 295.4M562.9 336.9L661.1 303.1M582.3 337.2L505.9 293.4M561.3 336.2L659.5 300.9M584.2 336.7L507.8 291.4M559.8 335.5L658 298.7M586.2 336.2L509.8 289.3M558.3 334.8L656.5 296.5M588.2 335.7L511.8 287.3M556.7 334.1L654.9 294.3M590.1 335.1L513.7 285.3M555.2 333.4L653.4 292.1M592.1 334.6L515.7 283.2M553.7 332.7L651.9 289.9M594.1 334.1L517.7 281.2M552.2 332L650.4 287.7M596 333.6L519.6 279.2M550.6 331.4L648.8 285.4M598 333L521.6 277.1M549.1 330.7L647.3 283.2M600 332.5L523.6 275.1M547.6 330L645.8 281M601.9 332L525.5 273.1M546.1 329.3L644.3 278.8M603.9 331.5L527.5 271M544.5 328.6L642.7 276.6M605.9 330.9L529.5 269M543 327.9L641.2 274.4M607.8 330.4L531.4 267M541.5 327.2L639.7 272.2M609.8 329.9L533.4 264.9M539.9 326.5L638.1 270M611.7 329.4L535.3 262.9M538.4 325.8L636.6 267.8M613.7 328.8L537.3 260.9M536.9 325.1L635.1 265.6M615.7 328.3L539.3 258.8M535.4 324.4L633.6 263.4M617.6 327.8L541.2 256.8M533.8 323.7L632 261.2M619.6 327.2L543.2 254.8M532.3 323L630.5 259M621.6 326.7L545.2 252.7M530.8 322.3L629 256.8M623.5 326.2L547.1 250.7M529.2 321.6L627.4 254.6M625.5 325.7L549.1 248.6M527.7 320.9L625.9 252.4M627.5 325.1L551.1 246.6M526.2 320.2L624.4 250.2M629.4 324.6L553 244.6M524.7 319.5L622.9 248M631.4 324.1L555 242.5M523.1 318.8L621.3 245.8M633.3 323.6L556.9 240.5M521.6 318.1L619.8 243.6M635.3 323L558.9 238.5M520.1 317.4L618.3 241.4M637.3 322.5L560.9 236.4M518.5 316.7L616.7 239.2M639.2 322L562.8 234.4M517 316L615.2 237M641.2 321.5L564.8 232.4M515.5 315.3L613.7 234.8M643.2 320.9L566.8 230.3M514 314.6L612.2 232.6M645.1 320.4L568.7 228.3M512.4 314L610.6 230.3M647.1 319.9L570.7 226.3M510.9 313.3L609.1 228.1M649.1 319.4L572.7 224.2M509.4 312.6L607.6 225.9M651 318.8L574.6 222.2M507.9 311.9L606.1 223.7M653 318.3L576.6 220.2M506.3 311.2L604.5 221.5M655 317.8L578.6 218.1M504.8 310.5L603 219.3M656.9 317.3L580.5 216.1M503.3 309.8L601.5 217.1M658.9 316.7L582.5 214.1M501.7 309.1L599.9 214.9M660.8 316.2L584.4 212M500.2 308.4L598.4 212.7M662.8 315.7L586.4 210M498.7 307.7L596.9 210.5M664.8 315.2L588.4 208M497.2 307L595.4 208.3M666.7 314.6L590.3 205.9M495.6 306.3L593.8 206.1M668.7 314.1L592.3 203.9M494.1 305.6L592.3 203.9" stroke="#000" stroke-opacity="0.6" stroke-width="0.5" fill="none"/>
<g stroke="#4a4a4a" stroke-width="0.2">
<text x="574.9" y="348.8" font-size="5.2" text-anchor="start" fill="#3a3a3a">0</text>
<text x="594.5" y="343.4" font-size="5.2" text-anchor="start" fill="#3a3a3a">20</text>
<text x="614.2" y="337.3" font-size="5.2" text-anchor="start" fill="#3a3a3a">40</text>
<text x="633.8" y="331.9" font-size="5.2" text-anchor="start" fill="#3a3a3a">60</text>
<text x="653.5" y="327" font-size="5.2" text-anchor="start" fill="#3a3a3a">80</text>
<text x="673.1" y="321.6" font-size="5.2" text-anchor="start" fill="#3a3a3a">100</text>
<text x="566.1" y="347.9" font-size="5.2" text-anchor="end" fill="#3a3a3a">0</text>
<text x="527.9" y="330.2" font-size="5.2" text-anchor="end" fill="#3a3a3a">50</text>
<text x="489.7" y="312.6" font-size="5.2" text-anchor="end" fill="#3a3a3a">100</text>
<text x="490.1" y="306.6" font-size="5.2" text-anchor="end" fill="#3a3a3a">0</text>
<text x="490.1" y="289.3" font-size="5.2" text-anchor="end" fill="#3a3a3a">1</text>
<text x="490.1" y="271.9" font-size="5.2" text-anchor="end" fill="#3a3a3a">2</text>
<text x="490.1" y="254.6" font-size="5.2" text-anchor="end" fill="#3a3a3a">3</text>
<text x="490.1" y="237.3" font-size="5.2" text-anchor="end" fill="#3a3a3a">4</text>
</g>
<text x="614.2" y="349.9" font-size="5.8" text-anchor="middle" fill="#7a7a7a">β</text>
<text x="531.4" y="347.6" font-size="5.8" text-anchor="middle" fill="#7a7a7a">α</text>
<text transform="translate(480.5 268) rotate(-90)" font-size="6.4" text-anchor="middle" fill="#444" stroke="#555" stroke-width="0.15">R<tspan font-size="4.6" dy="2.9">3</tspan></text>
<text x="480" y="222.9" font-size="5.4" fill="#444" stroke="#555" stroke-width="0.18"><tspan font-size="6">×</tspan><tspan dx="0.6">10</tspan><tspan font-size="4.3" dy="-2.8">7</tspan></text>
<path d="M355.4 134.1L279 99.3M375 128.9L298.6 94.1M394.7 123.6L318.3 88.8M414.3 118.4L337.9 83.6M433.9 113.1L357.5 78.3M297.6 122L395.8 95.7M259.4 104.6L357.5 78.3M433.9 113.1L433.9 37.7M395.8 95.7L395.8 20.3M357.5 78.3L357.5 2.9M433.9 99.7L357.5 64.9M433.9 86.4L357.5 51.6M433.9 73L357.5 38.2M433.9 59.6L357.5 24.8M433.9 46.3L357.5 11.5M279 99.3L279 23.9M298.6 94.1L298.6 18.7M318.3 88.8L318.3 13.4M337.9 83.6L337.9 8.2M357.5 78.3L357.5 2.9M259.4 91.2L357.5 64.9M259.4 77.9L357.5 51.6M259.4 64.5L357.5 38.2M259.4 51.1L357.5 24.8M259.4 37.8L357.5 11.5" stroke="#e3e3e3" stroke-width="0.6" fill="none"/>
<path d="M259.4 104.6L259.4 29.2" stroke="#c8c8c8" stroke-width="0.8" fill="none"/><path d="M335.8 139.4L433.9 113.1M335.8 139.4L259.4 104.6M335.8 139.4L337.9 140.4M355.4 134.1L357.6 135.1M375 128.9L377.2 129.9M394.7 123.6L396.9 124.6M414.3 118.4L416.5 119.4M433.9 113.1L436.1 114.1M335.8 139.4L333.4 140M297.6 122L295.2 122.6M259.4 104.6L257 105.2M259.4 104.6L257.2 103.6M259.4 91.2L257.2 90.2M259.4 77.9L257.2 76.9M259.4 64.5L257.2 63.5M259.4 51.1L257.2 50.1M259.4 37.8L257.2 36.8" stroke="#666" stroke-width="0.55" fill="none"/>
<mask id="c4" maskUnits="userSpaceOnUse" x="0" y="0" width="685" height="390"><path d="M334.2 138.7L432.4 37L357.5 2.9L259.4 104.6Z" fill="#fff"/></mask><g mask="url(#c4)">
<path d="M333.5 142.8L437.6 35L358.2 -1.2L254.2 106.6Z" fill="#3e26a8"/>
<path d="M338 138.1L340.5 135.6L343 133L345.5 130.4L348 127.8L350.5 125.2L352.9 122.7L355.4 120.1L357.9 117.5L360.4 114.9L362.9 112.3L365.4 109.8L367.9 107.2L370.4 104.6L372.9 102L375.4 99.5L377.8 96.9L380.3 94.3L382.8 91.7L385.3 89.1L387.8 86.6L390.3 84L392.8 81.4L395.3 78.8L397.8 76.2L400.3 73.7L402.8 71.1L405.2 68.5L407.7 65.9L410.2 63.3L412.7 60.8L415.2 58.2L417.7 55.6L420.2 53L422.7 50.5L425.2 47.9L427.7 45.3L430.1 42.7L432.6 40.1L435.1 37.6L437.6 35L358.2 -1.2L258.6 102Z" fill="#402ab4"/>
<path d="M339.5 136.5L342 134L344.4 131.5L346.9 128.9L349.3 126.4L351.8 123.9L354.2 121.3L356.7 118.8L359.2 116.2L361.6 113.7L364.1 111.2L366.5 108.6L369 106.1L371.4 103.5L373.9 101L376.3 98.5L378.8 95.9L381.2 93.4L383.7 90.8L386.1 88.3L388.6 85.8L391 83.2L393.5 80.7L395.9 78.1L398.4 75.6L400.8 73.1L403.3 70.5L405.7 68L408.2 65.4L410.6 62.9L413.1 60.4L415.5 57.8L418 55.3L420.5 52.8L422.9 50.2L425.4 47.7L427.8 45.1L430.3 42.6L432.7 40.1L435.2 37.5L437.6 35L358.2 -1.2L260.2 100.4Z" fill="#422ec0"/>
<path d="M341.1 135L343.5 132.5L345.9 130L348.3 127.5L350.7 125L353.1 122.5L355.6 120L358 117.5L360.4 115L362.8 112.5L365.2 110L367.6 107.5L370 105L372.4 102.5L374.9 100L377.3 97.5L379.7 95L382.1 92.5L384.5 90L386.9 87.5L389.3 85L391.8 82.5L394.2 80L396.6 77.5L399 75L401.4 72.5L403.8 70L406.2 67.5L408.7 65L411.1 62.5L413.5 60L415.9 57.5L418.3 55L420.7 52.5L423.1 50L425.5 47.5L428 45L430.4 42.5L432.8 40L435.2 37.5L437.6 35L358.2 -1.2L261.7 98.8Z" fill="#4332cb"/>
<path d="M342.6 133.4L345 130.9L347.4 128.5L349.7 126L352.1 123.5L354.5 121.1L356.9 118.6L359.2 116.2L361.6 113.7L364 111.2L366.4 108.8L368.7 106.3L371.1 103.9L373.5 101.4L375.9 98.9L378.2 96.5L380.6 94L383 91.6L385.4 89.1L387.7 86.6L390.1 84.2L392.5 81.7L394.9 79.3L397.2 76.8L399.6 74.3L402 71.9L404.4 69.4L406.7 67L409.1 64.5L411.5 62L413.9 59.6L416.2 57.1L418.6 54.7L421 52.2L423.4 49.7L425.7 47.3L428.1 44.8L430.5 42.4L432.9 39.9L435.2 37.4L437.6 35L358.2 -1.2L263.2 97.2Z" fill="#4537d5"/>
<path d="M344.1 131.8L346.5 129.4L348.8 126.9L351.2 124.5L353.5 122.1L355.8 119.7L358.2 117.3L360.5 114.8L362.8 112.4L365.2 110L367.5 107.6L369.8 105.2L372.2 102.7L374.5 100.3L376.9 97.9L379.2 95.5L381.5 93.1L383.9 90.6L386.2 88.2L388.5 85.8L390.9 83.4L393.2 81L395.6 78.5L397.9 76.1L400.2 73.7L402.6 71.3L404.9 68.9L407.2 66.4L409.6 64L411.9 61.6L414.2 59.2L416.6 56.8L418.9 54.3L421.3 51.9L423.6 49.5L425.9 47.1L428.3 44.7L430.6 42.2L432.9 39.8L435.3 37.4L437.6 35L358.2 -1.2L264.8 95.6Z" fill="#463cde"/>
<path d="M345.7 130.2L348 127.8L350.3 125.4L352.6 123.1L354.9 120.7L357.2 118.3L359.5 115.9L361.8 113.5L364.1 111.1L366.4 108.8L368.7 106.4L371 104L373.3 101.6L375.6 99.2L377.9 96.9L380.2 94.5L382.5 92.1L384.7 89.7L387 87.3L389.3 85L391.6 82.6L393.9 80.2L396.2 77.8L398.5 75.4L400.8 73.1L403.1 70.7L405.4 68.3L407.7 65.9L410 63.5L412.3 61.2L414.6 58.8L416.9 56.4L419.2 54L421.5 51.6L423.8 49.3L426.1 46.9L428.4 44.5L430.7 42.1L433 39.7L435.3 37.4L437.6 35L358.2 -1.2L266.3 94Z" fill="#4741e5"/>
<path d="M347.2 128.6L349.5 126.3L351.7 123.9L354 121.6L356.2 119.2L358.5 116.9L360.8 114.6L363 112.2L365.3 109.9L367.5 107.5L369.8 105.2L372.1 102.9L374.3 100.5L376.6 98.2L378.9 95.8L381.1 93.5L383.4 91.2L385.6 88.8L387.9 86.5L390.2 84.1L392.4 81.8L394.7 79.4L396.9 77.1L399.2 74.8L401.5 72.4L403.7 70.1L406 67.7L408.2 65.4L410.5 63.1L412.8 60.7L415 58.4L417.3 56L419.5 53.7L421.8 51.4L424.1 49L426.3 46.7L428.6 44.3L430.8 42L433.1 39.7L435.4 37.3L437.6 35L358.2 -1.2L267.8 92.5Z" fill="#4747eb"/>
<path d="M348.7 127L351 124.7L353.2 122.4L355.4 120.1L357.6 117.8L359.9 115.5L362.1 113.2L364.3 110.9L366.5 108.6L368.7 106.3L371 104L373.2 101.7L375.4 99.4L377.6 97.1L379.8 94.8L382.1 92.5L384.3 90.2L386.5 87.9L388.7 85.6L391 83.3L393.2 81L395.4 78.7L397.6 76.4L399.8 74.1L402.1 71.8L404.3 69.5L406.5 67.2L408.7 64.9L411 62.6L413.2 60.3L415.4 58L417.6 55.7L419.8 53.4L422.1 51.1L424.3 48.8L426.5 46.5L428.7 44.2L430.9 41.9L433.2 39.6L435.4 37.3L437.6 35L358.2 -1.2L269.4 90.9Z" fill="#484df0"/>
<path d="M350.3 125.4L352.5 123.2L354.6 120.9L356.8 118.6L359 116.4L361.2 114.1L363.4 111.9L365.6 109.6L367.7 107.3L369.9 105.1L372.1 102.8L374.3 100.6L376.5 98.3L378.7 96L380.8 93.8L383 91.5L385.2 89.2L387.4 87L389.6 84.7L391.8 82.5L393.9 80.2L396.1 77.9L398.3 75.7L400.5 73.4L402.7 71.2L404.9 68.9L407 66.6L409.2 64.4L411.4 62.1L413.6 59.8L415.8 57.6L418 55.3L420.1 53.1L422.3 50.8L424.5 48.5L426.7 46.3L428.9 44L431.1 41.8L433.2 39.5L435.4 37.2L437.6 35L358.2 -1.2L270.9 89.3Z" fill="#4852f4"/>
<path d="M351.8 123.8L354 121.6L356.1 119.4L358.2 117.2L360.4 115L362.5 112.7L364.7 110.5L366.8 108.3L369 106.1L371.1 103.8L373.3 101.6L375.4 99.4L377.6 97.2L379.7 95L381.8 92.7L384 90.5L386.1 88.3L388.3 86.1L390.4 83.8L392.6 81.6L394.7 79.4L396.9 77.2L399 75L401.1 72.7L403.3 70.5L405.4 68.3L407.6 66.1L409.7 63.9L411.9 61.6L414 59.4L416.2 57.2L418.3 55L420.5 52.7L422.6 50.5L424.7 48.3L426.9 46.1L429 43.9L431.2 41.6L433.3 39.4L435.5 37.2L437.6 35L358.2 -1.2L272.4 87.7Z" fill="#4758f8"/>
<path d="M353.3 122.2L355.5 120.1L357.6 117.9L359.7 115.7L361.8 113.5L363.9 111.3L366 109.2L368.1 107L370.2 104.8L372.3 102.6L374.4 100.4L376.5 98.2L378.6 96.1L380.7 93.9L382.8 91.7L384.9 89.5L387.1 87.3L389.2 85.2L391.3 83L393.4 80.8L395.5 78.6L397.6 76.4L399.7 74.2L401.8 72.1L403.9 69.9L406 67.7L408.1 65.5L410.2 63.3L412.3 61.2L414.4 59L416.5 56.8L418.7 54.6L420.8 52.4L422.9 50.2L425 48.1L427.1 45.9L429.2 43.7L431.3 41.5L433.4 39.3L435.5 37.2L437.6 35L358.2 -1.2L274 86.1Z" fill="#465efb"/>
<path d="M354.9 120.7L356.9 118.5L359 116.4L361.1 114.2L363.2 112.1L365.2 109.9L367.3 107.8L369.4 105.7L371.4 103.5L373.5 101.4L375.6 99.2L377.6 97.1L379.7 95L381.8 92.8L383.8 90.7L385.9 88.5L388 86.4L390 84.2L392.1 82.1L394.2 80L396.2 77.8L398.3 75.7L400.4 73.5L402.5 71.4L404.5 69.2L406.6 67.1L408.7 65L410.7 62.8L412.8 60.7L414.9 58.5L416.9 56.4L419 54.3L421.1 52.1L423.1 50L425.2 47.8L427.3 45.7L429.3 43.5L431.4 41.4L433.5 39.3L435.5 37.1L437.6 35L358.2 -1.2L275.5 84.5Z" fill="#4563fd"/>
<path d="M356.4 119.1L358.4 117L360.5 114.9L362.5 112.8L364.5 110.7L366.6 108.6L368.6 106.5L370.6 104.4L372.7 102.3L374.7 100.1L376.7 98L378.7 95.9L380.8 93.8L382.8 91.7L384.8 89.6L386.9 87.5L388.9 85.4L390.9 83.3L393 81.2L395 79.1L397 77L399 74.9L401.1 72.8L403.1 70.7L405.1 68.6L407.2 66.5L409.2 64.4L411.2 62.3L413.3 60.2L415.3 58.1L417.3 56L419.3 53.9L421.4 51.8L423.4 49.7L425.4 47.6L427.5 45.5L429.5 43.4L431.5 41.3L433.6 39.2L435.6 37.1L437.6 35L358.2 -1.2L277.1 82.9Z" fill="#4269fe"/>
<path d="M357.9 117.5L359.9 115.4L361.9 113.4L363.9 111.3L365.9 109.2L367.9 107.2L369.9 105.1L371.9 103L373.9 101L375.9 98.9L377.9 96.9L379.9 94.8L381.8 92.7L383.8 90.7L385.8 88.6L387.8 86.5L389.8 84.5L391.8 82.4L393.8 80.4L395.8 78.3L397.8 76.2L399.8 74.2L401.8 72.1L403.8 70L405.7 68L407.7 65.9L409.7 63.9L411.7 61.8L413.7 59.7L415.7 57.7L417.7 55.6L419.7 53.5L421.7 51.5L423.7 49.4L425.7 47.4L427.7 45.3L429.6 43.2L431.6 41.2L433.6 39.1L435.6 37L437.6 35L358.2 -1.2L278.6 81.3Z" fill="#3e6fff"/>
<path d="M359.5 115.9L361.4 113.9L363.4 111.8L365.3 109.8L367.3 107.8L369.3 105.8L371.2 103.8L373.2 101.7L375.1 99.7L377.1 97.7L379 95.7L381 93.6L382.9 91.6L384.9 89.6L386.8 87.6L388.8 85.5L390.7 83.5L392.7 81.5L394.6 79.5L396.6 77.5L398.5 75.4L400.5 73.4L402.5 71.4L404.4 69.4L406.4 67.3L408.3 65.3L410.3 63.3L412.2 61.3L414.2 59.3L416.1 57.2L418.1 55.2L420 53.2L422 51.2L423.9 49.1L425.9 47.1L427.8 45.1L429.8 43.1L431.8 41L433.7 39L435.7 37L437.6 35L358.2 -1.2L280.1 79.7Z" fill="#3875fe"/>
<path d="M361 114.3L362.9 112.3L364.8 110.3L366.8 108.4L368.7 106.4L370.6 104.4L372.5 102.4L374.4 100.4L376.3 98.4L378.3 96.5L380.2 94.5L382.1 92.5L384 90.5L385.9 88.5L387.8 86.5L389.7 84.6L391.7 82.6L393.6 80.6L395.5 78.6L397.4 76.6L399.3 74.6L401.2 72.7L403.1 70.7L405.1 68.7L407 66.7L408.9 64.7L410.8 62.7L412.7 60.8L414.6 58.8L416.6 56.8L418.5 54.8L420.4 52.8L422.3 50.8L424.2 48.9L426.1 46.9L428 44.9L430 42.9L431.9 40.9L433.8 38.9L435.7 37L437.6 35L358.2 -1.2L281.7 78.2Z" fill="#327cfc"/>
<path d="M362.6 112.7L364.4 110.8L366.3 108.8L368.2 106.9L370.1 104.9L371.9 103L373.8 101.1L375.7 99.1L377.6 97.2L379.4 95.2L381.3 93.3L383.2 91.3L385.1 89.4L386.9 87.4L388.8 85.5L390.7 83.6L392.6 81.6L394.5 79.7L396.3 77.7L398.2 75.8L400.1 73.8L402 71.9L403.8 70L405.7 68L407.6 66.1L409.5 64.1L411.3 62.2L413.2 60.2L415.1 58.3L417 56.4L418.8 54.4L420.7 52.5L422.6 50.5L424.5 48.6L426.4 46.6L428.2 44.7L430.1 42.7L432 40.8L433.9 38.9L435.7 36.9L437.6 35L358.2 -1.2L283.2 76.6Z" fill="#2f81fa"/>
<path d="M364.1 111.1L365.9 109.2L367.8 107.3L369.6 105.4L371.4 103.5L373.3 101.6L375.1 99.7L377 97.8L378.8 95.9L380.6 94L382.5 92.1L384.3 90.2L386.1 88.3L388 86.4L389.8 84.5L391.7 82.6L393.5 80.7L395.3 78.8L397.2 76.9L399 75L400.9 73.1L402.7 71.1L404.5 69.2L406.4 67.3L408.2 65.4L410 63.5L411.9 61.6L413.7 59.7L415.6 57.8L417.4 55.9L419.2 54L421.1 52.1L422.9 50.2L424.7 48.3L426.6 46.4L428.4 44.5L430.3 42.6L432.1 40.7L433.9 38.8L435.8 36.9L437.6 35L358.2 -1.2L284.7 75Z" fill="#2e87f7"/>
<path d="M365.6 109.5L367.4 107.7L369.2 105.8L371 103.9L372.8 102.1L374.6 100.2L376.4 98.4L378.2 96.5L380 94.6L381.8 92.8L383.6 90.9L385.4 89L387.2 87.2L389 85.3L390.8 83.4L392.6 81.6L394.4 79.7L396.2 77.8L398 76L399.8 74.1L401.6 72.3L403.4 70.4L405.2 68.5L407 66.7L408.8 64.8L410.6 62.9L412.4 61.1L414.2 59.2L416 57.3L417.8 55.5L419.6 53.6L421.4 51.8L423.2 49.9L425 48L426.8 46.2L428.6 44.3L430.4 42.4L432.2 40.6L434 38.7L435.8 36.8L437.6 35L358.2 -1.2L286.3 73.4Z" fill="#2d8cf3"/>
<path d="M367.2 107.9L368.9 106.1L370.7 104.3L372.4 102.5L374.2 100.6L376 98.8L377.7 97L379.5 95.2L381.2 93.4L383 91.5L384.8 89.7L386.5 87.9L388.3 86.1L390.1 84.2L391.8 82.4L393.6 80.6L395.3 78.8L397.1 76.9L398.9 75.1L400.6 73.3L402.4 71.5L404.1 69.6L405.9 67.8L407.7 66L409.4 64.2L411.2 62.3L413 60.5L414.7 58.7L416.5 56.9L418.2 55L420 53.2L421.8 51.4L423.5 49.6L425.3 47.7L427 45.9L428.8 44.1L430.6 42.3L432.3 40.4L434.1 38.6L435.9 36.8L437.6 35L358.2 -1.2L287.8 71.8Z" fill="#2b91ef"/>
<path d="M368.7 106.4L370.4 104.6L372.1 102.8L373.9 101L375.6 99.2L377.3 97.4L379 95.6L380.8 93.9L382.5 92.1L384.2 90.3L385.9 88.5L387.6 86.7L389.4 84.9L391.1 83.2L392.8 81.4L394.5 79.6L396.3 77.8L398 76L399.7 74.2L401.4 72.5L403.2 70.7L404.9 68.9L406.6 67.1L408.3 65.3L410 63.5L411.8 61.7L413.5 60L415.2 58.2L416.9 56.4L418.7 54.6L420.4 52.8L422.1 51L423.8 49.3L425.6 47.5L427.3 45.7L429 43.9L430.7 42.1L432.4 40.3L434.2 38.5L435.9 36.8L437.6 35L358.2 -1.2L289.3 70.2Z" fill="#2797eb"/>
<path d="M370.2 104.8L371.9 103L373.6 101.3L375.3 99.5L377 97.8L378.6 96L380.3 94.3L382 92.6L383.7 90.8L385.4 89.1L387.1 87.3L388.8 85.6L390.4 83.8L392.1 82.1L393.8 80.3L395.5 78.6L397.2 76.9L398.9 75.1L400.5 73.4L402.2 71.6L403.9 69.9L405.6 68.1L407.3 66.4L409 64.6L410.7 62.9L412.3 61.1L414 59.4L415.7 57.7L417.4 55.9L419.1 54.2L420.8 52.4L422.5 50.7L424.1 48.9L425.8 47.2L427.5 45.4L429.2 43.7L430.9 42L432.6 40.2L434.2 38.5L435.9 36.7L437.6 35L358.2 -1.2L290.9 68.6Z" fill="#259be8"/>
<path d="M371.8 103.2L373.4 101.5L375.1 99.8L376.7 98.1L378.3 96.4L380 94.7L381.6 92.9L383.3 91.2L384.9 89.5L386.6 87.8L388.2 86.1L389.9 84.4L391.5 82.7L393.2 81L394.8 79.3L396.5 77.6L398.1 75.9L399.7 74.2L401.4 72.5L403 70.8L404.7 69.1L406.3 67.4L408 65.7L409.6 64L411.3 62.3L412.9 60.6L414.6 58.8L416.2 57.1L417.9 55.4L419.5 53.7L421.2 52L422.8 50.3L424.4 48.6L426.1 46.9L427.7 45.2L429.4 43.5L431 41.8L432.7 40.1L434.3 38.4L436 36.7L437.6 35L358.2 -1.2L292.4 67Z" fill="#23a0e5"/>
<path d="M373.3 101.6L374.9 99.9L376.5 98.3L378.1 96.6L379.7 94.9L381.3 93.3L382.9 91.6L384.5 89.9L386.2 88.3L387.8 86.6L389.4 84.9L391 83.3L392.6 81.6L394.2 79.9L395.8 78.3L397.4 76.6L399 74.9L400.6 73.3L402.2 71.6L403.8 69.9L405.5 68.3L407.1 66.6L408.7 65L410.3 63.3L411.9 61.6L413.5 60L415.1 58.3L416.7 56.6L418.3 55L419.9 53.3L421.5 51.6L423.1 50L424.7 48.3L426.4 46.6L428 45L429.6 43.3L431.2 41.6L432.8 40L434.4 38.3L436 36.6L437.6 35L358.2 -1.2L293.9 65.4Z" fill="#20a5e3"/>
<path d="M374.8 100L376.4 98.4L378 96.7L379.5 95.1L381.1 93.5L382.7 91.9L384.2 90.2L385.8 88.6L387.4 87L389 85.4L390.5 83.7L392.1 82.1L393.7 80.5L395.2 78.9L396.8 77.2L398.4 75.6L399.9 74L401.5 72.4L403.1 70.7L404.7 69.1L406.2 67.5L407.8 65.9L409.4 64.2L410.9 62.6L412.5 61L414.1 59.4L415.6 57.7L417.2 56.1L418.8 54.5L420.3 52.9L421.9 51.2L423.5 49.6L425.1 48L426.6 46.4L428.2 44.7L429.8 43.1L431.3 41.5L432.9 39.9L434.5 38.2L436 36.6L437.6 35L358.2 -1.2L295.5 63.9Z" fill="#1ca9df"/>
<path d="M376.4 98.4L377.9 96.8L379.4 95.2L381 93.7L382.5 92.1L384 90.5L385.5 88.9L387.1 87.3L388.6 85.7L390.1 84.1L391.7 82.6L393.2 81L394.7 79.4L396.3 77.8L397.8 76.2L399.3 74.6L400.9 73L402.4 71.5L403.9 69.9L405.5 68.3L407 66.7L408.5 65.1L410.1 63.5L411.6 61.9L413.1 60.4L414.6 58.8L416.2 57.2L417.7 55.6L419.2 54L420.8 52.4L422.3 50.8L423.8 49.2L425.4 47.7L426.9 46.1L428.4 44.5L430 42.9L431.5 41.3L433 39.7L434.6 38.1L436.1 36.6L437.6 35L358.2 -1.2L297 62.3Z" fill="#18addb"/>
<path d="M377.9 96.8L379.4 95.3L380.9 93.7L382.4 92.2L383.9 90.6L385.4 89.1L386.9 87.5L388.3 86L389.8 84.5L391.3 82.9L392.8 81.4L394.3 79.8L395.8 78.3L397.3 76.7L398.8 75.2L400.3 73.6L401.8 72.1L403.3 70.5L404.8 69L406.3 67.4L407.8 65.9L409.2 64.4L410.7 62.8L412.2 61.3L413.7 59.7L415.2 58.2L416.7 56.6L418.2 55.1L419.7 53.5L421.2 52L422.7 50.4L424.2 48.9L425.7 47.3L427.2 45.8L428.7 44.3L430.1 42.7L431.6 41.2L433.1 39.6L434.6 38.1L436.1 36.5L437.6 35L358.2 -1.2L298.5 60.7Z" fill="#12b1d6"/>
<path d="M379.4 95.2L380.9 93.7L382.3 92.2L383.8 90.7L385.2 89.2L386.7 87.7L388.2 86.2L389.6 84.7L391.1 83.2L392.5 81.7L394 80.2L395.4 78.7L396.9 77.2L398.3 75.6L399.8 74.1L401.2 72.6L402.7 71.1L404.2 69.6L405.6 68.1L407.1 66.6L408.5 65.1L410 63.6L411.4 62.1L412.9 60.6L414.3 59.1L415.8 57.6L417.2 56.1L418.7 54.6L420.2 53.1L421.6 51.5L423.1 50L424.5 48.5L426 47L427.4 45.5L428.9 44L430.3 42.5L431.8 41L433.3 39.5L434.7 38L436.2 36.5L437.6 35L358.2 -1.2L300.1 59.1Z" fill="#08b5d0"/>
<path d="M381 93.6L382.4 92.2L383.8 90.7L385.2 89.2L386.6 87.8L388 86.3L389.5 84.8L390.9 83.4L392.3 81.9L393.7 80.4L395.1 79L396.5 77.5L398 76L399.4 74.6L400.8 73.1L402.2 71.6L403.6 70.2L405 68.7L406.5 67.2L407.9 65.8L409.3 64.3L410.7 62.8L412.1 61.4L413.5 59.9L415 58.4L416.4 57L417.8 55.5L419.2 54L420.6 52.6L422 51.1L423.5 49.6L424.9 48.2L426.3 46.7L427.7 45.2L429.1 43.8L430.5 42.3L431.9 40.8L433.4 39.4L434.8 37.9L436.2 36.4L437.6 35L358.2 -1.2L301.6 57.5Z" fill="#01b8ca"/>
<path d="M382.5 92.1L383.9 90.6L385.3 89.2L386.6 87.8L388 86.3L389.4 84.9L390.8 83.5L392.1 82.1L393.5 80.6L394.9 79.2L396.3 77.8L397.7 76.4L399 74.9L400.4 73.5L401.8 72.1L403.2 70.7L404.5 69.2L405.9 67.8L407.3 66.4L408.7 64.9L410.1 63.5L411.4 62.1L412.8 60.7L414.2 59.2L415.6 57.8L416.9 56.4L418.3 55L419.7 53.5L421.1 52.1L422.5 50.7L423.8 49.2L425.2 47.8L426.6 46.4L428 45L429.3 43.5L430.7 42.1L432.1 40.7L433.5 39.3L434.9 37.8L436.2 36.4L437.6 35L358.2 -1.2L303.1 55.9Z" fill="#02bac3"/>
<path d="M384 90.5L385.4 89.1L386.7 87.7L388.1 86.3L389.4 84.9L390.7 83.5L392.1 82.1L393.4 80.8L394.7 79.4L396.1 78L397.4 76.6L398.8 75.2L400.1 73.8L401.4 72.4L402.8 71L404.1 69.7L405.5 68.3L406.8 66.9L408.1 65.5L409.5 64.1L410.8 62.7L412.2 61.3L413.5 59.9L414.8 58.6L416.2 57.2L417.5 55.8L418.9 54.4L420.2 53L421.5 51.6L422.9 50.2L424.2 48.8L425.6 47.5L426.9 46.1L428.2 44.7L429.6 43.3L430.9 41.9L432.3 40.5L433.6 39.1L434.9 37.8L436.3 36.4L437.6 35L358.2 -1.2L304.7 54.3Z" fill="#0bbdbd"/>
<path d="M385.6 88.9L386.9 87.5L388.2 86.2L389.5 84.8L390.8 83.5L392.1 82.1L393.4 80.8L394.7 79.4L396 78.1L397.3 76.7L398.6 75.4L399.9 74.1L401.2 72.7L402.5 71.4L403.8 70L405.1 68.7L406.4 67.3L407.7 66L409 64.6L410.3 63.3L411.6 61.9L412.9 60.6L414.2 59.2L415.5 57.9L416.8 56.5L418.1 55.2L419.4 53.8L420.7 52.5L422 51.1L423.3 49.8L424.6 48.5L425.9 47.1L427.2 45.8L428.5 44.4L429.8 43.1L431.1 41.7L432.4 40.4L433.7 39L435 37.7L436.3 36.3L437.6 35L358.2 -1.2L306.2 52.7Z" fill="#19bfb6"/>
<path d="M387.1 87.3L388.4 86L389.6 84.7L390.9 83.4L392.2 82.1L393.4 80.7L394.7 79.4L395.9 78.1L397.2 76.8L398.5 75.5L399.7 74.2L401 72.9L402.3 71.6L403.5 70.3L404.8 69L406 67.7L407.3 66.4L408.6 65.1L409.8 63.7L411.1 62.4L412.4 61.1L413.6 59.8L414.9 58.5L416.1 57.2L417.4 55.9L418.7 54.6L419.9 53.3L421.2 52L422.5 50.7L423.7 49.4L425 48.1L426.2 46.7L427.5 45.4L428.8 44.1L430 42.8L431.3 41.5L432.6 40.2L433.8 38.9L435.1 37.6L436.4 36.3L437.6 35L358.2 -1.2L307.7 51.1Z" fill="#24c1ae"/>
<path d="M388.6 85.7L389.9 84.4L391.1 83.2L392.3 81.9L393.5 80.6L394.8 79.4L396 78.1L397.2 76.8L398.4 75.6L399.7 74.3L400.9 73L402.1 71.8L403.3 70.5L404.6 69.2L405.8 67.9L407 66.7L408.2 65.4L409.5 64.1L410.7 62.9L411.9 61.6L413.1 60.3L414.3 59.1L415.6 57.8L416.8 56.5L418 55.3L419.2 54L420.5 52.7L421.7 51.5L422.9 50.2L424.1 48.9L425.4 47.7L426.6 46.4L427.8 45.1L429 43.9L430.3 42.6L431.5 41.3L432.7 40L433.9 38.8L435.2 37.5L436.4 36.2L437.6 35L358.2 -1.2L309.3 49.5Z" fill="#2cc4a7"/>
<path d="M390.2 84.1L391.4 82.9L392.5 81.7L393.7 80.4L394.9 79.2L396.1 78L397.3 76.7L398.5 75.5L399.7 74.3L400.8 73.1L402 71.8L403.2 70.6L404.4 69.4L405.6 68.1L406.8 66.9L408 65.7L409.1 64.5L410.3 63.2L411.5 62L412.7 60.8L413.9 59.5L415.1 58.3L416.3 57.1L417.5 55.9L418.6 54.6L419.8 53.4L421 52.2L422.2 50.9L423.4 49.7L424.6 48.5L425.8 47.3L426.9 46L428.1 44.8L429.3 43.6L430.5 42.3L431.7 41.1L432.9 39.9L434.1 38.7L435.2 37.4L436.4 36.2L437.6 35L358.2 -1.2L310.8 48Z" fill="#31c69f"/>
<path d="M391.7 82.5L392.9 81.3L394 80.1L395.1 79L396.3 77.8L397.4 76.6L398.6 75.4L399.7 74.2L400.9 73L402 71.8L403.2 70.6L404.3 69.4L405.5 68.3L406.6 67.1L407.8 65.9L408.9 64.7L410.1 63.5L411.2 62.3L412.4 61.1L413.5 59.9L414.7 58.7L415.8 57.6L417 56.4L418.1 55.2L419.3 54L420.4 52.8L421.5 51.6L422.7 50.4L423.8 49.2L425 48.1L426.1 46.9L427.3 45.7L428.4 44.5L429.6 43.3L430.7 42.1L431.9 40.9L433 39.7L434.2 38.5L435.3 37.4L436.5 36.2L437.6 35L358.2 -1.2L312.3 46.4Z" fill="#37c897"/>
<path d="M393.2 80.9L394.3 79.8L395.5 78.6L396.6 77.5L397.7 76.3L398.8 75.2L399.9 74L401 72.9L402.1 71.7L403.2 70.6L404.3 69.4L405.4 68.3L406.6 67.1L407.7 66L408.8 64.8L409.9 63.7L411 62.5L412.1 61.4L413.2 60.3L414.3 59.1L415.4 58L416.5 56.8L417.6 55.7L418.8 54.5L419.9 53.4L421 52.2L422.1 51.1L423.2 49.9L424.3 48.8L425.4 47.6L426.5 46.5L427.6 45.3L428.7 44.2L429.8 43L431 41.9L432.1 40.7L433.2 39.6L434.3 38.4L435.4 37.3L436.5 36.1L437.6 35L358.2 -1.2L313.9 44.8Z" fill="#3fca8e"/>
<path d="M394.8 79.3L395.8 78.2L396.9 77.1L398 76L399.1 74.9L400.1 73.8L401.2 72.7L402.3 71.6L403.3 70.5L404.4 69.4L405.5 68.3L406.6 67.1L407.6 66L408.7 64.9L409.8 63.8L410.8 62.7L411.9 61.6L413 60.5L414.1 59.4L415.1 58.3L416.2 57.2L417.3 56.1L418.3 54.9L419.4 53.8L420.5 52.7L421.5 51.6L422.6 50.5L423.7 49.4L424.8 48.3L425.8 47.2L426.9 46.1L428 45L429 43.8L430.1 42.7L431.2 41.6L432.3 40.5L433.3 39.4L434.4 38.3L435.5 37.2L436.5 36.1L437.6 35L358.2 -1.2L315.4 43.2Z" fill="#4acb84"/>
<path d="M396.3 77.8L397.3 76.7L398.4 75.6L399.4 74.5L400.4 73.5L401.5 72.4L402.5 71.3L403.5 70.3L404.6 69.2L405.6 68.1L406.6 67.1L407.7 66L408.7 64.9L409.7 63.9L410.8 62.8L411.8 61.7L412.8 60.6L413.9 59.6L414.9 58.5L415.9 57.4L417 56.4L418 55.3L419 54.2L420.1 53.2L421.1 52.1L422.1 51L423.2 49.9L424.2 48.9L425.2 47.8L426.3 46.7L427.3 45.7L428.3 44.6L429.4 43.5L430.4 42.5L431.4 41.4L432.5 40.3L433.5 39.3L434.5 38.2L435.5 37.1L436.6 36L437.6 35L358.2 -1.2L316.9 41.6Z" fill="#57cc7a"/>
<path d="M397.8 76.2L398.8 75.1L399.8 74.1L400.8 73.1L401.8 72L402.8 71L403.8 70L404.8 69L405.8 67.9L406.8 66.9L407.8 65.9L408.8 64.8L409.8 63.8L410.8 62.8L411.8 61.7L412.8 60.7L413.8 59.7L414.7 58.7L415.7 57.6L416.7 56.6L417.7 55.6L418.7 54.5L419.7 53.5L420.7 52.5L421.7 51.5L422.7 50.4L423.7 49.4L424.7 48.4L425.7 47.3L426.7 46.3L427.7 45.3L428.7 44.2L429.7 43.2L430.7 42.2L431.6 41.2L432.6 40.1L433.6 39.1L434.6 38.1L435.6 37L436.6 36L437.6 35L358.2 -1.2L318.5 40Z" fill="#64cd6f"/>
<path d="M399.4 74.6L400.3 73.6L401.3 72.6L402.2 71.6L403.2 70.6L404.2 69.6L405.1 68.6L406.1 67.6L407 66.7L408 65.7L408.9 64.7L409.9 63.7L410.8 62.7L411.8 61.7L412.8 60.7L413.7 59.7L414.7 58.7L415.6 57.7L416.6 56.8L417.5 55.8L418.5 54.8L419.5 53.8L420.4 52.8L421.4 51.8L422.3 50.8L423.3 49.8L424.2 48.8L425.2 47.8L426.1 46.9L427.1 45.9L428.1 44.9L429 43.9L430 42.9L430.9 41.9L431.9 40.9L432.8 39.9L433.8 38.9L434.7 37.9L435.7 37L436.7 36L437.6 35L358.2 -1.2L320 38.4Z" fill="#72cd64"/>
<path d="M400.9 73L401.8 72L402.7 71.1L403.7 70.1L404.6 69.2L405.5 68.2L406.4 67.3L407.3 66.3L408.3 65.4L409.2 64.4L410.1 63.5L411 62.5L411.9 61.6L412.8 60.6L413.8 59.7L414.7 58.7L415.6 57.8L416.5 56.8L417.4 55.9L418.3 54.9L419.3 54L420.2 53L421.1 52.1L422 51.1L422.9 50.2L423.9 49.2L424.8 48.3L425.7 47.3L426.6 46.4L427.5 45.4L428.4 44.5L429.4 43.5L430.3 42.6L431.2 41.6L432.1 40.7L433 39.7L433.9 38.8L434.9 37.8L435.8 36.9L436.7 35.9L437.6 35L358.2 -1.2L321.5 36.8Z" fill="#81cc59"/>
<path d="M402.4 71.4L403.3 70.5L404.2 69.6L405.1 68.7L406 67.8L406.8 66.8L407.7 65.9L408.6 65L409.5 64.1L410.4 63.2L411.2 62.3L412.1 61.4L413 60.5L413.9 59.6L414.8 58.6L415.6 57.7L416.5 56.8L417.4 55.9L418.3 55L419.2 54.1L420 53.2L420.9 52.3L421.8 51.4L422.7 50.5L423.5 49.5L424.4 48.6L425.3 47.7L426.2 46.8L427.1 45.9L427.9 45L428.8 44.1L429.7 43.2L430.6 42.3L431.5 41.3L432.3 40.4L433.2 39.5L434.1 38.6L435 37.7L435.9 36.8L436.7 35.9L437.6 35L358.2 -1.2L323.1 35.2Z" fill="#8fcb4e"/>
<path d="M404 69.8L404.8 68.9L405.7 68.1L406.5 67.2L407.3 66.3L408.2 65.5L409 64.6L409.9 63.7L410.7 62.8L411.5 62L412.4 61.1L413.2 60.2L414.1 59.4L414.9 58.5L415.8 57.6L416.6 56.7L417.4 55.9L418.3 55L419.1 54.1L420 53.3L420.8 52.4L421.6 51.5L422.5 50.7L423.3 49.8L424.2 48.9L425 48L425.8 47.2L426.7 46.3L427.5 45.4L428.4 44.6L429.2 43.7L430 42.8L430.9 41.9L431.7 41.1L432.6 40.2L433.4 39.3L434.3 38.5L435.1 37.6L435.9 36.7L436.8 35.8L437.6 35L358.2 -1.2L324.6 33.7Z" fill="#9dc943"/>
<path d="M405.5 68.2L406.3 67.4L407.1 66.6L407.9 65.7L408.7 64.9L409.5 64.1L410.3 63.2L411.1 62.4L411.9 61.6L412.7 60.7L413.5 59.9L414.3 59.1L415.1 58.2L415.9 57.4L416.7 56.6L417.6 55.8L418.4 54.9L419.2 54.1L420 53.3L420.8 52.4L421.6 51.6L422.4 50.8L423.2 49.9L424 49.1L424.8 48.3L425.6 47.4L426.4 46.6L427.2 45.8L428 44.9L428.8 44.1L429.6 43.3L430.4 42.5L431.2 41.6L432 40.8L432.8 40L433.6 39.1L434.4 38.3L435.2 37.5L436 36.6L436.8 35.8L437.6 35L358.2 -1.2L326.2 32.1Z" fill="#abc739"/>
<path d="M407 66.6L407.8 65.8L408.6 65L409.3 64.3L410.1 63.5L410.9 62.7L411.6 61.9L412.4 61.1L413.2 60.3L413.9 59.5L414.7 58.7L415.5 57.9L416.2 57.1L417 56.3L417.7 55.6L418.5 54.8L419.3 54L420 53.2L420.8 52.4L421.6 51.6L422.3 50.8L423.1 50L423.9 49.2L424.6 48.4L425.4 47.6L426.2 46.8L426.9 46.1L427.7 45.3L428.4 44.5L429.2 43.7L430 42.9L430.7 42.1L431.5 41.3L432.3 40.5L433 39.7L433.8 38.9L434.6 38.1L435.3 37.4L436.1 36.6L436.9 35.8L437.6 35L358.2 -1.2L327.7 30.5Z" fill="#b9c431"/>
<path d="M408.6 65L409.3 64.3L410 63.5L410.8 62.8L411.5 62L412.2 61.3L412.9 60.5L413.7 59.8L414.4 59L415.1 58.3L415.8 57.5L416.6 56.8L417.3 56L418 55.3L418.7 54.5L419.5 53.8L420.2 53L420.9 52.3L421.6 51.5L422.4 50.8L423.1 50L423.8 49.3L424.6 48.5L425.3 47.8L426 47L426.7 46.3L427.5 45.5L428.2 44.7L428.9 44L429.6 43.2L430.4 42.5L431.1 41.7L431.8 41L432.5 40.2L433.3 39.5L434 38.7L434.7 38L435.4 37.2L436.2 36.5L436.9 35.7L437.6 35L358.2 -1.2L329.2 28.9Z" fill="#c5c22a"/>
<path d="M410.1 63.5L410.8 62.7L411.5 62L412.2 61.3L412.9 60.6L413.6 59.9L414.2 59.2L414.9 58.5L415.6 57.8L416.3 57L417 56.3L417.7 55.6L418.4 54.9L419.1 54.2L419.7 53.5L420.4 52.8L421.1 52.1L421.8 51.3L422.5 50.6L423.2 49.9L423.9 49.2L424.6 48.5L425.2 47.8L425.9 47.1L426.6 46.4L427.3 45.7L428 44.9L428.7 44.2L429.4 43.5L430.1 42.8L430.7 42.1L431.4 41.4L432.1 40.7L432.8 40L433.5 39.2L434.2 38.5L434.9 37.8L435.6 37.1L436.2 36.4L436.9 35.7L437.6 35L358.2 -1.2L330.8 27.3Z" fill="#d1bf27"/>
<path d="M411.7 61.9L412.3 61.2L413 60.5L413.6 59.8L414.2 59.2L414.9 58.5L415.5 57.8L416.2 57.2L416.8 56.5L417.5 55.8L418.1 55.1L418.8 54.5L419.4 53.8L420.1 53.1L420.7 52.5L421.4 51.8L422 51.1L422.7 50.4L423.3 49.8L424 49.1L424.6 48.4L425.3 47.7L425.9 47.1L426.6 46.4L427.2 45.7L427.9 45.1L428.5 44.4L429.2 43.7L429.8 43L430.5 42.4L431.1 41.7L431.8 41L432.4 40.4L433.1 39.7L433.7 39L434.4 38.3L435 37.7L435.7 37L436.3 36.3L437 35.6L437.6 35L358.2 -1.2L332.3 25.7Z" fill="#dcbd29"/>
<path d="M413.2 60.3L413.8 59.6L414.4 59L415 58.4L415.6 57.7L416.2 57.1L416.9 56.5L417.5 55.8L418.1 55.2L418.7 54.6L419.3 53.9L419.9 53.3L420.5 52.7L421.1 52.1L421.7 51.4L422.3 50.8L423 50.2L423.6 49.5L424.2 48.9L424.8 48.3L425.4 47.6L426 47L426.6 46.4L427.2 45.7L427.8 45.1L428.5 44.5L429.1 43.8L429.7 43.2L430.3 42.6L430.9 41.9L431.5 41.3L432.1 40.7L432.7 40L433.3 39.4L434 38.8L434.6 38.1L435.2 37.5L435.8 36.9L436.4 36.2L437 35.6L437.6 35L358.2 -1.2L333.8 24.1Z" fill="#e6bb2d"/>
<path d="M414.7 58.7L415.3 58.1L415.9 57.5L416.4 56.9L417 56.3L417.6 55.7L418.2 55.1L418.7 54.5L419.3 53.9L419.9 53.4L420.4 52.8L421 52.2L421.6 51.6L422.2 51L422.7 50.4L423.3 49.8L423.9 49.2L424.5 48.6L425 48L425.6 47.4L426.2 46.8L426.7 46.2L427.3 45.6L427.9 45.1L428.5 44.5L429 43.9L429.6 43.3L430.2 42.7L430.7 42.1L431.3 41.5L431.9 40.9L432.5 40.3L433 39.7L433.6 39.1L434.2 38.5L434.8 37.9L435.3 37.3L435.9 36.8L436.5 36.2L437 35.6L437.6 35L358.2 -1.2L335.4 22.5Z" fill="#f0ba36"/>
<path d="M416.3 57.1L416.8 56.5L417.3 56L417.9 55.4L418.4 54.9L418.9 54.3L419.5 53.8L420 53.2L420.5 52.7L421.1 52.1L421.6 51.6L422.1 51L422.7 50.5L423.2 49.9L423.7 49.4L424.3 48.8L424.8 48.2L425.3 47.7L425.9 47.1L426.4 46.6L426.9 46L427.5 45.5L428 44.9L428.5 44.4L429.1 43.8L429.6 43.3L430.1 42.7L430.7 42.2L431.2 41.6L431.7 41.1L432.3 40.5L432.8 40L433.3 39.4L433.9 38.8L434.4 38.3L434.9 37.7L435.5 37.2L436 36.6L436.5 36.1L437.1 35.5L437.6 35L358.2 -1.2L336.9 20.9Z" fill="#f8ba3d"/>
<path d="M417.8 55.5L418.3 55L418.8 54.5L419.3 54L419.8 53.5L420.3 52.9L420.8 52.4L421.3 51.9L421.8 51.4L422.3 50.9L422.7 50.4L423.2 49.9L423.7 49.3L424.2 48.8L424.7 48.3L425.2 47.8L425.7 47.3L426.2 46.8L426.7 46.3L427.2 45.8L427.7 45.2L428.2 44.7L428.7 44.2L429.2 43.7L429.7 43.2L430.2 42.7L430.7 42.2L431.2 41.6L431.7 41.1L432.2 40.6L432.7 40.1L433.2 39.6L433.6 39.1L434.1 38.6L434.6 38.1L435.1 37.5L435.6 37L436.1 36.5L436.6 36L437.1 35.5L437.6 35L358.2 -1.2L338.4 19.4Z" fill="#febe3c"/>
<path d="M419.3 53.9L419.8 53.4L420.2 53L420.7 52.5L421.2 52L421.6 51.6L422.1 51.1L422.5 50.6L423 50.1L423.4 49.7L423.9 49.2L424.4 48.7L424.8 48.2L425.3 47.8L425.7 47.3L426.2 46.8L426.6 46.3L427.1 45.9L427.6 45.4L428 44.9L428.5 44.4L428.9 44L429.4 43.5L429.8 43L430.3 42.6L430.8 42.1L431.2 41.6L431.7 41.1L432.1 40.7L432.6 40.2L433 39.7L433.5 39.2L434 38.8L434.4 38.3L434.9 37.8L435.3 37.3L435.8 36.9L436.2 36.4L436.7 35.9L437.2 35.4L437.6 35L358.2 -1.2L340 17.8Z" fill="#fec338"/>
<path d="M420.9 52.3L421.3 51.9L421.7 51.5L422.1 51L422.5 50.6L423 50.2L423.4 49.7L423.8 49.3L424.2 48.9L424.6 48.4L425 48L425.5 47.6L425.9 47.1L426.3 46.7L426.7 46.3L427.1 45.8L427.6 45.4L428 45L428.4 44.5L428.8 44.1L429.2 43.7L429.7 43.2L430.1 42.8L430.5 42.4L430.9 41.9L431.3 41.5L431.7 41L432.2 40.6L432.6 40.2L433 39.7L433.4 39.3L433.8 38.9L434.3 38.4L434.7 38L435.1 37.6L435.5 37.1L435.9 36.7L436.4 36.3L436.8 35.8L437.2 35.4L437.6 35L358.2 -1.2L341.5 16.2Z" fill="#fec934"/>
<path d="M422.4 50.7L422.8 50.3L423.2 50L423.5 49.6L423.9 49.2L424.3 48.8L424.7 48.4L425.1 48L425.4 47.6L425.8 47.2L426.2 46.8L426.6 46.4L427 46L427.3 45.6L427.7 45.2L428.1 44.8L428.5 44.4L428.9 44L429.2 43.6L429.6 43.3L430 42.9L430.4 42.5L430.8 42.1L431.1 41.7L431.5 41.3L431.9 40.9L432.3 40.5L432.7 40.1L433 39.7L433.4 39.3L433.8 38.9L434.2 38.5L434.6 38.1L435 37.7L435.3 37.3L435.7 36.9L436.1 36.6L436.5 36.2L436.9 35.8L437.2 35.4L437.6 35L358.2 -1.2L343 14.6Z" fill="#fccf30"/>
<path d="M423.9 49.2L424.3 48.8L424.6 48.4L425 48.1L425.3 47.7L425.6 47.4L426 47L426.3 46.7L426.7 46.3L427 46L427.3 45.6L427.7 45.3L428 44.9L428.4 44.5L428.7 44.2L429.1 43.8L429.4 43.5L429.7 43.1L430.1 42.8L430.4 42.4L430.8 42.1L431.1 41.7L431.5 41.4L431.8 41L432.1 40.6L432.5 40.3L432.8 39.9L433.2 39.6L433.5 39.2L433.9 38.9L434.2 38.5L434.5 38.2L434.9 37.8L435.2 37.5L435.6 37.1L435.9 36.7L436.2 36.4L436.6 36L436.9 35.7L437.3 35.3L437.6 35L358.2 -1.2L344.6 13Z" fill="#fad62d"/>
<path d="M425.5 47.6L425.8 47.2L426.1 46.9L426.4 46.6L426.7 46.3L427 46L427.3 45.7L427.6 45.4L427.9 45L428.2 44.7L428.5 44.4L428.8 44.1L429.1 43.8L429.4 43.5L429.7 43.2L430 42.8L430.3 42.5L430.6 42.2L430.9 41.9L431.2 41.6L431.5 41.3L431.8 41L432.1 40.6L432.4 40.3L432.8 40L433.1 39.7L433.4 39.4L433.7 39.1L434 38.8L434.3 38.4L434.6 38.1L434.9 37.8L435.2 37.5L435.5 37.2L435.8 36.9L436.1 36.5L436.4 36.2L436.7 35.9L437 35.6L437.3 35.3L437.6 35L358.2 -1.2L346.1 11.4Z" fill="#f7dc2a"/>
<path d="M427 46L427.3 45.7L427.5 45.4L427.8 45.1L428.1 44.9L428.3 44.6L428.6 44.3L428.9 44L429.1 43.8L429.4 43.5L429.7 43.2L429.9 42.9L430.2 42.7L430.4 42.4L430.7 42.1L431 41.8L431.2 41.6L431.5 41.3L431.8 41L432 40.7L432.3 40.5L432.6 40.2L432.8 39.9L433.1 39.6L433.4 39.4L433.6 39.1L433.9 38.8L434.2 38.5L434.4 38.3L434.7 38L435 37.7L435.2 37.5L435.5 37.2L435.8 36.9L436 36.6L436.3 36.4L436.6 36.1L436.8 35.8L437.1 35.5L437.3 35.3L437.6 35L358.2 -1.2L347.6 9.8Z" fill="#f5e327"/>
<path d="M428.5 44.4L428.8 44.1L429 43.9L429.2 43.7L429.4 43.4L429.7 43.2L429.9 43L430.1 42.7L430.3 42.5L430.6 42.3L430.8 42L431 41.8L431.3 41.6L431.5 41.3L431.7 41.1L431.9 40.9L432.2 40.6L432.4 40.4L432.6 40.2L432.8 39.9L433.1 39.7L433.3 39.4L433.5 39.2L433.8 39L434 38.7L434.2 38.5L434.4 38.3L434.7 38L434.9 37.8L435.1 37.6L435.3 37.3L435.6 37.1L435.8 36.9L436 36.6L436.3 36.4L436.5 36.2L436.7 35.9L436.9 35.7L437.2 35.4L437.4 35.2L437.6 35L358.2 -1.2L349.2 8.2Z" fill="#f5e924"/>
<path d="M430.1 42.8L430.3 42.6L430.4 42.4L430.6 42.2L430.8 42L431 41.8L431.2 41.6L431.4 41.4L431.6 41.2L431.8 41L432 40.8L432.1 40.6L432.3 40.4L432.5 40.3L432.7 40.1L432.9 39.9L433.1 39.7L433.3 39.5L433.5 39.3L433.7 39.1L433.8 38.9L434 38.7L434.2 38.5L434.4 38.3L434.6 38.1L434.8 37.9L435 37.7L435.2 37.5L435.3 37.3L435.5 37.1L435.7 36.9L435.9 36.7L436.1 36.5L436.3 36.3L436.5 36.1L436.7 36L436.9 35.8L437 35.6L437.2 35.4L437.4 35.2L437.6 35L358.2 -1.2L350.7 6.6Z" fill="#f6ef20"/>
<path d="M431.6 41.2L431.7 41L431.9 40.9L432.1 40.7L432.2 40.6L432.4 40.4L432.5 40.3L432.7 40.1L432.8 40L433 39.8L433.1 39.6L433.3 39.5L433.4 39.3L433.6 39.2L433.7 39L433.9 38.9L434 38.7L434.2 38.6L434.3 38.4L434.5 38.2L434.6 38.1L434.8 37.9L434.9 37.8L435.1 37.6L435.2 37.5L435.4 37.3L435.5 37.2L435.7 37L435.8 36.8L436 36.7L436.1 36.5L436.3 36.4L436.4 36.2L436.6 36.1L436.7 35.9L436.9 35.8L437 35.6L437.2 35.4L437.3 35.3L437.5 35.1L437.6 35L358.2 -1.2L352.2 5.1Z" fill="#f7f51b"/>
<path d="M433.1 39.6L433.2 39.5L433.4 39.4L433.5 39.3L433.6 39.2L433.7 39L433.8 38.9L433.9 38.8L434 38.7L434.1 38.6L434.3 38.5L434.4 38.3L434.5 38.2L434.6 38.1L434.7 38L434.8 37.9L434.9 37.8L435 37.6L435.1 37.5L435.3 37.4L435.4 37.3L435.5 37.2L435.6 37.1L435.7 36.9L435.8 36.8L435.9 36.7L436 36.6L436.2 36.5L436.3 36.4L436.4 36.3L436.5 36.1L436.6 36L436.7 35.9L436.8 35.8L436.9 35.7L437.1 35.6L437.2 35.4L437.3 35.3L437.4 35.2L437.5 35.1L437.6 35L358.2 -1.2L353.8 3.5Z" fill="#f9fb15"/>
</g>
<path d="M334.2 138.7L259.4 104.6M336.2 136.7L261.3 102.6M338.1 134.6L263.3 100.5M340.1 132.6L265.2 98.5M342.1 130.6L267.2 96.5M344 128.5L269.2 94.4M346 126.5L271.1 92.4M348 124.5L273.1 90.4M349.9 122.4L275.1 88.3M351.9 120.4L277 86.3M353.9 118.4L279 84.3M355.8 116.3L281 82.2M357.8 114.3L282.9 80.2M359.8 112.3L284.9 78.2M361.7 110.2L286.8 76.1M363.7 108.2L288.8 74.1M365.6 106.2L290.8 72.1M367.6 104.1L292.7 70M369.6 102.1L294.7 68M371.5 100.1L296.7 66M373.5 98L298.6 63.9M375.5 96L300.6 61.9M377.4 94L302.6 59.9M379.4 91.9L304.5 57.8M381.4 89.9L306.5 55.8M383.3 87.9L308.5 53.8M385.3 85.8L310.4 51.7M387.2 83.8L312.4 49.7M389.2 81.8L314.3 47.6M391.2 79.7L316.3 45.6M393.1 77.7L318.3 43.6M395.1 75.7L320.2 41.5M397.1 73.6L322.2 39.5M399 71.6L324.2 37.5M401 69.5L326.1 35.4M403 67.5L328.1 33.4M404.9 65.5L330.1 31.4M406.9 63.4L332 29.3M408.9 61.4L334 27.3M410.8 59.4L335.9 25.3M412.8 57.3L337.9 23.2M414.7 55.3L339.9 21.2M416.7 53.3L341.8 19.2M418.7 51.2L343.8 17.1M420.6 49.2L345.8 15.1M422.6 47.2L347.7 13.1M424.6 45.1L349.7 11M426.5 43.1L351.7 9M428.5 41.1L353.6 7M430.5 39L355.6 4.9M432.4 37L357.5 2.9M334.2 138.7L432.4 37M332.7 138L430.9 36.3M331.2 137.3L429.4 35.6M329.6 136.6L427.8 34.9M328.1 135.9L426.3 34.2M326.6 135.2L424.8 33.5M325.1 134.5L423.3 32.8M323.5 133.8L421.7 32.1M322 133.1L420.2 31.4M320.5 132.4L418.7 30.7M318.9 131.7L417.1 30M317.4 131L415.6 29.3M315.9 130.4L414.1 28.7M314.4 129.7L412.6 28M312.8 129L411 27.3M311.3 128.3L409.5 26.6M309.8 127.6L408 25.9M308.2 126.9L406.4 25.2M306.7 126.2L404.9 24.5M305.2 125.5L403.4 23.8M303.7 124.8L401.9 23.1M302.1 124.1L400.3 22.4M300.6 123.4L398.8 21.7M299.1 122.7L397.3 21M297.6 122L395.8 20.3M296 121.3L394.2 19.6M294.5 120.6L392.7 18.9M293 119.9L391.2 18.2M291.4 119.2L389.6 17.5M289.9 118.5L388.1 16.8M288.4 117.8L386.6 16.1M286.9 117.1L385.1 15.4M285.3 116.4L383.5 14.7M283.8 115.7L382 14M282.3 115L380.5 13.3M280.7 114.3L378.9 12.6M279.2 113.6L377.4 11.9M277.7 113L375.9 11.3M276.2 112.3L374.4 10.6M274.6 111.6L372.8 9.9M273.1 110.9L371.3 9.2M271.6 110.2L369.8 8.5M270 109.5L368.2 7.8M268.5 108.8L366.7 7.1M267 108.1L365.2 6.4M265.5 107.4L363.7 5.7M263.9 106.7L362.1 5M262.4 106L360.6 4.3M260.9 105.3L359.1 3.6M259.4 104.6L357.5 2.9" stroke="#000" stroke-opacity="0.6" stroke-width="0.5" fill="none"/>
<path d="M335.8 139.4L381.9 123.7L380.4 90.9L334.2 138.7Z" fill="#4b3be6"/>
<path d="M335.8 139.4L334.2 138.7M337.7 138.7L336.2 136.7M339.7 138.1L338.1 134.6M341.6 137.4L340.1 132.6M343.6 136.7L342.1 130.6M345.6 136.1L344 128.5M347.5 135.4L346 126.5M349.5 134.7L348 124.5M351.5 134.1L349.9 122.4M353.4 133.4L351.9 120.4M355.4 132.7L353.9 118.4M357.4 132.1L355.8 116.3M359.3 131.4L357.8 114.3M361.3 130.7L359.8 112.3M363.2 130.1L361.7 110.2M365.2 129.4L363.7 108.2M367.2 128.7L365.6 106.2M369.1 128L367.6 104.1M371.1 127.4L369.6 102.1M373.1 126.7L371.5 100.1M375 126L373.5 98M377 125.4L375.5 96M379 124.7L377.4 94M380.9 124L379.4 91.9M381.9 123.7L380.4 90.9M335.8 139.4L381.9 123.7" stroke="#000" stroke-opacity="0.5" stroke-width="0.5" fill="none"/>
<g stroke="#4a4a4a" stroke-width="0.2">
<text x="340.1" y="147.8" font-size="5.2" text-anchor="start" fill="#3a3a3a">0</text>
<text x="359.8" y="142.4" font-size="5.2" text-anchor="start" fill="#3a3a3a">20</text>
<text x="379.4" y="136.3" font-size="5.2" text-anchor="start" fill="#3a3a3a">40</text>
<text x="399.1" y="130.9" font-size="5.2" text-anchor="start" fill="#3a3a3a">60</text>
<text x="418.7" y="126" font-size="5.2" text-anchor="start" fill="#3a3a3a">80</text>
<text x="438.3" y="120.6" font-size="5.2" text-anchor="start" fill="#3a3a3a">100</text>
<text x="331.4" y="146.9" font-size="5.2" text-anchor="end" fill="#3a3a3a">0</text>
<text x="293.2" y="129.2" font-size="5.2" text-anchor="end" fill="#3a3a3a">50</text>
<text x="255" y="111.6" font-size="5.2" text-anchor="end" fill="#3a3a3a">100</text>
<text x="255.4" y="105.6" font-size="5.2" text-anchor="end" fill="#3a3a3a">0</text>
<text x="255.4" y="92.2" font-size="5.2" text-anchor="end" fill="#3a3a3a">0.05</text>
<text x="255.4" y="78.9" font-size="5.2" text-anchor="end" fill="#3a3a3a">0.1</text>
<text x="255.4" y="65.5" font-size="5.2" text-anchor="end" fill="#3a3a3a">0.15</text>
<text x="255.4" y="52.1" font-size="5.2" text-anchor="end" fill="#3a3a3a">0.2</text>
<text x="255.4" y="38.8" font-size="5.2" text-anchor="end" fill="#3a3a3a">0.25</text>
</g>
<text x="379.5" y="148.8" font-size="5.8" text-anchor="middle" fill="#7a7a7a">ω</text>
<text x="296.7" y="146.6" font-size="5.8" text-anchor="middle" fill="#7a7a7a">μ</text>
<text transform="translate(238.5 67) rotate(-90)" font-size="6.4" text-anchor="middle" fill="#444" stroke="#555" stroke-width="0.15">R<tspan font-size="4.6" dy="2.9">s</tspan></text>
<path d="M120.6 335.1L44.2 300.3M140.3 329.9L63.9 295.1M159.9 324.6L83.5 289.8M179.6 319.4L103.2 284.6M199.2 314.1L122.8 279.3M62.8 323L161 296.7M24.6 305.6L122.8 279.3M199.2 314.1L199.2 238.7M161 296.7L161 221.3M122.8 279.3L122.8 203.9M199.2 295.2L122.8 260.4M199.2 276.4L122.8 241.6M199.2 257.5L122.8 222.7M199.2 238.7L122.8 203.9M44.2 300.3L44.2 224.9M63.9 295.1L63.9 219.7M83.5 289.8L83.5 214.4M103.2 284.6L103.2 209.2M122.8 279.3L122.8 203.9M24.6 286.7L122.8 260.4M24.6 267.9L122.8 241.6M24.6 249L122.8 222.7M24.6 230.2L122.8 203.9" stroke="#e3e3e3" stroke-width="0.6" fill="none"/>
<path d="M24.6 305.6L24.6 230.2" stroke="#c8c8c8" stroke-width="0.8" fill="none"/><path d="M101 340.4L199.2 314.1M101 340.4L24.6 305.6M101 340.4L103.2 341.4M120.6 335.1L122.8 336.1M140.3 329.9L142.5 330.9M159.9 324.6L162.1 325.6M179.6 319.4L181.7 320.4M199.2 314.1L201.4 315.1M101 340.4L98.7 341M62.8 323L60.5 323.6M24.6 305.6L22.3 306.2M24.6 305.6L22.4 304.6M24.6 286.7L22.4 285.8M24.6 267.9L22.4 266.9M24.6 249L22.4 248.1M24.6 230.2L22.4 229.2" stroke="#666" stroke-width="0.55" fill="none"/>
<path d="M199.2 314.1L197.7 313.3L197.7 313.3L196.1 312.6L196.1 312.6L194.6 311.8L194.6 311.8L193.1 311L193.1 311L191.6 310.3L191.6 310.3L190 309.5L190 309.5L188.5 308.7L188.5 308.7L187 307.9L187 307.9L185.4 307.2L185.4 307.2L183.9 306.4L183.9 306.4L182.4 305.6L182.4 305.6L180.9 304.9L180.9 304.9L179.3 304.1L179.3 304.1L177.8 303.3L177.8 303.3L176.3 302.6L176.3 302.6L174.8 301.8L174.8 301.8L173.2 301L173.2 301L171.7 300.3L171.7 300.3L170.2 299.5L170.2 299.5L168.6 298.7L168.6 298.7L167.1 298L167.1 298L165.6 297.2L165.6 297.2L164.1 296.4L164.1 296.4L162.5 295.6L162.5 295.6L161 294.9L161 294.9L159.5 294.1L159.5 294.1L157.9 293.3L157.9 293.3L156.4 292.6L156.4 292.6L154.9 291.8L154.9 291.8L153.4 291L153.4 291L151.8 290.3L151.8 290.3L150.3 289.5L150.3 289.5L148.8 288.7L148.8 288.7L147.2 288L147.2 288L145.7 287.2L145.7 287.2L144.2 286.4L144.2 286.4L142.7 285.6L142.7 285.6L141.1 284.9L141.1 284.9L139.6 284.1L139.6 284.1L138.1 283.3L138.1 283.3L136.6 282.6L136.6 282.6L135 281.8L135 281.8L133.5 281L133.5 281L132 280.3L132 280.3L130.4 279.5L130.4 279.5L128.9 278.7L128.9 278.7L127.4 278L127.4 278L125.9 277.2L125.9 277.2L124.3 276.4L124.3 276.4L122.8 275.7L58 285.9L59.5 286.9L57.6 286.7L59.1 287.7L59.1 287.7L60.6 288.6L60.6 288.6L62.1 289.5L60.2 289.3L61.7 290.3L61.7 290.3L63.2 291.2L63.2 291.2L64.8 292.1L62.8 291.9L64.3 292.9L64.3 292.9L65.8 293.8L65.8 293.8L67.4 294.8L65.4 294.5L66.9 295.5L66.9 295.5L68.5 296.5L68.5 296.5L70 297.5L68 297.1L69.6 298.1L69.6 298.1L71.1 299.1L71.1 299.1L72.6 300.1L70.7 299.7L72.2 300.7L72.2 300.7L73.7 301.8L73.7 301.8L75.2 302.8L73.3 302.3L74.8 303.4L74.8 303.4L76.3 304.4L76.3 304.4L77.9 305.5L75.9 304.9L77.4 306L77.4 306L78.9 307.1L78.9 307.1L80.5 308.2L80.5 308.2L82 309.3L80 308.6L81.6 309.7L81.6 309.7L83.1 310.9L83.1 310.9L84.6 312L82.7 311.2L84.2 312.4L84.2 312.4L85.7 313.6L85.7 313.6L87.2 314.9L85.3 313.8L86.8 315.1L86.8 315.1L88.3 316.4L88.3 316.4L89.9 317.7L87.9 316.5L89.4 317.9L89.4 317.9L91 319.3L91 319.3L92.5 320.7L90.5 319.1L92 320.7L92 320.7L93.6 322.3L93.6 322.3L95.1 323.9L93.1 322.2L94.7 324L94.7 324L96.2 325.9L94.2 323.6L95.8 325.9L95.8 325.9L97.3 328.1L97.3 328.1L98.8 330.4L96.9 327.9L98.4 330.9L98.4 330.9L99.9 333.9L99.9 333.9L101.4 336.9L101.4 336.9L103 339.9Z" fill="#422ec0" stroke="#422ec0" stroke-width="0.3"/>
<path d="M103 339.9L112.8 337.2L122.6 334.6L132.4 332L142.2 329.4L152.1 326.7L161.9 324.1L171.7 321.5L181.5 318.8L191.3 316.2L199.2 314.1M101.4 336.9L111.3 335.9L121.1 333.6L130.9 331.1L140.7 328.5L150.5 325.9L160.4 323.3L170.2 320.7L180 318L189.8 315.4L197.7 313.3M99.9 333.9L109.7 334.6L119.5 332.6L129.4 330.1L139.2 327.6L149 325.1L158.8 322.5L168.6 319.9L178.5 317.3L188.3 314.7L196.1 312.6M98.4 330.9L108.2 333.3L118 331.5L127.8 329.2L137.7 326.7L147.5 324.2L157.3 321.7L167.1 319.1L176.9 316.5L186.8 313.9L194.6 311.8M96.9 327.9L106.7 332L116.5 330.5L126.3 328.3L136.1 325.9L146 323.4L155.8 320.8L165.6 318.3L175.4 315.7L185.2 313.1L193.1 311M97.3 328.1L107.1 330.6L116.9 329.1L126.7 326.9L136.6 324.5L146.4 322L156.2 319.5L166 317L175.8 314.4L185.7 311.8L191.6 310.3M95.8 325.9L105.6 329.4L115.4 328.1L125.2 326L135 323.7L144.9 321.2L154.7 318.7L164.5 316.2L174.3 313.6L184.1 311L190 309.5M94.2 323.6L104.1 328.2L113.9 327.1L123.7 325.1L133.5 322.8L143.3 320.4L153.2 317.9L163 315.4L172.8 312.8L182.6 310.3L188.5 308.7M94.7 324L104.5 327L114.3 325.8L124.1 323.7L133.9 321.5L143.8 319.1L153.6 316.6L163.4 314.1L173.2 311.5L183 309L187 307.9M93.1 322.2L103 325.8L112.8 324.8L122.6 322.8L132.4 320.6L142.2 318.2L152.1 315.8L161.9 313.3L171.7 310.8L181.5 308.2L185.4 307.2M93.6 322.3L103.4 324.7L113.2 323.5L123 321.5L132.9 319.3L142.7 316.9L152.5 314.5L162.3 312L172.1 309.5L182 306.9L183.9 306.4M92 320.7L101.9 323.6L111.7 322.5L121.5 320.6L131.3 318.5L141.1 316.1L151 313.7L160.8 311.2L170.6 308.7L180.4 306.2L182.4 305.6M90.5 319.1L100.3 322.5L110.2 321.6L120 319.8L129.8 317.6L139.6 315.3L149.4 312.9L159.3 310.4L169.1 307.9L178.9 305.4L180.9 304.9M91 319.3L100.8 321.4L110.6 320.3L120.4 318.5L130.2 316.3L140.1 314L149.9 311.6L159.7 309.1L169.5 306.6L179.3 304.1M89.4 317.9L99.2 320.3L109.1 319.4L118.9 317.6L128.7 315.5L138.5 313.2L148.3 310.8L158.2 308.3L168 305.9L177.8 303.3M87.9 316.5L97.7 319.2L107.5 318.4L117.4 316.7L127.2 314.6L137 312.4L146.8 310L156.6 307.6L166.5 305.1L176.3 302.6M88.3 316.4L98.2 318.2L108 317.2L117.8 315.4L127.6 313.3L137.4 311.1L147.3 308.7L157.1 306.3L166.9 303.8L174.8 301.8M86.8 315.1L96.6 317.2L106.4 316.3L116.3 314.6L126.1 312.5L135.9 310.3L145.7 307.9L155.5 305.5L165.4 303L173.2 301M85.3 313.8L95.1 316.1L104.9 315.4L114.7 313.7L124.6 311.7L134.4 309.4L144.2 307.1L154 304.7L163.8 302.2L171.7 300.3M85.7 313.6L95.5 315.1L105.4 314.2L115.2 312.5L125 310.4L134.8 308.2L144.6 305.8L154.5 303.4L164.3 301L170.2 299.5M84.2 312.4L94 314.1L103.8 313.3L113.6 311.6L123.5 309.6L133.3 307.4L143.1 305L152.9 302.7L162.7 300.2L168.6 298.7M82.7 311.2L92.5 313.1L102.3 312.3L112.1 310.7L121.9 308.7L131.8 306.6L141.6 304.3L151.4 301.9L161.2 299.4L167.1 298M83.1 310.9L92.9 312.1L102.7 311.2L112.6 309.5L122.4 307.5L132.2 305.3L142 303L151.8 300.6L161.7 298.2L165.6 297.2M81.6 309.7L91.4 311.1L101.2 310.3L111 308.7L120.8 306.7L130.7 304.5L140.5 302.2L150.3 299.8L160.1 297.4L164.1 296.4M80 308.6L89.9 310.1L99.7 309.4L109.5 307.8L119.3 305.8L129.1 303.7L139 301.4L148.8 299L158.6 296.6L162.5 295.6M80.5 308.2L90.3 309.1L100.1 308.2L109.9 306.6L119.8 304.6L129.6 302.4L139.4 300.1L149.2 297.8L159 295.4L161 294.9M78.9 307.1L88.8 308.2L98.6 307.3L108.4 305.7L118.2 303.8L128 301.6L137.9 299.4L147.7 297L157.5 294.6L159.5 294.1M77.4 306L87.2 307.2L97.1 306.4L106.9 304.9L116.7 303L126.5 300.8L136.3 298.6L146.2 296.2L156 293.8L157.9 293.3M75.9 304.9L85.7 306.3L95.5 305.6L105.4 304L115.2 302.1L125 300L134.8 297.8L144.6 295.4L154.5 293.1L156.4 292.6M76.3 304.4L86.1 305.3L96 304.4L105.8 302.8L115.6 300.9L125.4 298.8L135.2 296.5L145.1 294.2L154.9 291.8M74.8 303.4L84.6 304.4L94.4 303.5L104.3 302L114.1 300.1L123.9 298L133.7 295.7L143.5 293.4L153.4 291M73.3 302.3L83.1 303.4L92.9 302.7L102.7 301.2L112.6 299.3L122.4 297.2L132.2 295L142 292.6L151.8 290.3M73.7 301.8L83.5 302.4L93.3 301.5L103.2 300L113 298.1L122.8 296L132.6 293.7L142.4 291.4L150.3 289.5M72.2 300.7L82 301.5L91.8 300.7L101.6 299.1L111.5 297.2L121.3 295.2L131.1 292.9L140.9 290.6L148.8 288.7M70.7 299.7L80.5 300.6L90.3 299.8L100.1 298.3L109.9 296.4L119.8 294.4L129.6 292.1L139.4 289.8L147.2 288M71.1 299.1L80.9 299.6L90.7 298.7L100.5 297.1L110.4 295.2L120.2 293.1L130 290.9L139.8 288.6L145.7 287.2M69.6 298.1L79.4 298.7L89.2 297.8L99 296.3L108.8 294.4L118.7 292.3L128.5 290.1L138.3 287.8L144.2 286.4M68 297.1L77.9 297.8L87.7 296.9L97.5 295.5L107.3 293.6L117.1 291.5L127 289.3L136.8 287.1L142.7 285.6M68.5 296.5L78.3 296.8L88.1 295.8L97.9 294.3L107.7 292.4L117.6 290.3L127.4 288.1L137.2 285.8L141.1 284.9M66.9 295.5L76.8 295.9L86.6 295L96.4 293.5L106.2 291.6L116 289.5L125.9 287.3L135.7 285L139.6 284.1M65.4 294.5L75.2 295L85.1 294.1L94.9 292.6L104.7 290.8L114.5 288.7L124.3 286.6L134.2 284.3L138.1 283.3M65.8 293.8L75.7 294L85.5 293L95.3 291.5L105.1 289.6L114.9 287.5L124.8 285.3L134.6 283L136.6 282.6M64.3 292.9L74.1 293.1L84 292.2L93.8 290.6L103.6 288.8L113.4 286.7L123.2 284.5L133.1 282.3L135 281.8M62.8 291.9L72.6 292.2L82.4 291.3L92.3 289.8L102.1 288L111.9 285.9L121.7 283.8L131.5 281.5L133.5 281M63.2 291.2L73 291.2L82.9 290.2L92.7 288.7L102.5 286.8L112.3 284.7L122.1 282.5L132 280.3M61.7 290.3L71.5 290.4L81.3 289.4L91.2 287.8L101 286L110.8 283.9L120.6 281.8L130.4 279.5M60.2 289.3L70 289.5L79.8 288.5L89.6 287L99.5 285.2L109.3 283.2L119.1 281L128.9 278.7M60.6 288.6L70.4 288.5L80.2 287.4L90.1 285.9L99.9 284L109.7 281.9L119.5 279.8L127.4 278M59.1 287.7L68.9 287.6L78.7 286.6L88.5 285L98.4 283.2L108.2 281.2L118 279L125.9 277.2M57.6 286.7L67.4 286.8L77.2 285.8L87 284.2L96.8 282.4L106.7 280.4L116.5 278.2L124.3 276.4M58 285.9L67.8 285.7L77.6 284.6L87.4 283.1L97.3 281.2L107.1 279.2L116.9 277L122.8 275.7M103 339.9L96.9 327.9M104.9 339.3L97.3 328.1L94.2 323.6M106.9 338.8L99.3 329.6L93.1 322.2M108.9 338.3L101.2 330.3L93.6 322.3L90.5 319.1M110.8 337.8L103.2 330.7L95.5 323.6L87.9 316.5M112.8 337.2L105.1 330.7L97.5 324.2L89.9 317.7L85.3 313.8M114.7 336.7L107.1 330.6L99.5 324.6L91.8 318.5L84.2 312.4L82.7 311.2M116.7 336.2L109.1 330.4L101.4 324.7L93.8 318.9L86.2 313.2L80 308.6M118.7 335.7L111 330.2L103.4 324.7L95.8 319.2L88.1 313.7L80.5 308.2L75.9 304.9M120.6 335.1L113 329.8L105.4 324.5L97.7 319.2L90.1 314L82.4 308.7L74.8 303.4L73.3 302.3M122.6 334.6L115 329.5L107.3 324.3L99.7 319.2L92 314.1L84.4 309L76.8 303.8L70.7 299.7M124.6 334.1L116.9 329.1L109.3 324.1L101.6 319.1L94 314.1L86.4 309.1L78.7 304.1L71.1 299.1L68 297.1M126.5 333.6L118.9 328.7L111.3 323.8L103.6 318.9L96 314L88.3 309.2L80.7 304.3L73.1 299.4L65.4 294.5M128.5 333L120.9 328.3L113.2 323.5L105.6 318.7L97.9 313.9L90.3 309.1L82.7 304.4L75 299.6L67.4 294.8L62.8 291.9M130.5 332.5L122.8 327.8L115.2 323.1L107.5 318.4L99.9 313.7L92.3 309L84.6 304.4L77 299.7L69.3 295L61.7 290.3L60.2 289.3M132.4 332L124.8 327.4L117.1 322.7L109.5 318.1L101.9 313.5L94.2 308.9L86.6 304.3L78.9 299.7L71.3 295L63.7 290.4L57.6 286.7M134.4 331.5L126.7 326.9L119.1 322.4L111.5 317.8L103.8 313.3L96.2 308.7L88.5 304.2L80.9 299.6L73.3 295.1L65.6 290.5L58 285.9M136.4 330.9L128.7 326.4L121.1 321.9L113.4 317.5L105.8 313L98.2 308.5L90.5 304L82.9 299.5L75.2 295L67.6 290.5L60 286M138.3 330.4L130.7 326L123 321.5L115.4 317.1L107.8 312.7L100.1 308.2L92.5 303.8L84.8 299.3L77.2 294.9L69.6 290.5L61.9 286M140.3 329.9L132.6 325.5L125 321.1L117.4 316.7L109.7 312.3L102.1 307.9L94.4 303.5L86.8 299.1L79.2 294.8L71.5 290.4L63.9 286M142.2 329.4L134.6 325L127 320.7L119.3 316.3L111.7 312L104 307.6L96.4 303.3L88.8 298.9L81.1 294.6L73.5 290.2L65.8 285.9M144.2 328.8L136.6 324.5L128.9 320.2L121.3 315.9L113.6 311.6L106 307.3L98.4 303L90.7 298.7L83.1 294.4L75.4 290.1L67.8 285.7M146.2 328.3L138.5 324L130.9 319.8L123.3 315.5L115.6 311.2L108 306.9L100.3 302.7L92.7 298.4L85.1 294.1L77.4 289.9L69.8 285.6M148.1 327.8L140.5 323.5L132.9 319.3L125.2 315.1L117.6 310.8L109.9 306.6L102.3 302.3L94.7 298.1L87 293.9L79.4 289.6L71.7 285.4M150.1 327.2L142.5 323L134.8 318.8L127.2 314.6L119.5 310.4L111.9 306.2L104.3 302L96.6 297.8L89 293.6L81.3 289.4L73.7 285.2M152.1 326.7L144.4 322.5L136.8 318.4L129.1 314.2L121.5 310L113.9 305.8L106.2 301.6L98.6 297.5L90.9 293.3L83.3 289.1L75.7 284.9M154 326.2L146.4 322L138.7 317.9L131.1 313.7L123.5 309.6L115.8 305.4L108.2 301.3L100.5 297.1L92.9 293L85.3 288.8L77.6 284.6M156 325.7L148.4 321.5L140.7 317.4L133.1 313.3L125.4 309.1L117.8 305L110.2 300.9L102.5 296.8L94.9 292.6L87.2 288.5L79.6 284.4M158 325.1L150.3 321L142.7 316.9L135 312.8L127.4 308.7L119.8 304.6L112.1 300.5L104.5 296.4L96.8 292.3L89.2 288.2L81.6 284.1M159.9 324.6L152.3 320.5L144.6 316.4L137 312.4L129.4 308.3L121.7 304.2L114.1 300.1L106.4 296L98.8 291.9L91.2 287.8L83.5 283.7M161.9 324.1L154.2 320L146.6 316L139 311.9L131.3 307.8L123.7 303.8L116 299.7L108.4 295.6L100.8 291.6L93.1 287.5L85.5 283.4M163.8 323.6L156.2 319.5L148.6 315.5L140.9 311.4L133.3 307.4L125.6 303.3L118 299.3L110.4 295.2L102.7 291.2L95.1 287.1L87.4 283.1M165.8 323L158.2 319L150.5 315L142.9 310.9L135.3 306.9L127.6 302.9L120 298.8L112.3 294.8L104.7 290.8L97.1 286.8L89.4 282.7M167.8 322.5L160.1 318.5L152.5 314.5L144.9 310.5L137.2 306.5L129.6 302.4L121.9 298.4L114.3 294.4L106.7 290.4L99 286.4L91.4 282.4M169.7 322L162.1 318L154.5 314L146.8 310L139.2 306L131.5 302L123.9 298L116.3 294L108.6 290L101 286L93.3 282M171.7 321.5L164.1 317.5L156.4 313.5L148.8 309.5L141.1 305.5L133.5 301.5L125.9 297.5L118.2 293.6L110.6 289.6L102.9 285.6L95.3 281.6M173.7 320.9L166 317L158.4 313L150.7 309L143.1 305L135.5 301.1L127.8 297.1L120.2 293.1L112.5 289.2L104.9 285.2L97.3 281.2M175.6 320.4L168 316.5L160.4 312.5L152.7 308.5L145.1 304.6L137.4 300.6L129.8 296.7L122.2 292.7L114.5 288.7L106.9 284.8L99.2 280.8M177.6 319.9L170 315.9L162.3 312L154.7 308L147 304.1L139.4 300.1L131.8 296.2L124.1 292.3L116.5 288.3L108.8 284.4L101.2 280.4M179.6 319.4L171.9 315.4L164.3 311.5L156.6 307.6L149 303.6L141.4 299.7L133.7 295.7L126.1 291.8L118.4 287.9L110.8 283.9L103.2 280M181.5 318.8L173.9 314.9L166.2 311L158.6 307.1L151 303.1L143.3 299.2L135.7 295.3L128 291.4L120.4 287.4L112.8 283.5L105.1 279.6M183.5 318.3L175.8 314.4L168.2 310.5L160.6 306.6L152.9 302.7L145.3 298.7L137.6 294.8L130 290.9L122.4 287L114.7 283.1L107.1 279.2M185.5 317.8L177.8 313.9L170.2 310L162.5 306.1L154.9 302.2L147.3 298.3L139.6 294.4L132 290.5L124.3 286.6L116.7 282.6L109.1 278.7M187.4 317.3L179.8 313.4L172.1 309.5L164.5 305.6L156.9 301.7L149.2 297.8L141.6 293.9L133.9 290L126.3 286.1L118.7 282.2L111 278.3M189.4 316.7L181.7 312.8L174.1 309L166.5 305.1L158.8 301.2L151.2 297.3L143.5 293.4L135.9 289.5L128.3 285.6L120.6 281.8L113 277.9M191.3 316.2L183.7 312.3L176.1 308.5L168.4 304.6L160.8 300.7L153.1 296.8L145.5 292.9L137.9 289.1L130.2 285.2L122.6 281.3L114.9 277.4M193.3 315.7L185.7 311.8L178 307.9L170.4 304.1L162.7 300.2L155.1 296.3L147.5 292.5L139.8 288.6L132.2 284.7L124.5 280.9L116.9 277M195.3 315.2L187.6 311.3L180 307.4L172.4 303.6L164.7 299.7L157.1 295.9L149.4 292L141.8 288.1L134.2 284.3L126.5 280.4L118.9 276.6M197.2 314.6L189.6 310.8L182 306.9L174.3 303.1L166.7 299.2L159 295.4L151.4 291.5L143.8 287.7L136.1 283.8L128.5 280L120.8 276.1M199.2 314.1L191.6 310.3L183.9 306.4L176.3 302.6L168.6 298.7L161 294.9L153.4 291L145.7 287.2L138.1 283.3L130.4 279.5L122.8 275.7" fill="none" stroke="#000" stroke-opacity="0.6" stroke-width="0.45"/>
<g stroke="#000" stroke-opacity="0.6" stroke-width="0.45" stroke-linejoin="round"><path d="M57.6 286.7l1.9 .2-1.5-1-2-.1z" fill="#4852f4"/><path d="M55.6 286.5l2 .2-1.6-.9-1.9-.2zM57.1 287.5l2 .2-1.5-1-2-.2z" fill="#4758f8"/><path d="M53.6 286.2l2 .3-1.5-.9-2-.4z" fill="#465efb"/><path d="M58.6 288.4l2 .2-1.5-.9-2-.2z" fill="#4852f4"/><path d="M55.2 287.2l1.9 .3-1.5-1-2-.3z" fill="#4758f8"/><path d="M51.7 285.7l1.9 .5-1.5-1-2-.4z" fill="#465efb"/><path d="M60.2 289.3l1.9 .2-1.5-.9-2-.2z" fill="#4852f4"/><path d="M56.7 288.1l1.9 .3-1.5-.9-1.9-.3z" fill="#4758f8"/><path d="M53.2 286.7l2 .5-1.6-1-1.9-.5z" fill="#465efb"/><path d="M49.7 285.1l2 .6-1.6-.9-1.9-.7z" fill="#4563fd"/><path d="M58.2 289.1l2 .2-1.6-.9-1.9-.3z" fill="#4758f8"/><path d="M54.7 287.7l2 .4-1.5-.9-2-.5z" fill="#465efb"/><path d="M51.2 286.1l2 .6-1.5-1-2-.6z" fill="#4563fd"/><path d="M59.7 290l2 .3-1.5-1-2-.2z" fill="#4758f8"/><path d="M56.2 288.7l2 .4-1.5-1-2-.4z" fill="#465efb"/><path d="M47.7 284.3l2 .8-1.5-1-2-.8z" fill="#3e6fff"/><path d="M52.8 287.1l1.9 .6-1.5-1-2-.6z" fill="#4563fd"/><path d="M61.3 291l1.9 .2-1.5-.9-2-.3z" fill="#4852f4"/><path d="M57.8 289.6l1.9 .4-1.5-.9-2-.4z" fill="#4758f8"/><path d="M49.3 285.3l1.9 .8-1.5-1-2-.8z" fill="#4269fe"/><path d="M54.3 288.1l1.9 .6-1.5-1-1.9-.6z" fill="#4563fd"/><path d="M62.8 291.9l2 .2-1.6-.9-1.9-.2z" fill="#4852f4"/><path d="M45.8 283.2l1.9 1.1-1.5-1-2-1.1z" fill="#3875fe"/><path d="M59.3 290.6l2 .4-1.6-1-1.9-.4z" fill="#4758f8"/><path d="M50.8 286.4l2 .7-1.6-1-1.9-.8z" fill="#4269fe"/><path d="M55.8 289.1l2 .5-1.6-.9-1.9-.6z" fill="#465efb"/><path d="M47.3 284.3l2 1-1.6-1-1.9-1.1z" fill="#3875fe"/><path d="M60.8 291.6l2 .3-1.5-.9-2-.4z" fill="#4758f8"/><path d="M52.3 287.4l2 .7-1.5-1-2-.7z" fill="#4269fe"/><path d="M57.3 290.1l2 .5-1.5-1-2-.5z" fill="#465efb"/><path d="M43.8 281.8l2 1.4-1.6-1-1.9-1.5z" fill="#2f81fa"/><path d="M48.8 285.3l2 1.1-1.5-1.1-2-1z" fill="#3e6fff"/><path d="M53.8 288.4l2 .7-1.5-1-2-.7z" fill="#4563fd"/><path d="M62.4 292.6l1.9 .3-1.5-1-2-.3z" fill="#4758f8"/><path d="M58.9 291.1l1.9 .5-1.5-1-2-.5z" fill="#465efb"/><path d="M45.3 282.9l2 1.4-1.5-1.1-2-1.4z" fill="#327cfc"/><path d="M50.4 286.4l1.9 1-1.5-1-2-1.1z" fill="#3e6fff"/><path d="M55.4 289.4l1.9 .7-1.5-1-2-.7z" fill="#4563fd"/><path d="M63.9 293.6l1.9 .2-1.5-.9-1.9-.3z" fill="#4852f4"/><path d="M60.4 292.1l2 .5-1.6-1-1.9-.5z" fill="#465efb"/><path d="M46.9 284l1.9 1.3-1.5-1-2-1.4z" fill="#327cfc"/><path d="M51.9 287.5l1.9 .9-1.5-1-1.9-1z" fill="#3e6fff"/><path d="M41.8 279.8l2 2-1.5-1.1-2-2z" fill="#2d8cf3"/><path d="M56.9 290.5l2 .6-1.6-1-1.9-.7z" fill="#4563fd"/><path d="M65.4 294.5l2 .3-1.6-1-1.9-.2z" fill="#4852f4"/><path d="M61.9 293.1l2 .5-1.5-1-2-.5z" fill="#4758f8"/><path d="M48.4 285.1l2 1.3-1.6-1.1-1.9-1.3z" fill="#327cfc"/><path d="M53.4 288.5l2 .9-1.6-1-1.9-.9z" fill="#4269fe"/><path d="M43.4 281l1.9 1.9-1.5-1.1-2-2z" fill="#2e87f7"/><path d="M58.4 291.5l2 .6-1.5-1-2-.6z" fill="#4563fd"/><path d="M63.4 294.1l2 .4-1.5-.9-2-.5z" fill="#4758f8"/><path d="M49.9 286.2l2 1.3-1.5-1.1-2-1.3z" fill="#3875fe"/><path d="M54.9 289.6l2 .9-1.5-1.1-2-.9z" fill="#4269fe"/><path d="M44.9 282.1l2 1.9-1.6-1.1-1.9-1.9z" fill="#2e87f7"/><path d="M60 292.5l1.9 .6-1.5-1-2-.6z" fill="#465efb"/><path d="M39.9 277.2l1.9 2.6-1.5-1.1-2-2.7z" fill="#259be8"/><path d="M65 295.1l1.9 .4-1.5-1-2-.4z" fill="#4758f8"/><path d="M51.4 287.3l2 1.2-1.5-1-2-1.3z" fill="#3875fe"/><path d="M56.5 290.6l1.9 .9-1.5-1-2-.9z" fill="#4269fe"/><path d="M46.4 283.3l2 1.8-1.5-1.1-2-1.9z" fill="#2e87f7"/><path d="M61.5 293.6l1.9 .5-1.5-1-1.9-.6z" fill="#465efb"/><path d="M41.4 278.4l2 2.6-1.6-1.2-1.9-2.6z" fill="#2797eb"/><path d="M53 288.4l1.9 1.2-1.5-1.1-2-1.2z" fill="#3875fe"/><path d="M66.5 296.1l2 .4-1.6-1-1.9-.4z" fill="#4758f8"/><path d="M58 291.7l2 .8-1.6-1-1.9-.9z" fill="#4563fd"/><path d="M48 284.4l1.9 1.8-1.5-1.1-2-1.8z" fill="#2f81fa"/><path d="M63 294.6l2 .5-1.6-1-1.9-.5z" fill="#465efb"/><path d="M42.9 279.6l2 2.5-1.5-1.1-2-2.6z" fill="#2797eb"/><path d="M54.5 289.5l2 1.1-1.6-1-1.9-1.2z" fill="#3e6fff"/><path d="M68 297.1l2 .4-1.5-1-2-.4z" fill="#4852f4"/><path d="M49.5 285.6l1.9 1.7-1.5-1.1-1.9-1.8z" fill="#2f81fa"/><path d="M59.5 292.8l2 .8-1.5-1.1-2-.8z" fill="#4563fd"/><path d="M64.5 295.6l2 .5-1.5-1-2-.5z" fill="#4758f8"/><path d="M44.5 280.9l1.9 2.4-1.5-1.2-2-2.5z" fill="#2b91ef"/><path d="M56 290.6l2 1.1-1.5-1.1-2-1.1z" fill="#3e6fff"/><path d="M37.9 273.5l2 3.7-1.6-1.2-1.9-3.8z" fill="#1ca9df"/><path d="M51 286.7l2 1.7-1.6-1.1-1.9-1.7z" fill="#327cfc"/><path d="M61 293.8l2 .8-1.5-1-2-.8z" fill="#4563fd"/><path d="M66.1 296.6l1.9 .5-1.5-1-2-.5z" fill="#4758f8"/><path d="M46 282.1l2 2.3-1.6-1.1-1.9-2.4z" fill="#2b91ef"/><path d="M57.6 291.7l1.9 1.1-1.5-1.1-2-1.1z" fill="#3e6fff"/><path d="M39.4 274.8l2 3.6-1.5-1.2-2-3.7z" fill="#1ca9df"/><path d="M52.5 287.9l2 1.6-1.5-1.1-2-1.7z" fill="#327cfc"/><path d="M62.6 294.9l1.9 .7-1.5-1-2-.8z" fill="#4563fd"/><path d="M47.5 283.3l2 2.3-1.5-1.2-2-2.3z" fill="#2d8cf3"/><path d="M67.6 297.7l2 .4-1.6-1-1.9-.5z" fill="#4758f8"/><path d="M41 276.1l1.9 3.5-1.5-1.2-2-3.6z" fill="#20a5e3"/><path d="M59.1 292.8l1.9 1-1.5-1-1.9-1.1z" fill="#4269fe"/><path d="M54.1 289l1.9 1.6-1.5-1.1-2-1.6z" fill="#327cfc"/><path d="M64.1 295.9l2 .7-1.6-1-1.9-.7z" fill="#465efb"/><path d="M49 284.5l2 2.2-1.5-1.1-2-2.3z" fill="#2d8cf3"/><path d="M69.1 298.7l2 .4-1.5-1-2-.4z" fill="#4758f8"/><path d="M42.5 277.4l2 3.5-1.6-1.3-1.9-3.5z" fill="#20a5e3"/><path d="M60.6 293.9l2 1-1.6-1.1-1.9-1z" fill="#4269fe"/><path d="M55.6 290.2l2 1.5-1.6-1.1-1.9-1.6z" fill="#3875fe"/><path d="M65.6 297l2 .7-1.5-1.1-2-.7z" fill="#465efb"/><path d="M50.6 285.7l1.9 2.2-1.5-1.2-2-2.2z" fill="#2e87f7"/><path d="M44 278.7l2 3.4-1.5-1.2-2-3.5z" fill="#23a0e5"/><path d="M70.7 299.7l1.9 .4-1.5-1-2-.4z" fill="#4852f4"/><path d="M62.1 295l2 .9-1.5-1-2-1z" fill="#4269fe"/><path d="M57.1 291.3l2 1.5-1.5-1.1-2-1.5z" fill="#3875fe"/><path d="M35.9 268.2l2 5.3-1.5-1.3-2-5.4z" fill="#02bac3"/><path d="M67.2 298.1l1.9 .6-1.5-1-2-.7z" fill="#465efb"/><path d="M52.1 286.9l2 2.1-1.6-1.1-1.9-2.2z" fill="#2e87f7"/><path d="M45.6 280l1.9 3.3-1.5-1.2-2-3.4z" fill="#23a0e5"/><path d="M37.5 269.6l1.9 5.2-1.5-1.3-2-5.3z" fill="#02bac3"/><path d="M58.6 292.5l2 1.4-1.5-1.1-2-1.5z" fill="#3875fe"/><path d="M63.7 296.1l1.9 .9-1.5-1.1-2-.9z" fill="#4563fd"/><path d="M68.7 299.1l2 .6-1.6-1-1.9-.6z" fill="#4758f8"/><path d="M53.6 288.1l2 2.1-1.5-1.2-2-2.1z" fill="#2e87f7"/><path d="M47.1 281.3l1.9 3.2-1.5-1.2-1.9-3.3z" fill="#259be8"/><path d="M39 271l2 5.1-1.6-1.3-1.9-5.2z" fill="#01b8ca"/><path d="M60.2 293.6l1.9 1.4-1.5-1.1-2-1.4z" fill="#3e6fff"/><path d="M65.2 297.2l2 .9-1.6-1.1-1.9-.9z" fill="#4563fd"/><path d="M70.2 300.2l2 .5-1.5-1-2-.6z" fill="#4758f8"/><path d="M55.2 289.4l1.9 1.9-1.5-1.1-2-2.1z" fill="#2f81fa"/><path d="M48.6 282.6l2 3.1-1.6-1.2-1.9-3.2z" fill="#259be8"/><path d="M40.5 272.4l2 5-1.5-1.3-2-5.1z" fill="#08b5d0"/><path d="M61.7 294.8l2 1.3-1.6-1.1-1.9-1.4z" fill="#3e6fff"/><path d="M66.7 298.3l2 .8-1.5-1-2-.9z" fill="#465efb"/><path d="M50.1 283.9l2 3-1.5-1.2-2-3.1z" fill="#2797eb"/><path d="M56.7 290.6l1.9 1.9-1.5-1.2-1.9-1.9z" fill="#2f81fa"/><path d="M71.7 301.2l2 .6-1.5-1.1-2-.5z" fill="#4758f8"/><path d="M42.1 273.9l1.9 4.8-1.5-1.3-2-5z" fill="#08b5d0"/><path d="M63.2 295.9l2 1.3-1.5-1.1-2-1.3z" fill="#4269fe"/><path d="M68.3 299.4l1.9 .8-1.5-1.1-2-.8z" fill="#465efb"/><path d="M51.7 285.2l1.9 2.9-1.5-1.2-2-3z" fill="#2797eb"/><path d="M58.2 291.8l2 1.8-1.6-1.1-1.9-1.9z" fill="#327cfc"/><path d="M43.6 275.3l2 4.7-1.6-1.3-1.9-4.8z" fill="#12b1d6"/><path d="M73.3 302.3l1.9 .5-1.5-1-2-.6z" fill="#4852f4"/><path d="M64.8 297.1l1.9 1.2-1.5-1.1-2-1.3z" fill="#4269fe"/><path d="M69.8 300.5l1.9 .7-1.5-1-1.9-.8z" fill="#465efb"/><path d="M53.2 286.5l2 2.9-1.6-1.3-1.9-2.9z" fill="#2b91ef"/><path d="M45.1 276.7l2 4.6-1.5-1.3-2-4.7z" fill="#12b1d6"/><path d="M59.7 293l2 1.8-1.5-1.2-2-1.8z" fill="#327cfc"/><path d="M34 259.9l1.9 8.3-1.5-1.4-1.9-8.5z" fill="#4acb84"/><path d="M66.3 298.2l2 1.2-1.6-1.1-1.9-1.2z" fill="#4269fe"/><path d="M46.6 278.1l2 4.5-1.5-1.3-2-4.6z" fill="#18addb"/><path d="M54.7 287.8l2 2.8-1.5-1.2-2-2.9z" fill="#2b91ef"/><path d="M71.3 301.6l2 .7-1.6-1.1-1.9-.7z" fill="#4758f8"/><path d="M61.3 294.2l1.9 1.7-1.5-1.1-2-1.8z" fill="#3875fe"/><path d="M35.5 261.5l2 8.1-1.6-1.4-1.9-8.3z" fill="#3fca8e"/><path d="M48.2 279.5l1.9 4.4-1.5-1.3-2-4.5z" fill="#1ca9df"/><path d="M67.8 299.4l2 1.1-1.5-1.1-2-1.2z" fill="#4563fd"/><path d="M56.2 289.1l2 2.7-1.5-1.2-2-2.8z" fill="#2d8cf3"/><path d="M37 263.1l2 7.9-1.5-1.4-2-8.1z" fill="#37c897"/><path d="M72.8 302.7l2 .7-1.5-1.1-2-.7z" fill="#4758f8"/><path d="M62.8 295.4l2 1.7-1.6-1.2-1.9-1.7z" fill="#3875fe"/><path d="M49.7 281l2 4.2-1.6-1.3-1.9-4.4z" fill="#1ca9df"/><path d="M38.6 264.7l1.9 7.7-1.5-1.4-2-7.9z" fill="#37c897"/><path d="M57.8 290.4l1.9 2.6-1.5-1.2-2-2.7z" fill="#2e87f7"/><path d="M69.3 300.5l2 1.1-1.5-1.1-2-1.1z" fill="#4563fd"/><path d="M64.3 296.6l2 1.6-1.5-1.1-2-1.7z" fill="#3e6fff"/><path d="M74.4 303.8l1.9 .6-1.5-1-2-.7z" fill="#4758f8"/><path d="M51.2 282.4l2 4.1-1.5-1.3-2-4.2z" fill="#20a5e3"/><path d="M40.1 266.3l2 7.6-1.6-1.5-1.9-7.7z" fill="#31c69f"/><path d="M59.3 291.7l2 2.5-1.6-1.2-1.9-2.6z" fill="#2e87f7"/><path d="M70.9 301.7l1.9 1-1.5-1.1-2-1.1z" fill="#465efb"/><path d="M65.9 297.9l1.9 1.5-1.5-1.2-2-1.6z" fill="#3e6fff"/><path d="M75.9 304.9l2 .6-1.6-1.1-1.9-.6z" fill="#4852f4"/><path d="M41.6 267.9l2 7.4-1.5-1.4-2-7.6z" fill="#2cc4a7"/><path d="M52.8 283.8l1.9 4-1.5-1.3-2-4.1z" fill="#23a0e5"/><path d="M60.8 293l2 2.4-1.5-1.2-2-2.5z" fill="#2f81fa"/><path d="M72.4 302.8l2 1-1.6-1.1-1.9-1z" fill="#465efb"/><path d="M67.4 299.1l1.9 1.4-1.5-1.1-1.9-1.5z" fill="#3e6fff"/><path d="M43.2 269.5l1.9 7.2-1.5-1.4-2-7.4z" fill="#24c1ae"/><path d="M54.3 285.2l1.9 3.9-1.5-1.3-1.9-4z" fill="#23a0e5"/><path d="M62.4 294.3l1.9 2.3-1.5-1.2-2-2.4z" fill="#2f81fa"/><path d="M44.7 271.1l1.9 7-1.5-1.4-1.9-7.2z" fill="#19bfb6"/><path d="M73.9 304l2 .9-1.5-1.1-2-1z" fill="#465efb"/><path d="M68.9 300.3l2 1.4-1.6-1.2-1.9-1.4z" fill="#4269fe"/><path d="M55.8 286.6l2 3.8-1.6-1.3-1.9-3.9z" fill="#259be8"/><path d="M63.9 295.6l2 2.3-1.6-1.3-1.9-2.3z" fill="#327cfc"/><path d="M46.2 272.7l2 6.8-1.6-1.4-1.9-7z" fill="#19bfb6"/><path d="M75.5 305.1l1.9 .9-1.5-1.1-2-.9z" fill="#4758f8"/><path d="M70.4 301.5l2 1.3-1.5-1.1-2-1.4z" fill="#4269fe"/><path d="M57.3 288.1l2 3.6-1.5-1.3-2-3.8z" fill="#259be8"/><path d="M47.7 274.3l2 6.7-1.5-1.5-2-6.8z" fill="#0bbdbd"/><path d="M65.4 296.9l2 2.2-1.5-1.2-2-2.3z" fill="#327cfc"/><path d="M58.9 289.5l1.9 3.5-1.5-1.3-2-3.6z" fill="#2797eb"/><path d="M72 302.7l1.9 1.3-1.5-1.2-2-1.3z" fill="#4563fd"/><path d="M77 306.3l1.9 .8-1.5-1.1-1.9-.9z" fill="#4758f8"/><path d="M32 248.2l2 11.7-1.5-1.6-2-12z" fill="#d1bf27"/><path d="M49.3 275.9l1.9 6.5-1.5-1.4-2-6.7z" fill="#02bac3"/><path d="M66.9 298.2l2 2.1-1.5-1.2-2-2.2z" fill="#3875fe"/><path d="M33.5 250l2 11.5-1.5-1.6-2-11.7z" fill="#c5c22a"/><path d="M60.4 290.9l2 3.4-1.6-1.3-1.9-3.5z" fill="#2b91ef"/><path d="M73.5 303.9l2 1.2-1.6-1.1-1.9-1.3z" fill="#4563fd"/><path d="M78.5 307.4l2 .8-1.6-1.1-1.9-.8z" fill="#4758f8"/><path d="M50.8 277.5l2 6.3-1.6-1.4-1.9-6.5z" fill="#01b8ca"/><path d="M68.5 299.5l1.9 2-1.5-1.2-2-2.1z" fill="#3875fe"/><path d="M35.1 251.9l1.9 11.2-1.5-1.6-2-11.5z" fill="#c5c22a"/><path d="M61.9 292.3l2 3.3-1.5-1.3-2-3.4z" fill="#2b91ef"/><path d="M52.3 279.1l2 6.1-1.5-1.4-2-6.3z" fill="#01b8ca"/><path d="M75 305.1l2 1.2-1.5-1.2-2-1.2z" fill="#465efb"/><path d="M80 308.6l2 .7-1.5-1.1-2-.8z" fill="#4852f4"/><path d="M36.6 253.7l2 11-1.6-1.6-1.9-11.2z" fill="#b9c431"/><path d="M70 300.8l2 1.9-1.6-1.2-1.9-2z" fill="#3e6fff"/><path d="M63.5 293.7l1.9 3.2-1.5-1.3-2-3.3z" fill="#2d8cf3"/><path d="M53.8 280.7l2 5.9-1.5-1.4-2-6.1z" fill="#08b5d0"/><path d="M38.1 255.6l2 10.7-1.5-1.6-2-11z" fill="#abc739"/><path d="M76.5 306.4l2 1-1.5-1.1-2-1.2z" fill="#465efb"/><path d="M71.5 302.1l2 1.8-1.5-1.2-2-1.9z" fill="#3e6fff"/><path d="M39.7 257.4l1.9 10.5-1.5-1.6-2-10.7z" fill="#9dc943"/><path d="M55.4 282.3l1.9 5.8-1.5-1.5-2-5.9z" fill="#12b1d6"/><path d="M65 295.2l1.9 3-1.5-1.3-1.9-3.2z" fill="#2d8cf3"/><path d="M78.1 307.6l1.9 1-1.5-1.2-2-1z" fill="#465efb"/><path d="M41.2 259.3l2 10.2-1.6-1.6-1.9-10.5z" fill="#8fcb4e"/><path d="M56.9 283.9l2 5.6-1.6-1.4-1.9-5.8z" fill="#18addb"/><path d="M73.1 303.4l1.9 1.7-1.5-1.2-2-1.8z" fill="#4269fe"/><path d="M66.5 296.6l2 2.9-1.6-1.3-1.9-3z" fill="#2e87f7"/><path d="M42.7 261.1l2 10-1.5-1.6-2-10.2z" fill="#81cc59"/><path d="M79.6 308.8l2 .9-1.6-1.1-1.9-1z" fill="#4758f8"/><path d="M58.4 285.5l2 5.4-1.5-1.4-2-5.6z" fill="#18addb"/><path d="M74.6 304.7l1.9 1.7-1.5-1.3-1.9-1.7z" fill="#4269fe"/><path d="M68 298l2 2.8-1.5-1.3-2-2.9z" fill="#2f81fa"/><path d="M44.2 263l2 9.7-1.5-1.6-2-10z" fill="#72cd64"/><path d="M60 287.1l1.9 5.2-1.5-1.4-2-5.4z" fill="#1ca9df"/><path d="M81.1 310l2 .9-1.5-1.2-2-.9z" fill="#4758f8"/><path d="M45.8 264.8l1.9 9.5-1.5-1.6-2-9.7z" fill="#64cd6f"/><path d="M69.6 299.4l1.9 2.7-1.5-1.3-2-2.8z" fill="#2f81fa"/><path d="M76.1 306l2 1.6-1.6-1.2-1.9-1.7z" fill="#4563fd"/><path d="M61.5 288.7l2 5-1.6-1.4-1.9-5.2z" fill="#20a5e3"/><path d="M47.3 266.7l2 9.2-1.6-1.6-1.9-9.5z" fill="#57cc7a"/><path d="M82.7 311.2l1.9 .8-1.5-1.1-2-.9z" fill="#4852f4"/><path d="M71.1 300.8l2 2.6-1.6-1.3-1.9-2.7z" fill="#327cfc"/><path d="M77.6 307.3l2 1.5-1.5-1.2-2-1.6z" fill="#4563fd"/><path d="M48.8 268.5l2 9-1.5-1.6-2-9.2z" fill="#4acb84"/><path d="M63 290.3l2 4.9-1.5-1.5-2-5z" fill="#23a0e5"/><path d="M72.6 302.3l2 2.4-1.5-1.3-2-2.6z" fill="#3875fe"/><path d="M50.4 270.4l1.9 8.7-1.5-1.6-2-9z" fill="#3fca8e"/><path d="M79.2 308.6l1.9 1.4-1.5-1.2-2-1.5z" fill="#465efb"/><path d="M64.5 291.9l2 4.7-1.5-1.4-2-4.9z" fill="#23a0e5"/><path d="M51.9 272.2l1.9 8.5-1.5-1.6-1.9-8.7z" fill="#37c897"/><path d="M74.1 303.7l2 2.3-1.5-1.3-2-2.4z" fill="#3875fe"/><path d="M66.1 293.5l1.9 4.5-1.5-1.4-2-4.7z" fill="#259be8"/><path d="M80.7 309.9l2 1.3-1.6-1.2-1.9-1.4z" fill="#465efb"/><path d="M53.4 274.1l2 8.2-1.6-1.6-1.9-8.5z" fill="#31c69f"/><path d="M75.7 305.1l1.9 2.2-1.5-1.3-2-2.3z" fill="#3e6fff"/><path d="M67.6 295.1l2 4.3-1.6-1.4-1.9-4.5z" fill="#2797eb"/><path d="M54.9 275.9l2 8-1.5-1.6-2-8.2z" fill="#2cc4a7"/><path d="M82.2 311.2l2 1.2-1.5-1.2-2-1.3z" fill="#4758f8"/><path d="M69.1 296.7l2 4.1-1.5-1.4-2-4.3z" fill="#2b91ef"/><path d="M77.2 306.5l2 2.1-1.6-1.3-1.9-2.2z" fill="#3e6fff"/><path d="M56.5 277.8l1.9 7.7-1.5-1.6-2-8z" fill="#24c1ae"/><path d="M83.8 312.5l1.9 1.1-1.5-1.2-2-1.2z" fill="#4758f8"/><path d="M58 279.6l2 7.5-1.6-1.6-1.9-7.7z" fill="#19bfb6"/><path d="M70.7 298.3l1.9 4-1.5-1.5-2-4.1z" fill="#2d8cf3"/><path d="M78.7 307.9l2 2-1.5-1.3-2-2.1z" fill="#4269fe"/><path d="M85.3 313.8l1.9 1.1-1.5-1.3-1.9-1.1z" fill="#4852f4"/><path d="M59.5 281.5l2 7.2-1.5-1.6-2-7.5z" fill="#0bbdbd"/><path d="M72.2 299.9l1.9 3.8-1.5-1.4-1.9-4z" fill="#2d8cf3"/><path d="M80.3 309.4l1.9 1.8-1.5-1.3-2-2z" fill="#4563fd"/><path d="M61.1 283.3l1.9 7-1.5-1.6-2-7.2z" fill="#02bac3"/><path d="M73.7 301.5l2 3.6-1.6-1.4-1.9-3.8z" fill="#2e87f7"/><path d="M62.6 285.2l1.9 6.7-1.5-1.6-1.9-7z" fill="#01b8ca"/><path d="M81.8 310.8l2 1.7-1.6-1.3-1.9-1.8z" fill="#4563fd"/><path d="M75.2 303.1l2 3.4-1.5-1.4-2-3.6z" fill="#2f81fa"/><path d="M64.1 287l2 6.5-1.6-1.6-1.9-6.7z" fill="#08b5d0"/><path d="M39.2 242.6l2 16.7-1.5-1.9-2-17z" fill="#f7dc2a"/><path d="M83.3 312.2l2 1.6-1.5-1.3-2-1.7z" fill="#465efb"/><path d="M40.8 244.9l1.9 16.2-1.5-1.8-2-16.7z" fill="#fccf30"/><path d="M76.8 304.7l1.9 3.2-1.5-1.4-2-3.4z" fill="#327cfc"/><path d="M65.6 288.9l2 6.2-1.5-1.6-2-6.5z" fill="#12b1d6"/><path d="M42.3 247.1l1.9 15.9-1.5-1.9-1.9-16.2z" fill="#fec934"/><path d="M84.8 313.6l2 1.5-1.5-1.3-2-1.6z" fill="#465efb"/><path d="M67.2 290.7l1.9 6-1.5-1.6-2-6.2z" fill="#18addb"/><path d="M78.3 306.3l2 3.1-1.6-1.5-1.9-3.2z" fill="#327cfc"/><path d="M43.8 249.4l2 15.4-1.6-1.8-1.9-15.9z" fill="#fec338"/><path d="M45.3 251.6l2 15.1-1.5-1.9-2-15.4z" fill="#f8ba3d"/><path d="M68.7 292.6l2 5.7-1.6-1.6-1.9-6z" fill="#1ca9df"/><path d="M86.4 315l1.9 1.4-1.5-1.3-2-1.5z" fill="#4758f8"/><path d="M79.8 307.9l2 2.9-1.5-1.4-2-3.1z" fill="#3875fe"/><path d="M46.9 253.9l1.9 14.6-1.5-1.8-2-15.1z" fill="#f0ba36"/><path d="M70.2 294.4l2 5.5-1.5-1.6-2-5.7z" fill="#20a5e3"/><path d="M48.4 256.1l2 14.3-1.6-1.9-1.9-14.6z" fill="#e6bb2d"/><path d="M87.9 316.5l2 1.2-1.6-1.3-1.9-1.4z" fill="#4852f4"/><path d="M81.4 309.5l1.9 2.7-1.5-1.4-2-2.9z" fill="#3e6fff"/><path d="M71.7 296.3l2 5.2-1.5-1.6-2-5.5z" fill="#23a0e5"/><path d="M49.9 258.4l2 13.8-1.5-1.8-2-14.3z" fill="#d1bf27"/><path d="M51.4 260.6l2 13.5-1.5-1.9-2-13.8z" fill="#c5c22a"/><path d="M82.9 311.1l1.9 2.5-1.5-1.4-1.9-2.7z" fill="#4269fe"/><path d="M73.3 298.1l1.9 5-1.5-1.6-2-5.2z" fill="#259be8"/><path d="M53 262.9l1.9 13-1.5-1.8-2-13.5z" fill="#b9c431"/><path d="M74.8 300l2 4.7-1.6-1.6-1.9-5z" fill="#2797eb"/><path d="M84.4 312.7l2 2.3-1.6-1.4-1.9-2.5z" fill="#4269fe"/><path d="M54.5 265.1l2 12.7-1.6-1.9-1.9-13z" fill="#9dc943"/><path d="M56 267.4l2 12.2-1.5-1.8-2-12.7z" fill="#8fcb4e"/><path d="M76.3 301.8l2 4.5-1.5-1.6-2-4.7z" fill="#2b91ef"/><path d="M85.9 314.3l2 2.2-1.5-1.5-2-2.3z" fill="#4563fd"/><path d="M57.6 269.6l1.9 11.9-1.5-1.9-2-12.2z" fill="#81cc59"/><path d="M77.9 303.7l1.9 4.2-1.5-1.6-2-4.5z" fill="#2d8cf3"/><path d="M59.1 271.9l2 11.4-1.6-1.8-1.9-11.9z" fill="#64cd6f"/><path d="M87.5 315.9l1.9 2-1.5-1.4-2-2.2z" fill="#465efb"/><path d="M60.6 274.1l2 11.1-1.5-1.9-2-11.4z" fill="#57cc7a"/><path d="M79.4 305.5l2 4-1.6-1.6-1.9-4.2z" fill="#2e87f7"/><path d="M62.1 276.4l2 10.6-1.5-1.8-2-11.1z" fill="#4acb84"/><path d="M89 317.5l2 1.8-1.6-1.4-1.9-2z" fill="#4758f8"/><path d="M80.9 307.4l2 3.7-1.5-1.6-2-4z" fill="#2f81fa"/><path d="M63.7 278.6l1.9 10.3-1.5-1.9-2-10.6z" fill="#37c897"/><path d="M90.5 319.1l2 1.6-1.5-1.4-2-1.8z" fill="#4852f4"/><path d="M65.2 280.9l2 9.8-1.6-1.8-1.9-10.3z" fill="#31c69f"/><path d="M82.4 309.2l2 3.5-1.5-1.6-2-3.7z" fill="#327cfc"/><path d="M66.7 283.1l2 9.5-1.5-1.9-2-9.8z" fill="#2cc4a7"/><path d="M84 311.1l1.9 3.2-1.5-1.6-2-3.5z" fill="#3875fe"/><path d="M68.3 285.4l1.9 9-1.5-1.8-2-9.5z" fill="#19bfb6"/><path d="M69.8 287.6l1.9 8.7-1.5-1.9-1.9-9z" fill="#0bbdbd"/><path d="M85.5 312.9l2 3-1.6-1.6-1.9-3.2z" fill="#3e6fff"/><path d="M71.3 289.9l2 8.2-1.6-1.8-1.9-8.7z" fill="#02bac3"/><path d="M87 314.8l2 2.7-1.5-1.6-2-3z" fill="#4269fe"/><path d="M72.8 292.1l2 7.9-1.5-1.9-2-8.2z" fill="#01b8ca"/><path d="M88.6 316.6l1.9 2.5-1.5-1.6-2-2.7z" fill="#4563fd"/><path d="M74.4 294.4l1.9 7.4-1.5-1.8-2-7.9z" fill="#12b1d6"/><path d="M75.9 296.6l2 7.1-1.6-1.9-1.9-7.4z" fill="#18addb"/><path d="M90.1 318.5l1.9 2.2-1.5-1.6-1.9-2.5z" fill="#465efb"/><path d="M77.4 298.9l2 6.6-1.5-1.8-2-7.1z" fill="#1ca9df"/><path d="M91.6 320.3l2 2-1.6-1.6-1.9-2.2z" fill="#4758f8"/><path d="M79 301.1l1.9 6.3-1.5-1.9-2-6.6z" fill="#23a0e5"/><path d="M80.5 303.4l1.9 5.8-1.5-1.8-1.9-6.3z" fill="#259be8"/><path d="M93.1 322.2l2 1.7-1.5-1.6-2-2z" fill="#4852f4"/><path d="M82 305.6l2 5.5-1.6-1.9-1.9-5.8z" fill="#2797eb"/><path d="M83.5 307.9l2 5-1.5-1.8-2-5.5z" fill="#2d8cf3"/><path d="M85.1 310.1l1.9 4.7-1.5-1.9-2-5z" fill="#2e87f7"/><path d="M86.6 312.4l2 4.2-1.6-1.8-1.9-4.7z" fill="#2f81fa"/><path d="M88.1 314.6l2 3.9-1.5-1.9-2-4.2z" fill="#3875fe"/><path d="M89.6 316.9l2 3.4-1.5-1.8-2-3.9z" fill="#3e6fff"/><path d="M91.2 319.1l1.9 3.1-1.5-1.9-2-3.4z" fill="#4269fe"/><path d="M92.7 321.4l2 2.6-1.6-1.8-1.9-3.1z" fill="#465efb"/><path d="M94.2 323.6l2 2.3-1.5-1.9-2-2.6z" fill="#4758f8"/><path d="M58.7 252.8l1.9 21.3-1.5-2.2-2-22.1z" fill="#f7dc2a"/><path d="M60.2 255.8l1.9 20.6-1.5-2.3-1.9-21.3z" fill="#fccf30"/><path d="M61.7 258.8l2 19.8-1.6-2.2-1.9-20.6z" fill="#fec338"/><path d="M63.2 261.8l2 19.1-1.5-2.3-2-19.8z" fill="#f8ba3d"/><path d="M64.8 264.8l1.9 18.3-1.5-2.2-2-19.1z" fill="#e6bb2d"/><path d="M66.3 267.8l2 17.6-1.6-2.3-1.9-18.3z" fill="#d1bf27"/><path d="M67.8 270.8l2 16.8-1.5-2.2-2-17.6z" fill="#c5c22a"/><path d="M69.3 273.8l2 16.1-1.5-2.3-2-16.8z" fill="#abc739"/><path d="M70.9 276.8l1.9 15.3-1.5-2.2-2-16.1z" fill="#8fcb4e"/><path d="M72.4 279.8l2 14.6-1.6-2.3-1.9-15.3z" fill="#72cd64"/><path d="M73.9 282.8l2 13.8-1.5-2.2-2-14.6z" fill="#57cc7a"/><path d="M75.5 285.8l1.9 13.1-1.5-2.3-2-13.8z" fill="#3fca8e"/><path d="M77 288.8l2 12.3-1.6-2.2-1.9-13.1z" fill="#31c69f"/><path d="M78.5 291.8l2 11.6-1.5-2.3-2-12.3z" fill="#24c1ae"/><path d="M80 294.8l2 10.8-1.5-2.2-2-11.6z" fill="#0bbdbd"/><path d="M81.6 297.8l1.9 10.1-1.5-2.3-2-10.8z" fill="#01b8ca"/><path d="M83.1 300.8l2 9.3-1.6-2.2-1.9-10.1z" fill="#12b1d6"/><path d="M84.6 303.8l2 8.6-1.5-2.3-2-9.3z" fill="#1ca9df"/><path d="M86.2 306.8l1.9 7.8-1.5-2.2-2-8.6z" fill="#23a0e5"/><path d="M87.7 309.8l1.9 7.1-1.5-2.3-1.9-7.8z" fill="#2797eb"/><path d="M89.2 312.8l2 6.3-1.6-2.2-1.9-7.1z" fill="#2d8cf3"/><path d="M90.7 315.8l2 5.6-1.5-2.3-2-6.3z" fill="#2f81fa"/><path d="M92.3 318.9l1.9 4.7-1.5-2.2-2-5.6z" fill="#3875fe"/><path d="M93.8 321.9l2 4-1.6-2.3-1.9-4.7z" fill="#4269fe"/><path d="M95.3 324.9l2 3.2-1.5-2.2-2-4z" fill="#465efb"/><path d="M96.9 327.9l1.9 2.5-1.5-2.3-2-3.2z" fill="#4852f4"/></g>
<g stroke="#4a4a4a" stroke-width="0.2">
<text x="105.4" y="348.8" font-size="5.2" text-anchor="start" fill="#3a3a3a">0</text>
<text x="125" y="343.4" font-size="5.2" text-anchor="start" fill="#3a3a3a">20</text>
<text x="144.7" y="337.3" font-size="5.2" text-anchor="start" fill="#3a3a3a">40</text>
<text x="164.3" y="331.9" font-size="5.2" text-anchor="start" fill="#3a3a3a">60</text>
<text x="184" y="327" font-size="5.2" text-anchor="start" fill="#3a3a3a">80</text>
<text x="203.6" y="321.6" font-size="5.2" text-anchor="start" fill="#3a3a3a">100</text>
<text x="96.6" y="347.9" font-size="5.2" text-anchor="end" fill="#3a3a3a">0</text>
<text x="58.4" y="330.2" font-size="5.2" text-anchor="end" fill="#3a3a3a">50</text>
<text x="20.2" y="312.6" font-size="5.2" text-anchor="end" fill="#3a3a3a">100</text>
<text x="20.6" y="306.6" font-size="5.2" text-anchor="end" fill="#3a3a3a">0</text>
<text x="20.6" y="287.7" font-size="5.2" text-anchor="end" fill="#3a3a3a">0.5</text>
<text x="20.6" y="268.9" font-size="5.2" text-anchor="end" fill="#3a3a3a">1</text>
<text x="20.6" y="250" font-size="5.2" text-anchor="end" fill="#3a3a3a">1.5</text>
<text x="20.6" y="231.2" font-size="5.2" text-anchor="end" fill="#3a3a3a">2</text>
</g>
<text x="144.7" y="349.9" font-size="5.8" text-anchor="middle" fill="#7a7a7a">ω</text>
<text x="61.9" y="347.6" font-size="5.8" text-anchor="middle" fill="#7a7a7a">γ</text>
<text transform="translate(6.7 268) rotate(-90)" font-size="6.4" text-anchor="middle" fill="#444" stroke="#555" stroke-width="0.15">R<tspan font-size="4.6" dy="2.9">3</tspan></text>
<text x="9.1" y="220.7" font-size="5.4" fill="#444" stroke="#555" stroke-width="0.18"><tspan font-size="6">×</tspan><tspan dx="0.6">10</tspan><tspan font-size="4.3" dy="-2.8">-3</tspan></text>
<path d="M355.4 335.1L279 300.3M375 329.9L298.6 295.1M394.7 324.6L318.3 289.8M414.3 319.4L337.9 284.6M433.9 314.1L357.5 279.3M297.6 323L395.8 296.7M259.4 305.6L357.5 279.3M433.9 314.1L433.9 238.7M395.8 296.7L395.8 221.3M357.5 279.3L357.5 203.9M433.9 301.5L357.5 266.7M433.9 289L357.5 254.2M433.9 276.4L357.5 241.6M433.9 263.8L357.5 229M433.9 251.3L357.5 216.5M433.9 238.7L357.5 203.9M279 300.3L279 224.9M298.6 295.1L298.6 219.7M318.3 289.8L318.3 214.4M337.9 284.6L337.9 209.2M357.5 279.3L357.5 203.9M259.4 293L357.5 266.7M259.4 280.5L357.5 254.2M259.4 267.9L357.5 241.6M259.4 255.3L357.5 229M259.4 242.8L357.5 216.5M259.4 230.2L357.5 203.9" stroke="#e3e3e3" stroke-width="0.6" fill="none"/>
<path d="M259.4 305.6L259.4 230.2" stroke="#c8c8c8" stroke-width="0.8" fill="none"/><path d="M335.8 340.4L433.9 314.1M335.8 340.4L259.4 305.6M335.8 340.4L337.9 341.4M355.4 335.1L357.6 336.1M375 329.9L377.2 330.9M394.7 324.6L396.9 325.6M414.3 319.4L416.5 320.4M433.9 314.1L436.1 315.1M335.8 340.4L333.4 341M297.6 323L295.2 323.6M259.4 305.6L257 306.2M259.4 305.6L257.2 304.6M259.4 293L257.2 292M259.4 280.5L257.2 279.5M259.4 267.9L257.2 266.9M259.4 255.3L257.2 254.3M259.4 242.8L257.2 241.8M259.4 230.2L257.2 229.2" stroke="#666" stroke-width="0.55" fill="none"/>
<path d="M342.1 327.2L340.6 330.2L344.5 325.9L342.9 327.5L346.9 323.8L345.3 325.6L351.2 321.1L349.7 322.5L355.6 318.5L354.1 319.6L360 316L358.4 316.8L362.4 314.6L360.8 315.3L366.7 312.2L365.2 312.7L371.1 309.7L369.6 310.1L373.5 308.3L372 308.5L377.9 305.8L376.3 306.1L382.2 303.5L380.7 303.6L384.6 301.9L383.1 302L389 299.5L387.5 299.6L393.4 297.2L391.8 297.2L397.7 294.8L396.2 294.8L400.1 293.2L398.6 293.1L404.5 290.9L403 290.8L404.9 290L403.4 289.9L403.4 289.9L401.9 289.6L401.9 289.6L400.3 289.4L400.3 289.4L398.8 289.1L398.8 289.1L397.3 288.8L397.3 288.8L395.8 288.4L395.8 288.4L394.2 288L394.2 288L392.7 287.6L392.7 287.6L391.2 287.2L391.2 287.2L389.6 286.8L389.6 286.8L388.1 286.3L388.1 286.3L386.6 285.8L386.6 285.8L385.1 285.3L385.1 285.3L383.5 284.8L383.5 284.8L382 284.3L382 284.3L380.5 283.8L380.5 283.8L378.9 283.3L378.9 283.3L377.4 282.7L377.4 282.7L375.9 282.2L375.9 282.2L374.4 281.6L374.4 281.6L372.8 281.1L372.8 281.1L371.3 280.5L371.3 280.5L369.8 279.9L369.8 279.9L368.2 279.3L368.2 279.3L366.7 278.7L366.7 278.7L365.2 278.2L365.2 278.2L363.7 277.6L363.7 277.6L362.1 277L362.1 277L360.6 276.4L360.6 276.4L359.1 275.7L359.1 275.7L357.5 275.1L259.4 305.6L260.9 306.3L260.9 306.3L262.4 307L262.4 307L263.9 307.7L263.9 307.7L265.5 308.4L265.5 308.4L267 309.1L267 309.1L268.5 309.8L268.5 309.8L270 310.5L270 310.5L271.6 311.2L271.6 311.2L273.1 311.9L273.1 311.9L274.6 312.6L274.6 312.6L276.2 313.3L276.2 313.3L277.7 314L277.7 314L279.2 314.6L279.2 314.6L280.7 315.3L280.7 315.3L282.3 316L282.3 316L283.8 316.7L283.8 316.7L285.3 317.4L285.3 317.4L286.9 318.1L286.9 318.1L288.4 318.8L288.4 318.8L289.9 319.5L289.9 319.5L291.4 320.2L291.4 320.2L293 320.9L293 320.9L294.5 321.6L294.5 321.6L296 322.3L296 322.3L297.6 323L297.6 323L299.1 323.7L299.1 323.7L300.6 324.4L300.6 324.4L302.1 325.1L302.1 325.1L303.7 325.8L303.7 325.8L305.2 326.5L305.2 326.5L306.7 327.2L306.7 327.2L308.2 327.9L308.2 327.9L309.8 328.6L309.8 328.6L311.3 329.3L311.3 329.3L312.8 330L312.8 330L314.4 330.7L314.4 330.7L315.9 331.4L315.9 331.4L317.4 332L317.4 332L318.9 332.7L318.9 332.7L320.5 333.4L320.5 333.4L322 334.1L322 334.1L323.5 334.8L323.5 334.8L325.1 335.5L325.1 335.5L326.6 336.2L326.6 336.2L328.1 336.9L328.1 336.9L329.6 337.6L329.6 337.6L331.2 338.3L331.2 338.3L332.7 339L332.7 339L334.2 339.7Z" fill="#422ec0" stroke="#422ec0" stroke-width="0.3"/>
<path d="M334.2 339.7L342.1 327.2M332.7 339L342.5 328L344.5 325.9M331.2 338.3L341 329.3L346.9 323.8M329.6 337.6L339.5 330.1L349.3 322.6L351.2 321.1M328.1 336.9L337.9 330.3L347.8 323.8L355.6 318.5M326.6 336.2L336.4 330.3L346.2 324.3L356 318.4L360 316M325.1 335.5L334.9 330L344.7 324.5L354.5 319L362.4 314.6M323.5 334.8L333.3 329.7L343.2 324.5L353 319.4L362.8 314.2L366.7 312.2M322 334.1L331.8 329.3L341.6 324.4L351.5 319.5L361.3 314.6L371.1 309.7M320.5 333.4L330.3 328.8L340.1 324.1L349.9 319.5L359.8 314.8L369.6 310.1L373.5 308.3M318.9 332.7L328.8 328.3L338.6 323.8L348.4 319.3L358.2 314.8L368 310.3L377.9 305.8M317.4 332L327.2 327.7L337.1 323.4L346.9 319.1L356.7 314.7L366.5 310.4L376.3 306.1L382.2 303.5M315.9 331.4L325.7 327.1L335.5 322.9L345.3 318.7L355.2 314.5L365 310.3L374.8 306.1L384.6 301.9M314.4 330.7L324.2 326.6L334 322.5L343.8 318.4L353.6 314.3L363.5 310.2L373.3 306.1L383.1 302L389 299.5M312.8 330L322.6 326L332.5 322L342.3 318L352.1 314L361.9 310L371.8 306L381.6 302L391.4 298L393.4 297.2M311.3 329.3L321.1 325.3L330.9 321.4L340.8 317.5L350.6 313.6L360.4 309.7L370.2 305.8L380 301.9L389.9 297.9L397.7 294.8M309.8 328.6L319.6 324.7L329.4 320.9L339.2 317L349.1 313.2L358.9 309.4L368.7 305.5L378.5 301.7L388.3 297.8L398.2 294L400.1 293.2M308.2 327.9L318.1 324.1L327.9 320.3L337.7 316.5L347.5 312.8L357.3 309L367.2 305.2L377 301.5L386.8 297.7L396.6 293.9L404.5 290.9M306.7 327.2L316.5 323.5L326.4 319.7L336.2 316L346 312.3L355.8 308.6L365.6 304.9L375.5 301.2L385.3 297.5L395.1 293.7L404.9 290M305.2 326.5L315 322.8L324.8 319.2L334.6 315.5L344.5 311.8L354.3 308.2L364.1 304.5L373.9 300.8L383.8 297.2L393.6 293.5L403.4 289.9M303.7 325.8L313.5 322.2L323.3 318.6L333.1 314.9L342.9 311.3L352.8 307.7L362.6 304.1L372.4 300.5L382.2 296.9L392 293.3L401.9 289.6M302.1 325.1L312 321.5L321.8 317.9L331.6 314.4L341.4 310.8L351.2 307.2L361.1 303.7L370.9 300.1L380.7 296.5L390.5 293L400.3 289.4M300.6 324.4L310.4 320.9L320.2 317.3L330.1 313.8L339.9 310.3L349.7 306.7L359.5 303.2L369.3 299.7L379.2 296.2L389 292.6L398.8 289.1M299.1 323.7L308.9 320.2L318.7 316.7L328.5 313.2L338.4 309.7L348.2 306.2L358 302.7L367.8 299.3L377.6 295.8L387.5 292.3L397.3 288.8M297.6 323L307.4 319.5L317.2 316.1L327 312.6L336.8 309.2L346.7 305.7L356.5 302.3L366.3 298.8L376.1 295.3L385.9 291.9L395.8 288.4M296 322.3L305.8 318.9L315.7 315.5L325.5 312L335.3 308.6L345.1 305.2L354.9 301.7L364.8 298.3L374.6 294.9L384.4 291.5L394.2 288M294.5 321.6L304.3 318.2L314.1 314.8L324 311.4L333.8 308L343.6 304.6L353.4 301.2L363.2 297.8L373.1 294.4L382.9 291L392.7 287.6M293 320.9L302.8 317.5L312.6 314.2L322.4 310.8L332.2 307.4L342.1 304.1L351.9 300.7L361.7 297.3L371.5 293.9L381.3 290.6L391.2 287.2M291.4 320.2L301.3 316.9L311.1 313.5L320.9 310.2L330.7 306.8L340.5 303.5L350.4 300.1L360.2 296.8L370 293.5L379.8 290.1L389.6 286.8M289.9 319.5L299.7 316.2L309.5 312.9L319.4 309.6L329.2 306.2L339 302.9L348.8 299.6L358.6 296.3L368.5 292.9L378.3 289.6L388.1 286.3M288.4 318.8L298.2 315.5L308 312.2L317.8 308.9L327.7 305.6L337.5 302.3L347.3 299L357.1 295.7L366.9 292.4L376.8 289.1L386.6 285.8M286.9 318.1L296.7 314.8L306.5 311.6L316.3 308.3L326.1 305L336 301.7L345.8 298.5L355.6 295.2L365.4 291.9L375.2 288.6L385.1 285.3M285.3 317.4L295.1 314.2L305 310.9L314.8 307.7L324.6 304.4L334.4 301.1L344.2 297.9L354.1 294.6L363.9 291.4L373.7 288.1L383.5 284.8M283.8 316.7L293.6 313.5L303.4 310.3L313.3 307L323.1 303.8L332.9 300.5L342.7 297.3L352.5 294.1L362.4 290.8L372.2 287.6L382 284.3M282.3 316L292.1 312.8L301.9 309.6L311.7 306.4L321.5 303.1L331.4 299.9L341.2 296.7L351 293.5L360.8 290.3L370.6 287L380.5 283.8M280.7 315.3L290.6 312.1L300.4 308.9L310.2 305.7L320 302.5L329.8 299.3L339.7 296.1L349.5 292.9L359.3 289.7L369.1 286.5L378.9 283.3M279.2 314.6L289 311.5L298.9 308.3L308.7 305.1L318.5 301.9L328.3 298.7L338.1 295.5L348 292.3L357.8 289.1L367.6 285.9L377.4 282.7M277.7 314L287.5 310.8L297.3 307.6L307.1 304.4L317 301.2L326.8 298.1L336.6 294.9L346.4 291.7L356.2 288.5L366.1 285.4L375.9 282.2M276.2 313.3L286 310.1L295.8 306.9L305.6 303.8L315.4 300.6L325.3 297.4L335.1 294.3L344.9 291.1L354.7 288L364.5 284.8L374.4 281.6M274.6 312.6L284.4 309.4L294.3 306.3L304.1 303.1L313.9 300L323.7 296.8L333.6 293.7L343.4 290.5L353.2 287.4L363 284.2L372.8 281.1M273.1 311.9L282.9 308.7L292.7 305.6L302.6 302.5L312.4 299.3L322.2 296.2L332 293L341.8 289.9L351.7 286.8L361.5 283.6L371.3 280.5M271.6 311.2L281.4 308L291.2 304.9L301 301.8L310.9 298.7L320.7 295.5L330.5 292.4L340.3 289.3L350.1 286.2L360 283L369.8 279.9M270 310.5L279.9 307.4L289.7 304.2L299.5 301.1L309.3 298L319.1 294.9L329 291.8L338.8 288.7L348.6 285.6L358.4 282.4L368.2 279.3M268.5 309.8L278.3 306.7L288.2 303.6L298 300.5L307.8 297.4L317.6 294.3L327.4 291.2L337.3 288.1L347.1 285L356.9 281.8L366.7 278.7M267 309.1L276.8 306L286.6 302.9L296.4 299.8L306.3 296.7L316.1 293.6L325.9 290.5L335.7 287.4L345.6 284.3L355.4 281.2L365.2 278.2M265.5 308.4L275.3 305.3L285.1 302.2L294.9 299.1L304.7 296.1L314.6 293L324.4 289.9L334.2 286.8L344 283.7L353.8 280.6L363.7 277.6M263.9 307.7L273.8 304.6L283.6 301.5L293.4 298.5L303.2 295.4L313 292.3L322.9 289.2L332.7 286.2L342.5 283.1L352.3 280L362.1 277M262.4 307L272.2 303.9L282 300.9L291.9 297.8L301.7 294.7L311.5 291.7L321.3 288.6L331.1 285.5L341 282.5L350.8 279.4L360.6 276.4M260.9 306.3L270.7 303.2L280.5 300.2L290.3 297.1L300.2 294.1L310 291L319.8 288L329.6 284.9L339.4 281.9L349.3 278.8L359.1 275.7M259.4 305.6L269.2 302.6L279 299.5L288.8 296.5L298.6 293.4L308.5 290.4L318.3 287.3L328.1 284.3L337.9 281.2L347.7 278.2L357.5 275.1M334.2 339.7L326.6 336.2L318.9 332.7L311.3 329.3L303.7 325.8L296 322.3L288.4 318.8L280.7 315.3L273.1 311.9L265.5 308.4L259.4 305.6M336.2 336.6L328.5 335L320.9 331.8L313.3 328.5L305.6 325.1L298 321.6L290.3 318.2L282.7 314.7L275.1 311.2L267.4 307.8L261.3 305M338.1 333.5L330.5 333.8L322.9 331L315.2 327.7L307.6 324.3L299.9 320.9L292.3 317.5L284.7 314.1L277 310.6L269.4 307.2L263.3 304.4M340.1 330.3L332.5 332.7L324.8 330.1L317.2 326.9L309.6 323.6L301.9 320.2L294.3 316.8L286.6 313.4L279 310L271.4 306.5L265.2 303.8M342.1 327.2L334.4 331.5L326.8 329.2L319.2 326.1L311.5 322.9L303.9 319.6L296.2 316.2L288.6 312.8L281 309.4L273.3 305.9L267.2 303.2M342.5 328L334.9 330L327.2 327.7L319.6 324.7L312 321.5L304.3 318.2L296.7 314.8L289 311.5L281.4 308L273.8 304.6L269.2 302.6M344.5 325.9L336.8 328.9L329.2 326.8L321.6 324L313.9 320.8L306.3 317.5L298.6 314.2L291 310.8L283.4 307.4L275.7 304L271.1 301.9M344.9 325.7L337.3 327.6L329.6 325.5L322 322.6L314.4 319.5L306.7 316.2L299.1 312.9L291.4 309.5L283.8 306.1L276.2 302.7L273.1 301.3M346.9 323.8L339.2 326.6L331.6 324.6L324 321.8L316.3 318.7L308.7 315.5L301 312.2L293.4 308.9L285.8 305.5L278.1 302.1L275.1 300.7M347.3 324.1L339.7 325.4L332 323.3L324.4 320.5L316.8 317.4L309.1 314.2L301.5 310.9L293.8 307.6L286.2 304.2L278.6 300.8L277 300.1M349.3 322.6L341.6 324.4L334 322.5L326.4 319.7L318.7 316.7L311.1 313.5L303.4 310.3L295.8 306.9L288.2 303.6L280.5 300.2L279 299.5M351.2 321.1L343.6 323.4L336 321.6L328.3 319L320.7 316L313 312.9L305.4 309.6L297.8 306.3L290.1 302.9L282.5 299.6L281 298.9M351.7 321.1L344 322.3L336.4 320.4L328.8 317.7L321.1 314.7L313.5 311.5L305.8 308.3L298.2 305L290.6 301.7L282.9 298.3M353.6 319.8L346 321.3L338.4 319.6L330.7 317L323.1 314L315.4 310.9L307.8 307.7L300.2 304.4L292.5 301L284.9 297.7M355.6 318.5L348 320.4L340.3 318.8L332.7 316.2L325 313.3L317.4 310.2L309.8 307L302.1 303.7L294.5 300.4L286.8 297.1M356 318.4L348.4 319.3L340.8 317.5L333.1 314.9L325.5 312L317.8 308.9L310.2 305.7L302.6 302.5L294.9 299.1L288.8 296.5M358 317.2L350.4 318.4L342.7 316.7L335.1 314.2L327.4 311.3L319.8 308.3L312.2 305.1L304.5 301.8L296.9 298.5L290.8 295.9M360 316L352.3 317.5L344.7 316L337.1 313.5L329.4 310.7L321.8 307.6L314.1 304.4L306.5 301.2L298.9 297.9L292.7 295.2M360.4 315.7L352.8 316.5L345.1 314.7L337.5 312.2L329.8 309.4L322.2 306.3L314.6 303.2L306.9 299.9L299.3 296.6L294.7 294.6M362.4 314.6L354.7 315.6L347.1 314L339.5 311.5L331.8 308.7L324.2 305.7L316.5 302.5L308.9 299.3L301.2 296L296.7 294M362.8 314.2L355.2 314.5L347.5 312.8L339.9 310.3L332.2 307.4L324.6 304.4L317 301.2L309.3 298L301.7 294.7L298.6 293.4M364.8 313.2L357.1 313.7L349.5 312L341.9 309.6L334.2 306.8L326.6 303.7L318.9 300.6L311.3 297.4L303.7 294.1L300.6 292.8M366.7 312.2L359.1 312.9L351.5 311.3L343.8 308.9L336.2 306.1L328.5 303.1L320.9 300L313.3 296.8L305.6 293.5L302.6 292.2M367.2 311.7L359.5 311.8L351.9 310.1L344.2 307.6L336.6 304.8L329 301.8L321.3 298.7L313.7 295.5L306.1 292.2L304.5 291.6M369.1 310.7L361.5 311L353.9 309.3L346.2 306.9L338.6 304.2L330.9 301.2L323.3 298.1L315.7 294.9L308 291.6L306.5 291M371.1 309.7L363.5 310.2L355.8 308.6L348.2 306.2L340.5 303.5L332.9 300.5L325.3 297.4L317.6 294.3L310 291L308.5 290.4M371.5 309.2L363.9 309.2L356.3 307.4L348.6 305L341 302.2L333.3 299.3L325.7 296.2L318.1 293L310.4 289.8M373.5 308.3L365.9 308.4L358.2 306.7L350.6 304.3L342.9 301.6L335.3 298.6L327.7 295.6L320 292.4L312.4 289.1M373.9 307.6L366.3 307.3L358.7 305.5L351 303.1L343.4 300.3L335.7 297.4L328.1 294.3L320.5 291.1L314.3 288.5M375.9 306.7L368.3 306.6L360.6 304.8L353 302.4L345.3 299.7L337.7 296.7L330.1 293.7L322.4 290.5L316.3 287.9M377.9 305.8L370.2 305.8L362.6 304.1L354.9 301.7L347.3 299L339.7 296.1L332 293L324.4 289.9L318.3 287.3M378.3 305.2L370.7 304.8L363 303L355.4 300.5L347.7 297.8L340.1 294.9L332.5 291.8L324.8 288.6L320.2 286.7M380.3 304.3L372.6 304L365 302.2L357.3 299.9L349.7 297.1L342.1 294.2L334.4 291.2L326.8 288L322.2 286.1M382.2 303.5L374.6 303.2L366.9 301.5L359.3 299.2L351.7 296.5L344 293.6L336.4 290.5L328.7 287.4L324.2 285.5M382.7 302.8L375 302.2L367.4 300.4L359.7 298L352.1 295.3L344.5 292.3L336.8 289.3L329.2 286.2L326.1 284.9M384.6 301.9L377 301.5L369.3 299.7L361.7 297.3L354.1 294.6L346.4 291.7L338.8 288.7L331.1 285.5L328.1 284.3M385.1 301.2L377.4 300.4L369.8 298.6L362.1 296.1L354.5 293.4L346.9 290.5L339.2 287.4L331.6 284.3L330.1 283.7M387 300.4L379.4 299.7L371.7 297.9L364.1 295.5L356.5 292.8L348.8 289.8L341.2 286.8L333.5 283.7L332 283.1M389 299.5L381.4 298.9L373.7 297.2L366.1 294.8L358.4 292.1L350.8 289.2L343.1 286.2L335.5 283.1L334 282.4M389.4 298.8L381.8 297.9L374.1 296L366.5 293.6L358.9 290.9L351.2 288L343.6 285L335.9 281.8M391.4 298L383.8 297.2L376.1 295.3L368.5 292.9L360.8 290.3L353.2 287.4L345.6 284.3L337.9 281.2M393.4 297.2L385.7 296.5L378.1 294.6L370.4 292.3L362.8 289.6L355.2 286.7L347.5 283.7L339.9 280.6M393.8 296.4L386.1 295.4L378.5 293.5L370.9 291.1L363.2 288.4L355.6 285.5L347.9 282.5L341.8 280M395.8 295.6L388.1 294.7L380.5 292.8L372.8 290.4L365.2 287.8L357.6 284.9L349.9 281.9L343.8 279.4M397.7 294.8L390.1 294L382.4 292.2L374.8 289.8L367.2 287.1L359.5 284.3L351.9 281.3L345.8 278.8M398.2 294L390.5 293L382.9 291L375.2 288.6L367.6 285.9L360 283L352.3 280L347.7 278.2M400.1 293.2L392.5 292.3L384.8 290.4L377.2 288L369.6 285.3L361.9 282.4L354.3 279.4L349.7 277.6M400.6 292.4L392.9 291.2L385.3 289.2L377.6 286.8L370 284.1L362.4 281.2L354.7 278.2L351.7 277M402.5 291.6L394.9 290.5L387.2 288.6L379.6 286.1L372 283.5L364.3 280.6L356.7 277.6L353.6 276.4M404.5 290.9L396.8 289.8L389.2 287.9L381.6 285.5L373.9 282.8L366.3 280L358.6 277L355.6 275.7M404.9 290L397.3 288.8L389.6 286.8L382 284.3L374.4 281.6L366.7 278.7L359.1 275.7L357.5 275.1" fill="none" stroke="#000" stroke-opacity="0.6" stroke-width="0.45"/>
<g stroke="#000" stroke-opacity="0.6" stroke-width="0.45" stroke-linejoin="round"><path d="M404.5 290.9l1.9-.8-1.5-.1-1.9 .8z" fill="#4852f4"/><path d="M406 290.9l2-.7-1.6-.1-1.9 .8zM404 291.7l2-.8-1.5 0-2 .7z" fill="#4758f8"/><path d="M402.1 292.5l1.9-.8-1.5-.1-1.9 .8z" fill="#4852f4"/><path d="M407.5 290.9l2-.8-1.5 .1-2 .7z" fill="#4758f8"/><path d="M400.1 293.2l2-.7-1.5-.1-2 .7z" fill="#4852f4"/><path d="M405.6 291.7l1.9-.8-1.5 0-2 .8zM403.6 292.5l2-.8-1.6 0-1.9 .8z" fill="#4758f8"/><path d="M409.1 290.8l1.9-.8-1.5 .1-2 .8z" fill="#465efb"/><path d="M401.6 293.2l2-.7-1.5 0-2 .7z" fill="#4758f8"/><path d="M407.1 291.6l2-.8-1.6 .1-1.9 .8z" fill="#465efb"/><path d="M399.7 294l1.9-.8-1.5 0-1.9 .8z" fill="#4758f8"/><path d="M405.1 292.4l2-.8-1.5 .1-2 .8z" fill="#465efb"/><path d="M410.6 290.5l2-.8-1.6 .3-1.9 .8z" fill="#4563fd"/><path d="M397.7 294.8l2-.8-1.5 0-2 .8z" fill="#4852f4"/><path d="M403.2 293.2l1.9-.8-1.5 .1-2 .7z" fill="#4758f8"/><path d="M408.6 291.4l2-.9-1.5 .3-2 .8z" fill="#4563fd"/><path d="M401.2 294l2-.8-1.6 0-1.9 .8z" fill="#4758f8"/><path d="M406.7 292.2l1.9-.8-1.5 .2-2 .8z" fill="#465efb"/><path d="M412.1 290.2l2-.9-1.5 .4-2 .8z" fill="#4269fe"/><path d="M399.2 294.8l2-.8-1.5 0-2 .8z" fill="#4758f8"/><path d="M404.7 293l2-.8-1.6 .2-1.9 .8z" fill="#465efb"/><path d="M410.2 291l1.9-.8-1.5 .3-2 .9z" fill="#4269fe"/><path d="M397.3 295.6l1.9-.8-1.5 0-1.9 .8z" fill="#4758f8"/><path d="M402.7 293.8l2-.8-1.5 .2-2 .8z" fill="#465efb"/><path d="M408.2 291.8l2-.8-1.6 .4-1.9 .8z" fill="#4563fd"/><path d="M413.6 289.6l2-.9-1.5 .6-2 .9z" fill="#3e6fff"/><path d="M395.3 296.4l2-.8-1.5 0-2 .8z" fill="#4852f4"/><path d="M400.8 294.6l1.9-.8-1.5 .2-2 .8z" fill="#465efb"/><path d="M406.2 292.7l2-.9-1.5 .4-2 .8z" fill="#4563fd"/><path d="M411.7 290.5l1.9-.9-1.5 .6-1.9 .8z" fill="#3e6fff"/><path d="M393.4 297.2l1.9-.8-1.5 0-2 .8z" fill="#4852f4"/><path d="M398.8 295.4l2-.8-1.6 .2-1.9 .8z" fill="#4758f8"/><path d="M404.3 293.5l1.9-.8-1.5 .3-2 .8z" fill="#4563fd"/><path d="M409.7 291.3l2-.8-1.5 .5-2 .8z" fill="#4269fe"/><path d="M396.8 296.3l2-.9-1.5 .2-2 .8z" fill="#4758f8"/><path d="M402.3 294.4l2-.9-1.6 .3-1.9 .8z" fill="#4563fd"/><path d="M415.2 288.8l1.9-.9-1.5 .8-2 .9z" fill="#3875fe"/><path d="M407.8 292.2l1.9-.9-1.5 .5-2 .9z" fill="#4269fe"/><path d="M394.9 297.1l1.9-.8-1.5 .1-1.9 .8z" fill="#4758f8"/><path d="M400.3 295.2l2-.8-1.5 .2-2 .8z" fill="#465efb"/><path d="M413.2 289.7l2-.9-1.6 .8-1.9 .9z" fill="#3875fe"/><path d="M405.8 293.1l2-.9-1.6 .5-1.9 .8z" fill="#4269fe"/><path d="M392.9 297.9l2-.8-1.5 .1-2 .8z" fill="#4758f8"/><path d="M398.4 296l1.9-.8-1.5 .2-2 .9z" fill="#465efb"/><path d="M411.2 290.6l2-.9-1.5 .8-2 .8z" fill="#3875fe"/><path d="M403.8 293.9l2-.8-1.5 .4-2 .9z" fill="#4269fe"/><path d="M391 298.7l1.9-.8-1.5 .1-2 .8z" fill="#4852f4"/><path d="M416.7 287.8l2-1-1.6 1.1-1.9 .9z" fill="#2f81fa"/><path d="M396.4 296.9l2-.9-1.6 .3-1.9 .8z" fill="#465efb"/><path d="M409.3 291.5l1.9-.9-1.5 .7-1.9 .9z" fill="#3e6fff"/><path d="M401.9 294.8l1.9-.9-1.5 .5-2 .8z" fill="#4563fd"/><path d="M389 299.5l2-.8-1.6 .1-1.9 .8z" fill="#4852f4"/><path d="M414.7 288.7l2-.9-1.5 1-2 .9z" fill="#327cfc"/><path d="M407.3 292.4l2-.9-1.5 .7-2 .9z" fill="#3e6fff"/><path d="M394.4 297.7l2-.8-1.5 .2-2 .8z" fill="#4758f8"/><path d="M399.9 295.7l2-.9-1.6 .4-1.9 .8z" fill="#4563fd"/><path d="M412.8 289.6l1.9-.9-1.5 1-2 .9z" fill="#327cfc"/><path d="M405.4 293.3l1.9-.9-1.5 .7-2 .8z" fill="#3e6fff"/><path d="M392.5 298.6l1.9-.9-1.5 .2-1.9 .8z" fill="#4758f8"/><path d="M397.9 296.5l2-.8-1.5 .3-2 .9z" fill="#4563fd"/><path d="M410.8 290.5l2-.9-1.6 1-1.9 .9z" fill="#327cfc"/><path d="M403.4 294.2l2-.9-1.6 .6-1.9 .9z" fill="#4269fe"/><path d="M390.5 299.4l2-.8-1.5 .1-2 .8z" fill="#4758f8"/><path d="M418.2 286.3l2-1-1.5 1.5-2 1z" fill="#2d8cf3"/><path d="M396 297.4l1.9-.9-1.5 .4-2 .8z" fill="#465efb"/><path d="M408.9 291.5l1.9-1-1.5 1-2 .9z" fill="#3875fe"/><path d="M401.4 295.1l2-.9-1.5 .6-2 .9z" fill="#4269fe"/><path d="M416.3 287.3l1.9-1-1.5 1.5-2 .9z" fill="#2e87f7"/><path d="M388.6 300.2l1.9-.8-1.5 .1-2 .9z" fill="#4758f8"/><path d="M394 298.3l2-.9-1.6 .3-1.9 .9z" fill="#465efb"/><path d="M406.9 292.4l2-.9-1.6 .9-1.9 .9z" fill="#3875fe"/><path d="M399.5 296l1.9-.9-1.5 .6-2 .8z" fill="#4269fe"/><path d="M414.3 288.3l2-1-1.6 1.4-1.9 .9z" fill="#2e87f7"/><path d="M386.6 301.1l2-.9-1.6 .2-1.9 .8z" fill="#4852f4"/><path d="M392 299.1l2-.8-1.5 .3-2 .8z" fill="#465efb"/><path d="M404.9 293.3l2-.9-1.5 .9-2 .9z" fill="#3875fe"/><path d="M397.5 296.9l2-.9-1.6 .5-1.9 .9z" fill="#4563fd"/><path d="M412.3 289.2l2-.9-1.5 1.3-2 .9z" fill="#2f81fa"/><path d="M384.6 301.9l2-.8-1.5 .1-2 .8z" fill="#4852f4"/><path d="M390.1 300l1.9-.9-1.5 .3-1.9 .8z" fill="#4758f8"/><path d="M403 294.3l1.9-1-1.5 .9-2 .9z" fill="#3e6fff"/><path d="M419.8 284.4l1.9-1.1-1.5 2-2 1z" fill="#2797eb"/><path d="M410.4 290.2l1.9-1-1.5 1.3-1.9 1z" fill="#2f81fa"/><path d="M395.5 297.8l2-.9-1.5 .5-2 .9z" fill="#4563fd"/><path d="M388.1 300.9l2-.9-1.5 .2-2 .9z" fill="#4758f8"/><path d="M417.8 285.4l2-1-1.6 1.9-1.9 1z" fill="#2b91ef"/><path d="M401 295.2l2-.9-1.6 .8-1.9 .9z" fill="#3e6fff"/><path d="M408.4 291.2l2-1-1.5 1.3-2 .9z" fill="#2f81fa"/><path d="M393.6 298.7l1.9-.9-1.5 .5-2 .8z" fill="#4563fd"/><path d="M386.2 301.7l1.9-.8-1.5 .2-2 .8z" fill="#4758f8"/><path d="M415.8 286.4l2-1-1.5 1.9-2 1z" fill="#2b91ef"/><path d="M399 296.1l2-.9-1.5 .8-2 .9z" fill="#3e6fff"/><path d="M406.4 292.2l2-1-1.5 1.2-2 .9z" fill="#327cfc"/><path d="M391.6 299.6l2-.9-1.6 .4-1.9 .9z" fill="#465efb"/><path d="M413.9 287.4l1.9-1-1.5 1.9-2 .9z" fill="#2b91ef"/><path d="M384.2 302.6l2-.9-1.6 .2-1.9 .9z" fill="#4758f8"/><path d="M397.1 297.1l1.9-1-1.5 .8-2 .9z" fill="#4269fe"/><path d="M404.5 293.1l1.9-.9-1.5 1.1-1.9 1z" fill="#327cfc"/><path d="M389.6 300.5l2-.9-1.5 .4-2 .9z" fill="#465efb"/><path d="M411.9 288.5l2-1.1-1.6 1.8-1.9 1z" fill="#2d8cf3"/><path d="M382.2 303.5l2-.9-1.5 .2-2 .8z" fill="#4852f4"/><path d="M395.1 298l2-.9-1.6 .7-1.9 .9z" fill="#4269fe"/><path d="M402.5 294.1l2-1-1.5 1.2-2 .9z" fill="#327cfc"/><path d="M421.3 281.7l2-1.1-1.6 2.7-1.9 1.1z" fill="#20a5e3"/><path d="M387.7 301.4l1.9-.9-1.5 .4-1.9 .8z" fill="#465efb"/><path d="M409.9 289.5l2-1-1.5 1.7-2 1z" fill="#2d8cf3"/><path d="M393.1 298.9l2-.9-1.5 .7-2 .9z" fill="#4269fe"/><path d="M400.6 295.1l1.9-1-1.5 1.1-2 .9z" fill="#3875fe"/><path d="M419.3 282.8l2-1.1-1.5 2.7-2 1z" fill="#23a0e5"/><path d="M385.7 302.3l2-.9-1.5 .3-2 .9z" fill="#465efb"/><path d="M408 290.5l1.9-1-1.5 1.7-2 1z" fill="#2e87f7"/><path d="M417.4 283.9l1.9-1.1-1.5 2.6-2 1z" fill="#23a0e5"/><path d="M398.6 296.1l2-1-1.6 1-1.9 1z" fill="#3875fe"/><path d="M391.2 299.9l1.9-1-1.5 .7-2 .9z" fill="#4563fd"/><path d="M383.8 303.2l1.9-.9-1.5 .3-2 .9z" fill="#4758f8"/><path d="M406 291.6l2-1.1-1.6 1.7-1.9 .9z" fill="#2e87f7"/><path d="M415.4 285l2-1.1-1.6 2.5-1.9 1z" fill="#259be8"/><path d="M396.6 297l2-.9-1.5 1-2 .9z" fill="#3e6fff"/><path d="M389.2 300.8l2-.9-1.6 .6-1.9 .9z" fill="#4563fd"/><path d="M381.8 304.1l2-.9-1.6 .3-1.9 .8z" fill="#4758f8"/><path d="M404.1 292.6l1.9-1-1.5 1.5-2 1z" fill="#2f81fa"/><path d="M413.4 286.1l2-1.1-1.5 2.4-2 1.1z" fill="#259be8"/><path d="M394.7 298l1.9-1-1.5 1-2 .9z" fill="#3e6fff"/><path d="M387.2 301.7l2-.9-1.5 .6-2 .9z" fill="#4563fd"/><path d="M402.1 293.6l2-1-1.6 1.5-1.9 1z" fill="#2f81fa"/><path d="M379.8 305l2-.9-1.5 .2-2 .9z" fill="#4758f8"/><path d="M411.5 287.2l1.9-1.1-1.5 2.4-2 1z" fill="#2797eb"/><path d="M392.7 299l2-1-1.6 .9-1.9 1z" fill="#3e6fff"/><path d="M385.3 302.7l1.9-1-1.5 .6-1.9 .9z" fill="#465efb"/><path d="M422.8 277.9l2-1.2-1.5 3.9-2 1.1z" fill="#08b5d0"/><path d="M400.1 294.7l2-1.1-1.5 1.5-2 1z" fill="#2f81fa"/><path d="M409.5 288.3l2-1.1-1.6 2.3-1.9 1z" fill="#2797eb"/><path d="M377.9 305.8l1.9-.8-1.5 .2-2 .9z" fill="#4852f4"/><path d="M390.7 300l2-1-1.5 .9-2 .9z" fill="#4269fe"/><path d="M420.9 279.1l1.9-1.2-1.5 3.8-2 1.1z" fill="#12b1d6"/><path d="M383.3 303.6l2-.9-1.5 .5-2 .9z" fill="#465efb"/><path d="M398.2 295.7l1.9-1-1.5 1.4-2 .9z" fill="#327cfc"/><path d="M407.5 289.4l2-1.1-1.5 2.2-2 1.1z" fill="#2b91ef"/><path d="M418.9 280.3l2-1.2-1.6 3.7-1.9 1.1z" fill="#12b1d6"/><path d="M388.8 301l1.9-1-1.5 .8-2 .9z" fill="#4269fe"/><path d="M381.4 304.5l1.9-.9-1.5 .5-2 .9z" fill="#465efb"/><path d="M396.2 296.7l2-1-1.6 1.3-1.9 1z" fill="#327cfc"/><path d="M405.6 290.5l1.9-1.1-1.5 2.2-1.9 1z" fill="#2b91ef"/><path d="M416.9 281.5l2-1.2-1.5 3.6-2 1.1z" fill="#18addb"/><path d="M386.8 301.9l2-.9-1.6 .7-1.9 1z" fill="#4563fd"/><path d="M379.4 305.5l2-1-1.6 .5-1.9 .8z" fill="#4758f8"/><path d="M394.2 297.7l2-1-1.5 1.3-2 1z" fill="#3875fe"/><path d="M403.6 291.6l2-1.1-1.5 2.1-2 1z" fill="#2d8cf3"/><path d="M415 282.7l1.9-1.2-1.5 3.5-2 1.1z" fill="#1ca9df"/><path d="M384.8 302.9l2-1-1.5 .8-2 .9z" fill="#4563fd"/><path d="M401.6 292.7l2-1.1-1.5 2-2 1.1z" fill="#2d8cf3"/><path d="M392.3 298.8l1.9-1.1-1.5 1.3-2 1z" fill="#3875fe"/><path d="M377.4 306.4l2-.9-1.5 .3-2 .9z" fill="#4758f8"/><path d="M413 283.9l2-1.2-1.6 3.4-1.9 1.1z" fill="#1ca9df"/><path d="M382.9 303.9l1.9-1-1.5 .7-1.9 .9z" fill="#4563fd"/><path d="M399.7 293.8l1.9-1.1-1.5 2-1.9 1z" fill="#2e87f7"/><path d="M390.3 299.8l2-1-1.6 1.2-1.9 1z" fill="#3e6fff"/><path d="M375.5 307.3l1.9-.9-1.5 .3-2 .9z" fill="#4758f8"/><path d="M411 285.1l2-1.2-1.5 3.3-2 1.1z" fill="#20a5e3"/><path d="M380.9 304.9l2-1-1.5 .6-2 1z" fill="#465efb"/><path d="M397.7 294.9l2-1.1-1.5 1.9-2 1z" fill="#2e87f7"/><path d="M409.1 286.3l1.9-1.2-1.5 3.2-2 1.1z" fill="#20a5e3"/><path d="M388.3 300.8l2-1-1.5 1.2-2 .9z" fill="#3e6fff"/><path d="M373.5 308.3l2-1-1.6 .3-1.9 .9z" fill="#4852f4"/><path d="M424.3 272.5l2-1.3-1.5 5.5-2 1.2z" fill="#24c1ae"/><path d="M395.8 296l1.9-1.1-1.5 1.8-2 1z" fill="#2f81fa"/><path d="M407.1 287.4l2-1.1-1.6 3.1-1.9 1.1z" fill="#23a0e5"/><path d="M379 305.8l1.9-.9-1.5 .6-2 .9z" fill="#465efb"/><path d="M386.4 301.9l1.9-1.1-1.5 1.1-2 1z" fill="#3e6fff"/><path d="M422.4 273.8l1.9-1.3-1.5 5.4-1.9 1.2z" fill="#19bfb6"/><path d="M405.1 288.6l2-1.2-1.5 3.1-2 1.1z" fill="#23a0e5"/><path d="M393.8 297.1l2-1.1-1.6 1.7-1.9 1.1z" fill="#2f81fa"/><path d="M377 306.8l2-1-1.6 .6-1.9 .9z" fill="#465efb"/><path d="M384.4 302.9l2-1-1.6 1-1.9 1z" fill="#4269fe"/><path d="M420.4 275.1l2-1.3-1.5 5.3-2 1.2z" fill="#19bfb6"/><path d="M403.2 289.8l1.9-1.2-1.5 3-2 1.1z" fill="#259be8"/><path d="M391.8 298.2l2-1.1-1.5 1.7-2 1z" fill="#2f81fa"/><path d="M418.5 276.4l1.9-1.3-1.5 5.2-2 1.2z" fill="#0bbdbd"/><path d="M375 307.8l2-1-1.5 .5-2 1z" fill="#4758f8"/><path d="M382.4 303.9l2-1-1.5 1-2 1z" fill="#4269fe"/><path d="M401.2 291l2-1.2-1.6 2.9-1.9 1.1z" fill="#2797eb"/><path d="M416.5 277.8l2-1.4-1.6 5.1-1.9 1.2z" fill="#02bac3"/><path d="M389.9 299.3l1.9-1.1-1.5 1.6-2 1z" fill="#327cfc"/><path d="M380.5 305l1.9-1.1-1.5 1-1.9 .9z" fill="#4563fd"/><path d="M373.1 308.8l1.9-1-1.5 .5-2 .9z" fill="#4758f8"/><path d="M414.5 279.1l2-1.3-1.5 4.9-2 1.2z" fill="#02bac3"/><path d="M399.2 292.2l2-1.2-1.5 2.8-2 1.1z" fill="#2797eb"/><path d="M387.9 300.4l2-1.1-1.6 1.5-1.9 1.1z" fill="#327cfc"/><path d="M378.5 306l2-1-1.5 .8-2 1z" fill="#4563fd"/><path d="M371.1 309.7l2-.9-1.6 .4-1.9 .9z" fill="#4852f4"/><path d="M412.6 280.4l1.9-1.3-1.5 4.8-2 1.2z" fill="#01b8ca"/><path d="M397.3 293.4l1.9-1.2-1.5 2.7-1.9 1.1z" fill="#2b91ef"/><path d="M385.9 301.5l2-1.1-1.5 1.5-2 1z" fill="#3875fe"/><path d="M410.6 281.7l2-1.3-1.6 4.7-1.9 1.2z" fill="#08b5d0"/><path d="M376.6 307l1.9-1-1.5 .8-2 1z" fill="#465efb"/><path d="M395.3 294.6l2-1.2-1.5 2.6-2 1.1z" fill="#2b91ef"/><path d="M384 302.6l1.9-1.1-1.5 1.4-2 1z" fill="#3875fe"/><path d="M408.6 283l2-1.3-1.5 4.6-2 1.1z" fill="#08b5d0"/><path d="M393.4 295.8l1.9-1.2-1.5 2.5-2 1.1z" fill="#2d8cf3"/><path d="M374.6 308l2-1-1.6 .8-1.9 1z" fill="#465efb"/><path d="M382 303.7l2-1.1-1.6 1.3-1.9 1.1z" fill="#3e6fff"/><path d="M406.7 284.3l1.9-1.3-1.5 4.4-2 1.2z" fill="#12b1d6"/><path d="M391.4 297l2-1.2-1.6 2.4-1.9 1.1z" fill="#2d8cf3"/><path d="M372.6 309.1l2-1.1-1.5 .8-2 .9z" fill="#465efb"/><path d="M404.7 285.6l2-1.3-1.6 4.3-1.9 1.2z" fill="#18addb"/><path d="M380 304.8l2-1.1-1.5 1.3-2 1z" fill="#3e6fff"/><path d="M389.4 298.1l2-1.1-1.5 2.3-2 1.1z" fill="#2e87f7"/><path d="M370.7 310.1l1.9-1-1.5 .6-2 1z" fill="#4758f8"/><path d="M402.7 287l2-1.4-1.5 4.2-2 1.2z" fill="#18addb"/><path d="M425.9 264.2l1.9-1.5-1.5 8.5-2 1.3z" fill="#72cd64"/><path d="M378.1 305.9l1.9-1.1-1.5 1.2-1.9 1z" fill="#4269fe"/><path d="M387.5 299.3l1.9-1.2-1.5 2.3-2 1.1z" fill="#2e87f7"/><path d="M423.9 265.7l2-1.5-1.6 8.3-1.9 1.3z" fill="#64cd6f"/><path d="M400.8 288.3l1.9-1.3-1.5 4-2 1.2z" fill="#1ca9df"/><path d="M368.7 311.1l2-1-1.6 .6-1.9 1z" fill="#4758f8"/><path d="M376.1 307l2-1.1-1.5 1.1-2 1z" fill="#4269fe"/><path d="M421.9 267.2l2-1.5-1.5 8.1-2 1.3z" fill="#57cc7a"/><path d="M385.5 300.5l2-1.2-1.6 2.2-1.9 1.1z" fill="#2f81fa"/><path d="M398.8 289.6l2-1.3-1.6 3.9-1.9 1.2z" fill="#20a5e3"/><path d="M420 268.7l1.9-1.5-1.5 7.9-1.9 1.3z" fill="#4acb84"/><path d="M366.7 312.2l2-1.1-1.5 .6-2 1z" fill="#4852f4"/><path d="M374.2 308.1l1.9-1.1-1.5 1-2 1.1z" fill="#4563fd"/><path d="M396.9 290.9l1.9-1.3-1.5 3.8-2 1.2z" fill="#20a5e3"/><path d="M383.5 301.7l2-1.2-1.5 2.1-2 1.1z" fill="#327cfc"/><path d="M418 270.2l2-1.5-1.5 7.7-2 1.4z" fill="#3fca8e"/><path d="M394.9 292.2l2-1.3-1.6 3.7-1.9 1.2z" fill="#23a0e5"/><path d="M372.2 309.1l2-1-1.6 1-1.9 1z" fill="#4563fd"/><path d="M381.6 302.9l1.9-1.2-1.5 2-2 1.1z" fill="#327cfc"/><path d="M416.1 271.7l1.9-1.5-1.5 7.6-2 1.3z" fill="#3fca8e"/><path d="M414.1 273.2l2-1.5-1.6 7.4-1.9 1.3z" fill="#37c897"/><path d="M392.9 293.5l2-1.3-1.5 3.6-2 1.2z" fill="#259be8"/><path d="M379.6 304.1l2-1.2-1.6 1.9-1.9 1.1z" fill="#3875fe"/><path d="M370.2 310.2l2-1.1-1.5 1-2 1z" fill="#465efb"/><path d="M412.1 274.7l2-1.5-1.5 7.2-2 1.3z" fill="#31c69f"/><path d="M391 294.8l1.9-1.3-1.5 3.5-2 1.1z" fill="#259be8"/><path d="M377.6 305.3l2-1.2-1.5 1.8-2 1.1z" fill="#3875fe"/><path d="M368.3 311.3l1.9-1.1-1.5 .9-2 1.1z" fill="#465efb"/><path d="M410.2 276.2l1.9-1.5-1.5 7-2 1.3z" fill="#2cc4a7"/><path d="M389 296.2l2-1.4-1.6 3.3-1.9 1.2z" fill="#2797eb"/><path d="M408.2 277.7l2-1.5-1.6 6.8-1.9 1.3z" fill="#24c1ae"/><path d="M375.7 306.5l1.9-1.2-1.5 1.7-1.9 1.1z" fill="#3e6fff"/><path d="M366.3 312.4l2-1.1-1.6 .9-1.9 1z" fill="#4758f8"/><path d="M387 297.5l2-1.3-1.5 3.1-2 1.2z" fill="#2b91ef"/><path d="M406.2 279.2l2-1.5-1.5 6.6-2 1.3z" fill="#19bfb6"/><path d="M373.7 307.7l2-1.2-1.5 1.6-2 1z" fill="#3e6fff"/><path d="M364.3 313.5l2-1.1-1.5 .8-2 1z" fill="#4758f8"/><path d="M385.1 298.8l1.9-1.3-1.5 3-2 1.2z" fill="#2b91ef"/><path d="M404.3 280.7l1.9-1.5-1.5 6.4-2 1.4z" fill="#19bfb6"/><path d="M371.8 308.9l1.9-1.2-1.5 1.4-2 1.1z" fill="#4269fe"/><path d="M402.3 282.2l2-1.5-1.6 6.3-1.9 1.3z" fill="#0bbdbd"/><path d="M383.1 300.1l2-1.3-1.6 2.9-1.9 1.2z" fill="#2d8cf3"/><path d="M362.4 314.6l1.9-1.1-1.5 .7-2 1.1z" fill="#4852f4"/><path d="M400.3 283.7l2-1.5-1.5 6.1-2 1.3z" fill="#02bac3"/><path d="M369.8 310l2-1.1-1.6 1.3-1.9 1.1z" fill="#4563fd"/><path d="M381.1 301.4l2-1.3-1.5 2.8-2 1.2z" fill="#2e87f7"/><path d="M398.4 285.2l1.9-1.5-1.5 5.9-1.9 1.3z" fill="#01b8ca"/><path d="M379.2 302.7l1.9-1.3-1.5 2.7-2 1.2z" fill="#2e87f7"/><path d="M367.8 311.2l2-1.2-1.5 1.3-2 1.1z" fill="#4563fd"/><path d="M396.4 286.7l2-1.5-1.5 5.7-2 1.3z" fill="#08b5d0"/><path d="M377.2 304.1l2-1.4-1.6 2.6-1.9 1.2z" fill="#2f81fa"/><path d="M365.9 312.4l1.9-1.2-1.5 1.2-2 1.1z" fill="#465efb"/><path d="M394.4 288.2l2-1.5-1.5 5.5-2 1.3z" fill="#08b5d0"/><path d="M375.2 305.4l2-1.3-1.5 2.4-2 1.2z" fill="#327cfc"/><path d="M392.5 289.7l1.9-1.5-1.5 5.3-1.9 1.3z" fill="#12b1d6"/><path d="M363.9 313.6l2-1.2-1.6 1.1-1.9 1.1z" fill="#465efb"/><path d="M390.5 291.2l2-1.5-1.5 5.1-2 1.4z" fill="#18addb"/><path d="M373.3 306.7l1.9-1.3-1.5 2.3-1.9 1.2z" fill="#327cfc"/><path d="M361.9 314.8l2-1.2-1.5 1-2 1.1z" fill="#4758f8"/><path d="M388.6 292.7l1.9-1.5-1.5 5-2 1.3z" fill="#1ca9df"/><path d="M371.3 308l2-1.3-1.5 2.2-2 1.1z" fill="#3875fe"/><path d="M427.4 249.7l2-1.8-1.6 14.8-1.9 1.5z" fill="#fec338"/><path d="M360 316l1.9-1.2-1.5 .9-2 1.1z" fill="#4758f8"/><path d="M386.6 294.2l2-1.5-1.6 4.8-1.9 1.3z" fill="#20a5e3"/><path d="M425.4 251.5l2-1.8-1.5 14.5-2 1.5z" fill="#febe3c"/><path d="M369.4 309.3l1.9-1.3-1.5 2-2 1.2z" fill="#3e6fff"/><path d="M384.6 295.7l2-1.5-1.5 4.6-2 1.3z" fill="#23a0e5"/><path d="M423.5 253.3l1.9-1.8-1.5 14.2-2 1.5z" fill="#f8ba3d"/><path d="M421.5 255.2l2-1.9-1.6 13.9-1.9 1.5z" fill="#f0ba36"/><path d="M367.4 310.6l2-1.3-1.6 1.9-1.9 1.2z" fill="#3e6fff"/><path d="M382.7 297.2l1.9-1.5-1.5 4.4-2 1.3z" fill="#23a0e5"/><path d="M419.5 257l2-1.8-1.5 13.5-2 1.5z" fill="#e6bb2d"/><path d="M365.4 311.9l2-1.3-1.5 1.8-2 1.2z" fill="#4269fe"/><path d="M380.7 298.7l2-1.5-1.6 4.2-1.9 1.3z" fill="#259be8"/><path d="M417.6 258.8l1.9-1.8-1.5 13.2-1.9 1.5z" fill="#d1bf27"/><path d="M415.6 260.6l2-1.8-1.5 12.9-2 1.5z" fill="#c5c22a"/><path d="M378.7 300.2l2-1.5-1.5 4-2 1.4z" fill="#2797eb"/><path d="M363.5 313.3l1.9-1.4-1.5 1.7-2 1.2z" fill="#4563fd"/><path d="M413.7 262.4l1.9-1.8-1.5 12.6-2 1.5z" fill="#b9c431"/><path d="M376.8 301.7l1.9-1.5-1.5 3.9-2 1.3z" fill="#2b91ef"/><path d="M411.7 264.2l2-1.8-1.6 12.3-1.9 1.5z" fill="#abc739"/><path d="M361.5 314.6l2-1.3-1.6 1.5-1.9 1.2z" fill="#4563fd"/><path d="M409.7 266l2-1.8-1.5 12-2 1.5z" fill="#9dc943"/><path d="M374.8 303.2l2-1.5-1.6 3.7-1.9 1.3z" fill="#2d8cf3"/><path d="M407.8 267.8l1.9-1.8-1.5 11.7-2 1.5z" fill="#8fcb4e"/><path d="M359.5 315.9l2-1.3-1.5 1.4-2 1.2z" fill="#465efb"/><path d="M405.8 269.6l2-1.8-1.6 11.4-1.9 1.5z" fill="#81cc59"/><path d="M372.8 304.7l2-1.5-1.5 3.5-2 1.3z" fill="#2e87f7"/><path d="M403.8 271.4l2-1.8-1.5 11.1-2 1.5z" fill="#72cd64"/><path d="M357.6 317.2l1.9-1.3-1.5 1.3-2 1.2z" fill="#4758f8"/><path d="M370.9 306.2l1.9-1.5-1.5 3.3-1.9 1.3z" fill="#2e87f7"/><path d="M401.9 273.2l1.9-1.8-1.5 10.8-2 1.5z" fill="#64cd6f"/><path d="M399.9 275l2-1.8-1.6 10.5-1.9 1.5z" fill="#57cc7a"/><path d="M368.9 307.7l2-1.5-1.5 3.1-2 1.3z" fill="#2f81fa"/><path d="M355.6 318.5l2-1.3-1.6 1.2-1.9 1.2z" fill="#4758f8"/><path d="M397.9 276.8l2-1.8-1.5 10.2-2 1.5z" fill="#4acb84"/><path d="M367 309.2l1.9-1.5-1.5 2.9-2 1.3z" fill="#327cfc"/><path d="M396 278.7l1.9-1.9-1.5 9.9-2 1.5z" fill="#37c897"/><path d="M394 280.5l2-1.8-1.6 9.5-1.9 1.5z" fill="#31c69f"/><path d="M365 310.7l2-1.5-1.6 2.7-1.9 1.4z" fill="#3875fe"/><path d="M392.1 282.3l1.9-1.8-1.5 9.2-2 1.5z" fill="#2cc4a7"/><path d="M363 312.2l2-1.5-1.5 2.6-2 1.3z" fill="#3e6fff"/><path d="M390.1 284.1l2-1.8-1.6 8.9-1.9 1.5z" fill="#24c1ae"/><path d="M388.1 285.9l2-1.8-1.5 8.6-2 1.5z" fill="#19bfb6"/><path d="M361.1 313.7l1.9-1.5-1.5 2.4-2 1.3z" fill="#3e6fff"/><path d="M386.2 287.7l1.9-1.8-1.5 8.3-2 1.5z" fill="#0bbdbd"/><path d="M359.1 315.2l2-1.5-1.6 2.2-1.9 1.3z" fill="#4269fe"/><path d="M384.2 289.5l2-1.8-1.6 8-1.9 1.5z" fill="#02bac3"/><path d="M382.2 291.3l2-1.8-1.5 7.7-2 1.5z" fill="#01b8ca"/><path d="M357.1 316.7l2-1.5-1.5 2-2 1.3z" fill="#4563fd"/><path d="M380.3 293.1l1.9-1.8-1.5 7.4-2 1.5z" fill="#08b5d0"/><path d="M355.2 318.1l1.9-1.4-1.5 1.8-2 1.3z" fill="#465efb"/><path d="M378.3 294.9l2-1.8-1.6 7.1-1.9 1.5z" fill="#12b1d6"/><path d="M376.3 296.7l2-1.8-1.5 6.8-2 1.5z" fill="#18addb"/><path d="M353.2 319.6l2-1.5-1.6 1.7-1.9 1.3z" fill="#4758f8"/><path d="M374.4 298.5l1.9-1.8-1.5 6.5-2 1.5z" fill="#1ca9df"/><path d="M351.2 321.1l2-1.5-1.5 1.5-2 1.4z" fill="#4852f4"/><path d="M372.4 300.3l2-1.8-1.6 6.2-1.9 1.5z" fill="#23a0e5"/><path d="M370.4 302.2l2-1.9-1.5 5.9-2 1.5z" fill="#259be8"/><path d="M368.5 304l1.9-1.8-1.5 5.5-1.9 1.5z" fill="#2797eb"/><path d="M366.5 305.8l2-1.8-1.5 5.2-2 1.5z" fill="#2b91ef"/><path d="M364.6 307.6l1.9-1.8-1.5 4.9-2 1.5z" fill="#2d8cf3"/><path d="M362.6 309.4l2-1.8-1.6 4.6-1.9 1.5z" fill="#2e87f7"/><path d="M360.6 311.2l2-1.8-1.5 4.3-2 1.5z" fill="#2f81fa"/><path d="M358.7 313l1.9-1.8-1.5 4-2 1.5z" fill="#327cfc"/><path d="M356.7 314.8l2-1.8-1.6 3.7-1.9 1.4z" fill="#3875fe"/><path d="M354.7 316.6l2-1.8-1.5 3.3-2 1.5z" fill="#3e6fff"/><path d="M352.8 318.4l1.9-1.8-1.5 3-2 1.5z" fill="#4269fe"/><path d="M350.8 320.2l2-1.8-1.6 2.7-1.9 1.5z" fill="#465efb"/><path d="M348.8 322l2-1.8-1.5 2.4-2 1.5z" fill="#4758f8"/><path d="M346.9 323.8l1.9-1.8-1.5 2.1-2 1.5z" fill="#4852f4"/><path d="M419.1 242.5l2-2.1-1.6 16.6-1.9 1.8z" fill="#f9fb15"/><path d="M417.1 244.7l2-2.2-1.5 16.3-2 1.8z" fill="#f7f51b"/><path d="M415.2 246.9l1.9-2.2-1.5 15.9-1.9 1.8z" fill="#f5e924"/><path d="M413.2 249.1l2-2.2-1.5 15.5-2 1.8z" fill="#f5e327"/><path d="M411.3 251.3l1.9-2.2-1.5 15.1-2 1.8z" fill="#fad62d"/><path d="M409.3 253.5l2-2.2-1.6 14.7-1.9 1.8z" fill="#fccf30"/><path d="M407.3 255.7l2-2.2-1.5 14.3-2 1.8z" fill="#fec934"/><path d="M405.4 257.9l1.9-2.2-1.5 13.9-2 1.8z" fill="#febe3c"/><path d="M403.4 260.1l2-2.2-1.6 13.5-1.9 1.8z" fill="#f8ba3d"/><path d="M401.4 262.3l2-2.2-1.5 13.1-2 1.8z" fill="#e6bb2d"/><path d="M399.5 264.5l1.9-2.2-1.5 12.7-2 1.8z" fill="#dcbd29"/><path d="M397.5 266.7l2-2.2-1.6 12.3-1.9 1.9z" fill="#d1bf27"/><path d="M395.5 268.9l2-2.2-1.5 12-2 1.8z" fill="#b9c431"/><path d="M393.6 271l1.9-2.1-1.5 11.6-1.9 1.8z" fill="#abc739"/><path d="M391.6 273.2l2-2.2-1.5 11.3-2 1.8z" fill="#8fcb4e"/><path d="M389.7 275.4l1.9-2.2-1.5 10.9-2 1.8z" fill="#81cc59"/><path d="M387.7 277.6l2-2.2-1.6 10.5-1.9 1.8z" fill="#72cd64"/><path d="M385.7 279.8l2-2.2-1.5 10.1-2 1.8z" fill="#57cc7a"/><path d="M383.8 282l1.9-2.2-1.5 9.7-2 1.8z" fill="#4acb84"/><path d="M381.8 284.2l2-2.2-1.6 9.3-1.9 1.8z" fill="#37c897"/><path d="M379.8 286.4l2-2.2-1.5 8.9-2 1.8z" fill="#31c69f"/><path d="M377.9 288.6l1.9-2.2-1.5 8.5-2 1.8z" fill="#24c1ae"/><path d="M375.9 290.8l2-2.2-1.6 8.1-1.9 1.8z" fill="#19bfb6"/><path d="M373.9 293l2-2.2-1.5 7.7-2 1.8z" fill="#0bbdbd"/><path d="M372 295.2l1.9-2.2-1.5 7.3-2 1.9z" fill="#01b8ca"/><path d="M370 297.4l2-2.2-1.6 7-1.9 1.8z" fill="#08b5d0"/><path d="M368 299.5l2-2.1-1.5 6.6-2 1.8z" fill="#18addb"/><path d="M366.1 301.7l1.9-2.2-1.5 6.3-1.9 1.8z" fill="#1ca9df"/><path d="M364.1 303.9l2-2.2-1.5 5.9-2 1.8z" fill="#20a5e3"/><path d="M362.2 306.1l1.9-2.2-1.5 5.5-2 1.8z" fill="#259be8"/><path d="M360.2 308.3l2-2.2-1.6 5.1-1.9 1.8z" fill="#2797eb"/><path d="M358.2 310.5l2-2.2-1.5 4.7-2 1.8z" fill="#2d8cf3"/><path d="M356.3 312.7l1.9-2.2-1.5 4.3-2 1.8z" fill="#2e87f7"/><path d="M354.3 314.9l2-2.2-1.6 3.9-1.9 1.8z" fill="#327cfc"/><path d="M352.3 317.1l2-2.2-1.5 3.5-2 1.8z" fill="#3875fe"/><path d="M350.4 319.3l1.9-2.2-1.5 3.1-2 1.8z" fill="#3e6fff"/><path d="M348.4 321.5l2-2.2-1.6 2.7-1.9 1.8z" fill="#4563fd"/><path d="M346.4 323.7l2-2.2-1.5 2.3-2 1.9z" fill="#465efb"/><path d="M344.5 325.9l1.9-2.2-1.5 2-2 1.8z" fill="#4852f4"/><path d="M342.1 327.2l1.9-3.1-1.5 3.9-1.9 2.2z" fill="#465efb"/><path d="M344 324.1l2-3.1-1.5 4.9-2 2.1z" fill="#4269fe"/><path d="M346 321l2-3.1-1.6 5.8-1.9 2.2z" fill="#3875fe"/><path d="M348 317.9l1.9-3.2-1.5 6.8-2 2.2z" fill="#2f81fa"/><path d="M349.9 314.7l2-3.1-1.5 7.7-2 2.2z" fill="#2d8cf3"/><path d="M351.9 311.6l2-3.1-1.6 8.6-1.9 2.2z" fill="#259be8"/><path d="M353.9 308.5l1.9-3.1-1.5 9.5-2 2.2z" fill="#20a5e3"/><path d="M355.8 305.4l2-3.1-1.5 10.4-2 2.2z" fill="#18addb"/><path d="M357.8 302.3l2-3.2-1.6 11.4-1.9 2.2z" fill="#08b5d0"/><path d="M359.8 299.1l1.9-3.1-1.5 12.3-2 2.2z" fill="#02bac3"/><path d="M361.7 296l2-3.1-1.5 13.2-2 2.2z" fill="#24c1ae"/><path d="M363.7 292.9l1.9-3.1-1.5 14.1-1.9 2.2z" fill="#31c69f"/><path d="M365.6 289.8l2-3.1-1.5 15-2 2.2z" fill="#3fca8e"/><path d="M367.6 286.7l2-3.2-1.6 16-1.9 2.2z" fill="#57cc7a"/><path d="M369.6 283.5l1.9-3.1-1.5 17-2 2.1z" fill="#72cd64"/><path d="M371.5 280.4l2-3.1-1.5 17.9-2 2.2z" fill="#9dc943"/><path d="M373.5 277.3l2-3.1-1.6 18.8-1.9 2.2z" fill="#b9c431"/><path d="M375.5 274.2l1.9-3.1-1.5 19.7-2 2.2z" fill="#d1bf27"/><path d="M377.4 271.1l2-3.2-1.5 20.7-2 2.2z" fill="#e6bb2d"/><path d="M379.4 267.9l2-3.1-1.6 21.6-1.9 2.2z" fill="#f8ba3d"/><path d="M381.4 264.8l1.9-3.1-1.5 22.5-2 2.2z" fill="#fec934"/><path d="M383.3 261.7l2-3.1-1.5 23.4-2 2.2z" fill="#fad62d"/><path d="M385.3 258.6l1.9-3.1-1.5 24.3-1.9 2.2z" fill="#f5e327"/><path d="M387.2 255.5l2-3.1-1.5 25.2-2 2.2z" fill="#f6ef20"/><path d="M389.2 252.4l2-3.2-1.5 26.2-2 2.2z" fill="#f9fb15"/></g>
<g stroke="#4a4a4a" stroke-width="0.2">
<text x="340.1" y="348.8" font-size="5.2" text-anchor="start" fill="#3a3a3a">0</text>
<text x="359.8" y="343.4" font-size="5.2" text-anchor="start" fill="#3a3a3a">20</text>
<text x="379.4" y="337.3" font-size="5.2" text-anchor="start" fill="#3a3a3a">40</text>
<text x="399.1" y="331.9" font-size="5.2" text-anchor="start" fill="#3a3a3a">60</text>
<text x="418.7" y="327" font-size="5.2" text-anchor="start" fill="#3a3a3a">80</text>
<text x="438.3" y="321.6" font-size="5.2" text-anchor="start" fill="#3a3a3a">100</text>
<text x="331.4" y="347.9" font-size="5.2" text-anchor="end" fill="#3a3a3a">0</text>
<text x="293.2" y="330.2" font-size="5.2" text-anchor="end" fill="#3a3a3a">50</text>
<text x="255" y="312.6" font-size="5.2" text-anchor="end" fill="#3a3a3a">100</text>
<text x="255.4" y="306.6" font-size="5.2" text-anchor="end" fill="#3a3a3a">0</text>
<text x="255.4" y="294" font-size="5.2" text-anchor="end" fill="#3a3a3a">1</text>
<text x="255.4" y="281.5" font-size="5.2" text-anchor="end" fill="#3a3a3a">2</text>
<text x="255.4" y="268.9" font-size="5.2" text-anchor="end" fill="#3a3a3a">3</text>
<text x="255.4" y="256.3" font-size="5.2" text-anchor="end" fill="#3a3a3a">4</text>
<text x="255.4" y="243.8" font-size="5.2" text-anchor="end" fill="#3a3a3a">5</text>
<text x="255.4" y="231.2" font-size="5.2" text-anchor="end" fill="#3a3a3a">6</text>
</g>
<text x="379.5" y="349.9" font-size="5.8" text-anchor="middle" fill="#7a7a7a">ω</text>
<text x="296.7" y="347.6" font-size="5.8" text-anchor="middle" fill="#7a7a7a">σ</text>
<text transform="translate(245.8 268) rotate(-90)" font-size="6.4" text-anchor="middle" fill="#444" stroke="#555" stroke-width="0.15">R<tspan font-size="4.6" dy="2.9">3</tspan></text>
<text x="243.8" y="222.9" font-size="5.4" fill="#444" stroke="#555" stroke-width="0.18"><tspan font-size="6">×</tspan><tspan dx="0.6">10</tspan><tspan font-size="4.3" dy="-2.8">-4</tspan></text>
<text transform="translate(79.32 183.3) scale(1.025 1.00)" class="cap">(a)</text>
<text transform="translate(103.69 183.3) scale(1.005 1.00)" class="cap" font-style="italic">ω</text>
<text transform="translate(115.25 183.3) scale(1.584 1.00)" class="cap">,</text>
<text transform="translate(125.98 183.3) scale(1.101 1.12)" class="cap" font-style="italic">β</text>
<text transform="translate(314.82 183.3) scale(1.018 1.00)" class="cap">(b)</text>
<text transform="translate(340.28 183.3) scale(1.032 1.00)" class="cap" font-style="italic">ω</text>
<text transform="translate(352.25 183.3) scale(1.584 1.00)" class="cap">,</text>
<text transform="translate(361.32 183.3) scale(1.315 1.10)" class="cap" font-style="italic">τ</text>
<text transform="translate(548.91 183.3) scale(1.048 1.00)" class="cap">(c)</text>
<text transform="translate(573.33 183.3) scale(1.282 1.05)" class="cap" font-style="italic">α</text>
<text transform="translate(584.41 183.3) scale(1.485 1.00)" class="cap">,</text>
<text transform="translate(593.18 183.3) scale(1.302 1.06)" class="cap" font-style="italic">ψ</text>
<text transform="translate(80.83 383.9) scale(1.013 1.00)" class="cap">(d)</text>
<text transform="translate(105.58 383.9) scale(1.051 1.00)" class="cap" font-style="italic">ω</text>
<text transform="translate(117.71 383.9) scale(1.485 1.00)" class="cap">,</text>
<text transform="translate(126.45 383.9) scale(1.541 1.17)" class="cap" font-style="italic">γ</text>
<text transform="translate(314.31 383.9) scale(1.048 1.00)" class="cap">(e)</text>
<text transform="translate(338.69 383.9) scale(1.005 1.00)" class="cap" font-style="italic">ω</text>
<text transform="translate(350.81 383.9) scale(1.485 1.00)" class="cap">,</text>
<text transform="translate(360.22 383.9) scale(1.444 1.12)" class="cap" font-style="italic">υ</text>
<text transform="translate(550.54 383.9) scale(0.964 1.00)" class="cap">(f)</text>
<text transform="translate(573.13 383.9) scale(1.022 1.12)" class="cap" font-style="italic">β</text>
<text transform="translate(582.45 383.9) scale(1.584 1.00)" class="cap">,</text>
<text transform="translate(593.24 383.9) scale(1.224 1.05)" class="cap" font-style="italic">α</text>
</svg></div>
</body></html>
